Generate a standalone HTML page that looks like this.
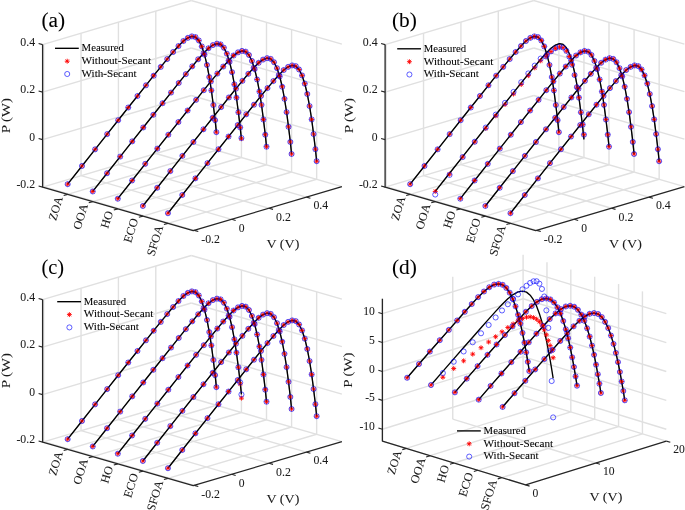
<!DOCTYPE html>
<html lang="en">
<head>
<meta charset="utf-8">
<title>P-V curves</title>
<style>
html,body{margin:0;padding:0;background:#fff;}
body{width:685px;height:510px;overflow:hidden;}
svg text{font-family:"Liberation Serif", "DejaVu Serif", serif;}
</style>
</head>
<body>
<svg width="685" height="510" viewBox="0 0 685 510" font-family='"Liberation Serif", "DejaVu Serif", serif' style="display:block">
<rect x="0" y="0" width="685" height="510" fill="#fff"/>
<line x1="42.6" y1="187.1" x2="191.3" y2="143" stroke="#e0e0e0" stroke-width="1.4"/>
<line x1="191.3" y1="143" x2="341.9" y2="186.6" stroke="#e0e0e0" stroke-width="1.4"/>
<line x1="42.6" y1="139.6" x2="191.3" y2="95.5" stroke="#e0e0e0" stroke-width="1.4"/>
<line x1="191.3" y1="95.5" x2="341.9" y2="139.1" stroke="#e0e0e0" stroke-width="1.4"/>
<line x1="42.6" y1="92.1" x2="191.3" y2="48" stroke="#e0e0e0" stroke-width="1.4"/>
<line x1="191.3" y1="48" x2="341.9" y2="91.6" stroke="#e0e0e0" stroke-width="1.4"/>
<line x1="42.6" y1="44.6" x2="191.3" y2="0.5" stroke="#e0e0e0" stroke-width="1.4"/>
<line x1="191.3" y1="0.5" x2="341.9" y2="44.1" stroke="#e0e0e0" stroke-width="1.4"/>
<line x1="43.67" y1="186.78" x2="43.67" y2="44.28" stroke="#e0e0e0" stroke-width="1.4"/>
<line x1="43.67" y1="186.78" x2="194.27" y2="230.38" stroke="#e0e0e0" stroke-width="1.4"/>
<line x1="81.04" y1="175.7" x2="81.04" y2="33.2" stroke="#e0e0e0" stroke-width="1.4"/>
<line x1="81.04" y1="175.7" x2="231.64" y2="219.3" stroke="#e0e0e0" stroke-width="1.4"/>
<line x1="118.42" y1="164.61" x2="118.42" y2="22.11" stroke="#e0e0e0" stroke-width="1.4"/>
<line x1="118.42" y1="164.61" x2="269.02" y2="208.21" stroke="#e0e0e0" stroke-width="1.4"/>
<line x1="155.79" y1="153.53" x2="155.79" y2="11.03" stroke="#e0e0e0" stroke-width="1.4"/>
<line x1="155.79" y1="153.53" x2="306.39" y2="197.13" stroke="#e0e0e0" stroke-width="1.4"/>
<line x1="216.37" y1="150.26" x2="216.37" y2="7.76" stroke="#e0e0e0" stroke-width="1.4"/>
<line x1="67.67" y1="194.36" x2="216.37" y2="150.26" stroke="#e0e0e0" stroke-width="1.4"/>
<line x1="241.44" y1="157.52" x2="241.44" y2="15.02" stroke="#e0e0e0" stroke-width="1.4"/>
<line x1="92.74" y1="201.62" x2="241.44" y2="157.52" stroke="#e0e0e0" stroke-width="1.4"/>
<line x1="266.51" y1="164.77" x2="266.51" y2="22.27" stroke="#e0e0e0" stroke-width="1.4"/>
<line x1="117.81" y1="208.87" x2="266.51" y2="164.77" stroke="#e0e0e0" stroke-width="1.4"/>
<line x1="291.58" y1="172.03" x2="291.58" y2="29.53" stroke="#e0e0e0" stroke-width="1.4"/>
<line x1="142.88" y1="216.13" x2="291.58" y2="172.03" stroke="#e0e0e0" stroke-width="1.4"/>
<line x1="316.65" y1="179.29" x2="316.65" y2="36.79" stroke="#e0e0e0" stroke-width="1.4"/>
<line x1="167.95" y1="223.39" x2="316.65" y2="179.29" stroke="#e0e0e0" stroke-width="1.4"/>
<polyline points="67.67,184.18 81.99,165.98 95.12,149.34 107.18,134.11 118.18,120.22 128.26,107.53 137.47,95.99 145.95,85.31 153.67,75.69 160.76,66.89 167.2,59.07 173.11,52.03 178.49,46.06 183.42,41 187.83,37.85 191.89,36.38 195.52,37.14 198.8,40.47 201.78,46.42 204.5,54.63 206.99,64.96 209.29,77.06 211.38,90.39 213.31,105.03 215.12,120.17 216.37,132.18" fill="none" stroke="#000" stroke-width="1.35" stroke-linejoin="round"/>
<polyline points="92.74,191.44 107.06,173.23 120.19,156.6 132.25,141.37 143.26,127.48 153.33,114.79 162.54,103.25 171.03,92.57 178.74,82.95 185.83,74.15 192.27,66.33 198.18,59.29 203.56,53.32 208.49,48.26 212.91,45.1 216.96,43.64 220.59,44.39 223.87,47.73 226.85,53.68 229.57,61.89 232.06,72.22 234.36,84.32 236.45,97.65 238.38,112.29 240.19,127.43 241.44,139.44" fill="none" stroke="#000" stroke-width="1.35" stroke-linejoin="round"/>
<polyline points="117.81,198.7 132.13,180.49 145.26,163.85 157.32,148.63 168.33,134.73 178.4,122.05 187.61,110.51 196.1,99.83 203.81,90.2 210.9,81.41 217.34,73.59 223.25,66.55 228.63,60.58 233.57,55.52 237.98,52.36 242.03,50.9 245.66,51.65 248.95,54.98 251.92,60.94 254.65,69.15 257.13,79.48 259.43,91.58 261.52,104.91 263.45,119.55 265.26,134.69 266.51,146.7" fill="none" stroke="#000" stroke-width="1.35" stroke-linejoin="round"/>
<polyline points="142.88,205.96 157.2,187.75 170.34,171.11 182.39,155.89 193.4,141.99 203.47,129.3 212.68,117.76 221.17,107.09 228.88,97.46 235.97,88.67 242.42,80.85 248.32,73.8 253.7,67.84 258.64,62.78 263.05,59.62 267.1,58.16 270.73,58.91 274.02,62.24 276.99,68.19 279.72,76.41 282.2,86.74 284.5,98.84 286.59,112.17 288.52,126.8 290.33,141.94 291.58,153.96" fill="none" stroke="#000" stroke-width="1.35" stroke-linejoin="round"/>
<polyline points="167.95,213.22 182.27,195.01 195.41,178.37 207.46,163.15 218.47,149.25 228.54,136.56 237.75,125.02 246.24,114.34 253.96,104.72 261.04,95.92 267.49,88.1 273.39,81.06 278.77,75.1 283.71,70.03 288.12,66.88 292.17,65.41 295.8,66.17 299.09,69.5 302.06,75.45 304.79,83.67 307.27,94 309.57,106.09 311.66,119.42 313.59,134.06 315.4,149.2 316.65,161.22" fill="none" stroke="#000" stroke-width="1.35" stroke-linejoin="round"/>
<path d="M65.22 184.18H70.12M67.67 181.73V186.63M65.94 182.45L69.4 185.91M65.94 185.91L69.4 182.45" stroke="#ff0000" stroke-width="0.9" fill="none"/>
<path d="M79.54 165.98H84.44M81.99 163.53V168.43M80.25 164.24L83.72 167.71M80.25 167.71L83.72 164.24" stroke="#ff0000" stroke-width="0.9" fill="none"/>
<path d="M92.67 149.34H97.57M95.12 146.89V151.79M93.39 147.6L96.86 151.07M93.39 151.07L96.86 147.6" stroke="#ff0000" stroke-width="0.9" fill="none"/>
<path d="M104.73 134.11H109.63M107.18 131.66V136.56M105.44 132.38L108.91 135.84M105.44 135.84L108.91 132.38" stroke="#ff0000" stroke-width="0.9" fill="none"/>
<path d="M115.73 120.22H120.63M118.18 117.77V122.67M116.45 118.48L119.92 121.95M116.45 121.95L119.92 118.48" stroke="#ff0000" stroke-width="0.9" fill="none"/>
<path d="M125.81 107.53H130.71M128.26 105.08V109.98M126.52 105.8L129.99 109.26M126.52 109.26L129.99 105.8" stroke="#ff0000" stroke-width="0.9" fill="none"/>
<path d="M135.02 95.99H139.92M137.47 93.54V98.44M135.74 94.26L139.2 97.72M135.74 97.72L139.2 94.26" stroke="#ff0000" stroke-width="0.9" fill="none"/>
<path d="M143.5 85.31H148.4M145.95 82.86V87.76M144.22 83.58L147.69 87.04M144.22 87.04L147.69 83.58" stroke="#ff0000" stroke-width="0.9" fill="none"/>
<path d="M151.22 75.69H156.12M153.67 73.24V78.14M151.94 73.95L155.41 77.42M151.94 77.42L155.41 73.95" stroke="#ff0000" stroke-width="0.9" fill="none"/>
<path d="M158.31 66.89H163.21M160.76 64.44V69.34M159.02 65.16L162.49 68.62M159.02 68.62L162.49 65.16" stroke="#ff0000" stroke-width="0.9" fill="none"/>
<path d="M164.75 59.07H169.65M167.2 56.62V61.52M165.47 57.34L168.94 60.8M165.47 60.8L168.94 57.34" stroke="#ff0000" stroke-width="0.9" fill="none"/>
<path d="M170.66 52.03H175.56M173.11 49.58V54.48M171.38 50.3L174.84 53.76M171.38 53.76L174.84 50.3" stroke="#ff0000" stroke-width="0.9" fill="none"/>
<path d="M176.04 46.06H180.94M178.49 43.61V48.51M176.76 44.33L180.22 47.79M176.76 47.79L180.22 44.33" stroke="#ff0000" stroke-width="0.9" fill="none"/>
<path d="M180.97 41H185.87M183.42 38.55V43.45M181.69 39.27L185.16 42.73M181.69 42.73L185.16 39.27" stroke="#ff0000" stroke-width="0.9" fill="none"/>
<path d="M185.38 37.85H190.28M187.83 35.4V40.3M186.1 36.11L189.57 39.58M186.1 39.58L189.57 36.11" stroke="#ff0000" stroke-width="0.9" fill="none"/>
<path d="M189.44 36.38H194.34M191.89 33.93V38.83M190.16 34.65L193.62 38.11M190.16 38.11L193.62 34.65" stroke="#ff0000" stroke-width="0.9" fill="none"/>
<path d="M193.07 37.14H197.97M195.52 34.69V39.59M193.78 35.4L197.25 38.87M193.78 38.87L197.25 35.4" stroke="#ff0000" stroke-width="0.9" fill="none"/>
<path d="M196.35 40.47H201.25M198.8 38.02V42.92M197.07 38.74L200.54 42.2M197.07 42.2L200.54 38.74" stroke="#ff0000" stroke-width="0.9" fill="none"/>
<path d="M199.33 46.42H204.23M201.78 43.97V48.87M200.04 44.69L203.51 48.15M200.04 48.15L203.51 44.69" stroke="#ff0000" stroke-width="0.9" fill="none"/>
<path d="M202.05 54.63H206.95M204.5 52.18V57.08M202.77 52.9L206.24 56.37M202.77 56.37L206.24 52.9" stroke="#ff0000" stroke-width="0.9" fill="none"/>
<path d="M204.54 64.96H209.44M206.99 62.51V67.41M205.26 63.23L208.72 66.7M205.26 66.7L208.72 63.23" stroke="#ff0000" stroke-width="0.9" fill="none"/>
<path d="M206.84 77.06H211.74M209.29 74.61V79.51M207.56 75.33L211.02 78.79M207.56 78.79L211.02 75.33" stroke="#ff0000" stroke-width="0.9" fill="none"/>
<path d="M208.93 90.39H213.83M211.38 87.94V92.84M209.65 88.66L213.11 92.12M209.65 92.12L213.11 88.66" stroke="#ff0000" stroke-width="0.9" fill="none"/>
<path d="M210.86 105.03H215.76M213.31 102.58V107.48M211.57 103.3L215.04 106.76M211.57 106.76L215.04 103.3" stroke="#ff0000" stroke-width="0.9" fill="none"/>
<path d="M212.67 120.17H217.57M215.12 117.72V122.62M213.39 118.44L216.85 121.9M213.39 121.9L216.85 118.44" stroke="#ff0000" stroke-width="0.9" fill="none"/>
<path d="M213.92 132.18H218.82M216.37 129.73V134.63M214.64 130.45L218.1 133.92M214.64 133.92L218.1 130.45" stroke="#ff0000" stroke-width="0.9" fill="none"/>
<path d="M90.29 191.44H95.19M92.74 188.99V193.89M91.01 189.71L94.47 193.17M91.01 193.17L94.47 189.71" stroke="#ff0000" stroke-width="0.9" fill="none"/>
<path d="M104.61 173.23H109.51M107.06 170.78V175.68M105.32 171.5L108.79 174.97M105.32 174.97L108.79 171.5" stroke="#ff0000" stroke-width="0.9" fill="none"/>
<path d="M117.74 156.6H122.64M120.19 154.15V159.05M118.46 154.86L121.93 158.33M118.46 158.33L121.93 154.86" stroke="#ff0000" stroke-width="0.9" fill="none"/>
<path d="M129.8 141.37H134.7M132.25 138.92V143.82M130.52 139.64L133.98 143.1M130.52 143.1L133.98 139.64" stroke="#ff0000" stroke-width="0.9" fill="none"/>
<path d="M140.81 127.48H145.71M143.26 125.03V129.93M141.52 125.74L144.99 129.21M141.52 129.21L144.99 125.74" stroke="#ff0000" stroke-width="0.9" fill="none"/>
<path d="M150.88 114.79H155.78M153.33 112.34V117.24M151.6 113.05L155.06 116.52M151.6 116.52L155.06 113.05" stroke="#ff0000" stroke-width="0.9" fill="none"/>
<path d="M160.09 103.25H164.99M162.54 100.8V105.7M160.81 101.52L164.27 104.98M160.81 104.98L164.27 101.52" stroke="#ff0000" stroke-width="0.9" fill="none"/>
<path d="M168.58 92.57H173.48M171.03 90.12V95.02M169.29 90.84L172.76 94.3M169.29 94.3L172.76 90.84" stroke="#ff0000" stroke-width="0.9" fill="none"/>
<path d="M176.29 82.95H181.19M178.74 80.5V85.4M177.01 81.21L180.48 84.68M177.01 84.68L180.48 81.21" stroke="#ff0000" stroke-width="0.9" fill="none"/>
<path d="M183.38 74.15H188.28M185.83 71.7V76.6M184.09 72.42L187.56 75.88M184.09 75.88L187.56 72.42" stroke="#ff0000" stroke-width="0.9" fill="none"/>
<path d="M189.82 66.33H194.72M192.27 63.88V68.78M190.54 64.6L194.01 68.06M190.54 68.06L194.01 64.6" stroke="#ff0000" stroke-width="0.9" fill="none"/>
<path d="M195.73 59.29H200.63M198.18 56.84V61.74M196.45 57.55L199.91 61.02M196.45 61.02L199.91 57.55" stroke="#ff0000" stroke-width="0.9" fill="none"/>
<path d="M201.11 53.32H206.01M203.56 50.87V55.77M201.83 51.59L205.29 55.05M201.83 55.05L205.29 51.59" stroke="#ff0000" stroke-width="0.9" fill="none"/>
<path d="M206.04 48.26H210.94M208.49 45.81V50.71M206.76 46.53L210.23 49.99M206.76 49.99L210.23 46.53" stroke="#ff0000" stroke-width="0.9" fill="none"/>
<path d="M210.46 45.1H215.36M212.91 42.65V47.55M211.17 43.37L214.64 46.84M211.17 46.84L214.64 43.37" stroke="#ff0000" stroke-width="0.9" fill="none"/>
<path d="M214.51 43.64H219.41M216.96 41.19V46.09M215.23 41.91L218.69 45.37M215.23 45.37L218.69 41.91" stroke="#ff0000" stroke-width="0.9" fill="none"/>
<path d="M218.14 44.39H223.04M220.59 41.94V46.84M218.85 42.66L222.32 46.13M218.85 46.13L222.32 42.66" stroke="#ff0000" stroke-width="0.9" fill="none"/>
<path d="M221.42 47.73H226.32M223.87 45.28V50.18M222.14 45.99L225.61 49.46M222.14 49.46L225.61 45.99" stroke="#ff0000" stroke-width="0.9" fill="none"/>
<path d="M224.4 53.68H229.3M226.85 51.23V56.13M225.11 51.95L228.58 55.41M225.11 55.41L228.58 51.95" stroke="#ff0000" stroke-width="0.9" fill="none"/>
<path d="M227.12 61.89H232.02M229.57 59.44V64.34M227.84 60.16L231.31 63.63M227.84 63.63L231.31 60.16" stroke="#ff0000" stroke-width="0.9" fill="none"/>
<path d="M229.61 72.22H234.51M232.06 69.77V74.67M230.33 70.49L233.79 73.95M230.33 73.95L233.79 70.49" stroke="#ff0000" stroke-width="0.9" fill="none"/>
<path d="M231.91 84.32H236.81M234.36 81.87V86.77M232.63 82.59L236.09 86.05M232.63 86.05L236.09 82.59" stroke="#ff0000" stroke-width="0.9" fill="none"/>
<path d="M234 97.65H238.9M236.45 95.2V100.1M234.72 95.92L238.18 99.38M234.72 99.38L238.18 95.92" stroke="#ff0000" stroke-width="0.9" fill="none"/>
<path d="M235.93 112.29H240.83M238.38 109.84V114.74M236.64 110.56L240.11 114.02M236.64 114.02L240.11 110.56" stroke="#ff0000" stroke-width="0.9" fill="none"/>
<path d="M237.74 127.43H242.64M240.19 124.98V129.88M238.46 125.69L241.92 129.16M238.46 129.16L241.92 125.69" stroke="#ff0000" stroke-width="0.9" fill="none"/>
<path d="M238.99 138.73H243.89M241.44 136.28V141.18M239.71 137L243.17 140.46M239.71 140.46L243.17 137" stroke="#ff0000" stroke-width="0.9" fill="none"/>
<path d="M115.36 198.7H120.26M117.81 196.25V201.15M116.08 196.97L119.54 200.43M116.08 200.43L119.54 196.97" stroke="#ff0000" stroke-width="0.9" fill="none"/>
<path d="M129.68 180.49H134.58M132.13 178.04V182.94M130.39 178.76L133.86 182.23M130.39 182.23L133.86 178.76" stroke="#ff0000" stroke-width="0.9" fill="none"/>
<path d="M142.81 163.85H147.71M145.26 161.4V166.3M143.53 162.12L147 165.59M143.53 165.59L147 162.12" stroke="#ff0000" stroke-width="0.9" fill="none"/>
<path d="M154.87 148.63H159.77M157.32 146.18V151.08M155.59 146.9L159.05 150.36M155.59 150.36L159.05 146.9" stroke="#ff0000" stroke-width="0.9" fill="none"/>
<path d="M165.88 134.73H170.78M168.33 132.28V137.18M166.59 133L170.06 136.47M166.59 136.47L170.06 133" stroke="#ff0000" stroke-width="0.9" fill="none"/>
<path d="M175.95 122.05H180.85M178.4 119.6V124.5M176.67 120.31L180.13 123.78M176.67 123.78L180.13 120.31" stroke="#ff0000" stroke-width="0.9" fill="none"/>
<path d="M185.16 110.51H190.06M187.61 108.06V112.96M185.88 108.77L189.34 112.24M185.88 112.24L189.34 108.77" stroke="#ff0000" stroke-width="0.9" fill="none"/>
<path d="M193.65 99.83H198.55M196.1 97.38V102.28M194.36 98.09L197.83 101.56M194.36 101.56L197.83 98.09" stroke="#ff0000" stroke-width="0.9" fill="none"/>
<path d="M201.36 90.2H206.26M203.81 87.75V92.65M202.08 88.47L205.55 91.94M202.08 91.94L205.55 88.47" stroke="#ff0000" stroke-width="0.9" fill="none"/>
<path d="M208.45 81.41H213.35M210.9 78.96V83.86M209.16 79.67L212.63 83.14M209.16 83.14L212.63 79.67" stroke="#ff0000" stroke-width="0.9" fill="none"/>
<path d="M214.89 73.59H219.79M217.34 71.14V76.04M215.61 71.86L219.08 75.32M215.61 75.32L219.08 71.86" stroke="#ff0000" stroke-width="0.9" fill="none"/>
<path d="M220.8 66.55H225.7M223.25 64.1V69M221.52 64.81L224.98 68.28M221.52 68.28L224.98 64.81" stroke="#ff0000" stroke-width="0.9" fill="none"/>
<path d="M226.18 60.58H231.08M228.63 58.13V63.03M226.9 58.85L230.36 62.31M226.9 62.31L230.36 58.85" stroke="#ff0000" stroke-width="0.9" fill="none"/>
<path d="M231.12 55.52H236.02M233.57 53.07V57.97M231.83 53.78L235.3 57.25M231.83 57.25L235.3 53.78" stroke="#ff0000" stroke-width="0.9" fill="none"/>
<path d="M235.53 52.36H240.43M237.98 49.91V54.81M236.24 50.63L239.71 54.09M236.24 54.09L239.71 50.63" stroke="#ff0000" stroke-width="0.9" fill="none"/>
<path d="M239.58 50.9H244.48M242.03 48.45V53.35M240.3 49.16L243.76 52.63M240.3 52.63L243.76 49.16" stroke="#ff0000" stroke-width="0.9" fill="none"/>
<path d="M243.21 51.65H248.11M245.66 49.2V54.1M243.92 49.92L247.39 53.38M243.92 53.38L247.39 49.92" stroke="#ff0000" stroke-width="0.9" fill="none"/>
<path d="M246.5 54.98H251.4M248.95 52.53V57.43M247.21 53.25L250.68 56.72M247.21 56.72L250.68 53.25" stroke="#ff0000" stroke-width="0.9" fill="none"/>
<path d="M249.47 60.94H254.37M251.92 58.49V63.39M250.18 59.2L253.65 62.67M250.18 62.67L253.65 59.2" stroke="#ff0000" stroke-width="0.9" fill="none"/>
<path d="M252.2 69.15H257.1M254.65 66.7V71.6M252.91 67.42L256.38 70.88M252.91 70.88L256.38 67.42" stroke="#ff0000" stroke-width="0.9" fill="none"/>
<path d="M254.68 79.48H259.58M257.13 77.03V81.93M255.4 77.75L258.86 81.21M255.4 81.21L258.86 77.75" stroke="#ff0000" stroke-width="0.9" fill="none"/>
<path d="M256.98 91.58H261.88M259.43 89.13V94.03M257.7 89.84L261.16 93.31M257.7 93.31L261.16 89.84" stroke="#ff0000" stroke-width="0.9" fill="none"/>
<path d="M259.07 104.91H263.97M261.52 102.46V107.36M259.79 103.18L263.25 106.64M259.79 106.64L263.25 103.18" stroke="#ff0000" stroke-width="0.9" fill="none"/>
<path d="M261 119.55H265.9M263.45 117.1V122M261.72 117.81L265.18 121.28M261.72 121.28L265.18 117.81" stroke="#ff0000" stroke-width="0.9" fill="none"/>
<path d="M262.81 134.69H267.71M265.26 132.24V137.14M263.53 132.95L266.99 136.42M263.53 136.42L266.99 132.95" stroke="#ff0000" stroke-width="0.9" fill="none"/>
<path d="M264.06 146.7H268.96M266.51 144.25V149.15M264.78 144.97L268.24 148.43M264.78 148.43L268.24 144.97" stroke="#ff0000" stroke-width="0.9" fill="none"/>
<path d="M140.43 205.96H145.33M142.88 203.51V208.41M141.15 204.22L144.62 207.69M141.15 207.69L144.62 204.22" stroke="#ff0000" stroke-width="0.9" fill="none"/>
<path d="M154.75 187.75H159.65M157.2 185.3V190.2M155.47 186.02L158.93 189.48M155.47 189.48L158.93 186.02" stroke="#ff0000" stroke-width="0.9" fill="none"/>
<path d="M167.89 171.11H172.79M170.34 168.66V173.56M168.6 169.38L172.07 172.84M168.6 172.84L172.07 169.38" stroke="#ff0000" stroke-width="0.9" fill="none"/>
<path d="M179.94 155.89H184.84M182.39 153.44V158.34M180.66 154.15L184.12 157.62M180.66 157.62L184.12 154.15" stroke="#ff0000" stroke-width="0.9" fill="none"/>
<path d="M190.95 141.99H195.85M193.4 139.54V144.44M191.66 140.26L195.13 143.72M191.66 143.72L195.13 140.26" stroke="#ff0000" stroke-width="0.9" fill="none"/>
<path d="M201.02 129.3H205.92M203.47 126.85V131.75M201.74 127.57L205.2 131.04M201.74 131.04L205.2 127.57" stroke="#ff0000" stroke-width="0.9" fill="none"/>
<path d="M210.23 117.76H215.13M212.68 115.31V120.21M210.95 116.03L214.41 119.5M210.95 119.5L214.41 116.03" stroke="#ff0000" stroke-width="0.9" fill="none"/>
<path d="M218.72 107.09H223.62M221.17 104.64V109.54M219.43 105.35L222.9 108.82M219.43 108.82L222.9 105.35" stroke="#ff0000" stroke-width="0.9" fill="none"/>
<path d="M226.43 97.46H231.33M228.88 95.01V99.91M227.15 95.73L230.62 99.19M227.15 99.19L230.62 95.73" stroke="#ff0000" stroke-width="0.9" fill="none"/>
<path d="M233.52 88.67H238.42M235.97 86.22V91.12M234.24 86.93L237.7 90.4M234.24 90.4L237.7 86.93" stroke="#ff0000" stroke-width="0.9" fill="none"/>
<path d="M239.97 80.85H244.87M242.42 78.4V83.3M240.68 79.11L244.15 82.58M240.68 82.58L244.15 79.11" stroke="#ff0000" stroke-width="0.9" fill="none"/>
<path d="M245.87 73.8H250.77M248.32 71.35V76.25M246.59 72.07L250.05 75.54M246.59 75.54L250.05 72.07" stroke="#ff0000" stroke-width="0.9" fill="none"/>
<path d="M251.25 67.84H256.15M253.7 65.39V70.29M251.97 66.1L255.43 69.57M251.97 69.57L255.43 66.1" stroke="#ff0000" stroke-width="0.9" fill="none"/>
<path d="M256.19 62.78H261.09M258.64 60.33V65.23M256.9 61.04L260.37 64.51M256.9 64.51L260.37 61.04" stroke="#ff0000" stroke-width="0.9" fill="none"/>
<path d="M260.6 59.62H265.5M263.05 57.17V62.07M261.31 57.89L264.78 61.35M261.31 61.35L264.78 57.89" stroke="#ff0000" stroke-width="0.9" fill="none"/>
<path d="M264.65 58.16H269.55M267.1 55.71V60.61M265.37 56.42L268.83 59.89M265.37 59.89L268.83 56.42" stroke="#ff0000" stroke-width="0.9" fill="none"/>
<path d="M268.28 58.91H273.18M270.73 56.46V61.36M268.99 57.18L272.46 60.64M268.99 60.64L272.46 57.18" stroke="#ff0000" stroke-width="0.9" fill="none"/>
<path d="M271.57 62.24H276.47M274.02 59.79V64.69M272.28 60.51L275.75 63.98M272.28 63.98L275.75 60.51" stroke="#ff0000" stroke-width="0.9" fill="none"/>
<path d="M274.54 68.19H279.44M276.99 65.74V70.64M275.26 66.46L278.72 69.93M275.26 69.93L278.72 66.46" stroke="#ff0000" stroke-width="0.9" fill="none"/>
<path d="M277.27 76.41H282.17M279.72 73.96V78.86M277.98 74.68L281.45 78.14M277.98 78.14L281.45 74.68" stroke="#ff0000" stroke-width="0.9" fill="none"/>
<path d="M279.75 86.74H284.65M282.2 84.29V89.19M280.47 85.01L283.93 88.47M280.47 88.47L283.93 85.01" stroke="#ff0000" stroke-width="0.9" fill="none"/>
<path d="M282.05 98.84H286.95M284.5 96.39V101.29M282.77 97.1L286.23 100.57M282.77 100.57L286.23 97.1" stroke="#ff0000" stroke-width="0.9" fill="none"/>
<path d="M284.14 112.17H289.04M286.59 109.72V114.62M284.86 110.43L288.33 113.9M284.86 113.9L288.33 110.43" stroke="#ff0000" stroke-width="0.9" fill="none"/>
<path d="M286.07 126.8H290.97M288.52 124.35V129.25M286.79 125.07L290.25 128.54M286.79 128.54L290.25 125.07" stroke="#ff0000" stroke-width="0.9" fill="none"/>
<path d="M287.88 141.94H292.78M290.33 139.49V144.39M288.6 140.21L292.06 143.68M288.6 143.68L292.06 140.21" stroke="#ff0000" stroke-width="0.9" fill="none"/>
<path d="M289.13 153.96H294.03M291.58 151.51V156.41M289.85 152.23L293.32 155.69M289.85 155.69L293.32 152.23" stroke="#ff0000" stroke-width="0.9" fill="none"/>
<path d="M165.5 213.22H170.4M167.95 210.77V215.67M166.22 211.48L169.69 214.95M166.22 214.95L169.69 211.48" stroke="#ff0000" stroke-width="0.9" fill="none"/>
<path d="M179.82 195.01H184.72M182.27 192.56V197.46M180.54 193.28L184 196.74M180.54 196.74L184 193.28" stroke="#ff0000" stroke-width="0.9" fill="none"/>
<path d="M192.96 178.37H197.86M195.41 175.92V180.82M193.67 176.64L197.14 180.1M193.67 180.1L197.14 176.64" stroke="#ff0000" stroke-width="0.9" fill="none"/>
<path d="M205.01 163.15H209.91M207.46 160.7V165.6M205.73 161.41L209.19 164.88M205.73 164.88L209.19 161.41" stroke="#ff0000" stroke-width="0.9" fill="none"/>
<path d="M216.02 149.25H220.92M218.47 146.8V151.7M216.73 147.52L220.2 150.98M216.73 150.98L220.2 147.52" stroke="#ff0000" stroke-width="0.9" fill="none"/>
<path d="M226.09 136.56H230.99M228.54 134.11V139.01M226.81 134.83L230.27 138.29M226.81 138.29L230.27 134.83" stroke="#ff0000" stroke-width="0.9" fill="none"/>
<path d="M235.3 125.02H240.2M237.75 122.57V127.47M236.02 123.29L239.49 126.75M236.02 126.75L239.49 123.29" stroke="#ff0000" stroke-width="0.9" fill="none"/>
<path d="M243.79 114.34H248.69M246.24 111.89V116.79M244.51 112.61L247.97 116.08M244.51 116.08L247.97 112.61" stroke="#ff0000" stroke-width="0.9" fill="none"/>
<path d="M251.51 104.72H256.41M253.96 102.27V107.17M252.22 102.99L255.69 106.45M252.22 106.45L255.69 102.99" stroke="#ff0000" stroke-width="0.9" fill="none"/>
<path d="M258.59 95.92H263.49M261.04 93.47V98.37M259.31 94.19L262.77 97.66M259.31 97.66L262.77 94.19" stroke="#ff0000" stroke-width="0.9" fill="none"/>
<path d="M265.04 88.1H269.94M267.49 85.65V90.55M265.75 86.37L269.22 89.84M265.75 89.84L269.22 86.37" stroke="#ff0000" stroke-width="0.9" fill="none"/>
<path d="M270.94 81.06H275.84M273.39 78.61V83.51M271.66 79.33L275.12 82.79M271.66 82.79L275.12 79.33" stroke="#ff0000" stroke-width="0.9" fill="none"/>
<path d="M276.32 75.1H281.22M278.77 72.65V77.55M277.04 73.36L280.51 76.83M277.04 76.83L280.51 73.36" stroke="#ff0000" stroke-width="0.9" fill="none"/>
<path d="M281.26 70.03H286.16M283.71 67.58V72.48M281.97 68.3L285.44 71.77M281.97 71.77L285.44 68.3" stroke="#ff0000" stroke-width="0.9" fill="none"/>
<path d="M285.67 66.88H290.57M288.12 64.43V69.33M286.38 65.15L289.85 68.61M286.38 68.61L289.85 65.15" stroke="#ff0000" stroke-width="0.9" fill="none"/>
<path d="M289.72 65.41H294.62M292.17 62.96V67.86M290.44 63.68L293.9 67.15M290.44 67.15L293.9 63.68" stroke="#ff0000" stroke-width="0.9" fill="none"/>
<path d="M293.35 66.17H298.25M295.8 63.72V68.62M294.07 64.44L297.53 67.9M294.07 67.9L297.53 64.44" stroke="#ff0000" stroke-width="0.9" fill="none"/>
<path d="M296.64 69.5H301.54M299.09 67.05V71.95M297.35 67.77L300.82 71.23M297.35 71.23L300.82 67.77" stroke="#ff0000" stroke-width="0.9" fill="none"/>
<path d="M299.61 75.45H304.51M302.06 73V77.9M300.33 73.72L303.79 77.19M300.33 77.19L303.79 73.72" stroke="#ff0000" stroke-width="0.9" fill="none"/>
<path d="M302.34 83.67H307.24M304.79 81.22V86.12M303.05 81.93L306.52 85.4M303.05 85.4L306.52 81.93" stroke="#ff0000" stroke-width="0.9" fill="none"/>
<path d="M304.82 94H309.72M307.27 91.55V96.45M305.54 92.26L309 95.73M305.54 95.73L309 92.26" stroke="#ff0000" stroke-width="0.9" fill="none"/>
<path d="M307.12 106.09H312.02M309.57 103.64V108.54M307.84 104.36L311.3 107.83M307.84 107.83L311.3 104.36" stroke="#ff0000" stroke-width="0.9" fill="none"/>
<path d="M309.21 119.42H314.11M311.66 116.97V121.87M309.93 117.69L313.4 121.16M309.93 121.16L313.4 117.69" stroke="#ff0000" stroke-width="0.9" fill="none"/>
<path d="M311.14 134.06H316.04M313.59 131.61V136.51M311.86 132.33L315.32 135.79M311.86 135.79L315.32 132.33" stroke="#ff0000" stroke-width="0.9" fill="none"/>
<path d="M312.95 149.2H317.85M315.4 146.75V151.65M313.67 147.47L317.13 150.93M313.67 150.93L317.13 147.47" stroke="#ff0000" stroke-width="0.9" fill="none"/>
<path d="M314.2 161.22H319.1M316.65 158.77V163.67M314.92 159.48L318.39 162.95M314.92 162.95L318.39 159.48" stroke="#ff0000" stroke-width="0.9" fill="none"/>
<circle cx="67.67" cy="184.18" r="2.55" stroke="#0a0aff" stroke-width="0.65" fill="none"/>
<circle cx="81.99" cy="165.98" r="2.55" stroke="#0a0aff" stroke-width="0.65" fill="none"/>
<circle cx="95.12" cy="149.34" r="2.55" stroke="#0a0aff" stroke-width="0.65" fill="none"/>
<circle cx="107.18" cy="134.11" r="2.55" stroke="#0a0aff" stroke-width="0.65" fill="none"/>
<circle cx="118.18" cy="120.22" r="2.55" stroke="#0a0aff" stroke-width="0.65" fill="none"/>
<circle cx="128.26" cy="107.53" r="2.55" stroke="#0a0aff" stroke-width="0.65" fill="none"/>
<circle cx="137.47" cy="95.99" r="2.55" stroke="#0a0aff" stroke-width="0.65" fill="none"/>
<circle cx="145.95" cy="85.31" r="2.55" stroke="#0a0aff" stroke-width="0.65" fill="none"/>
<circle cx="153.67" cy="75.69" r="2.55" stroke="#0a0aff" stroke-width="0.65" fill="none"/>
<circle cx="160.76" cy="66.89" r="2.55" stroke="#0a0aff" stroke-width="0.65" fill="none"/>
<circle cx="167.2" cy="59.07" r="2.55" stroke="#0a0aff" stroke-width="0.65" fill="none"/>
<circle cx="173.11" cy="52.03" r="2.55" stroke="#0a0aff" stroke-width="0.65" fill="none"/>
<circle cx="178.49" cy="46.06" r="2.55" stroke="#0a0aff" stroke-width="0.65" fill="none"/>
<circle cx="183.42" cy="41" r="2.55" stroke="#0a0aff" stroke-width="0.65" fill="none"/>
<circle cx="187.83" cy="37.85" r="2.55" stroke="#0a0aff" stroke-width="0.65" fill="none"/>
<circle cx="191.89" cy="36.38" r="2.55" stroke="#0a0aff" stroke-width="0.65" fill="none"/>
<circle cx="195.52" cy="37.14" r="2.55" stroke="#0a0aff" stroke-width="0.65" fill="none"/>
<circle cx="198.8" cy="40.47" r="2.55" stroke="#0a0aff" stroke-width="0.65" fill="none"/>
<circle cx="201.78" cy="46.42" r="2.55" stroke="#0a0aff" stroke-width="0.65" fill="none"/>
<circle cx="204.5" cy="54.63" r="2.55" stroke="#0a0aff" stroke-width="0.65" fill="none"/>
<circle cx="206.99" cy="64.96" r="2.55" stroke="#0a0aff" stroke-width="0.65" fill="none"/>
<circle cx="209.29" cy="77.06" r="2.55" stroke="#0a0aff" stroke-width="0.65" fill="none"/>
<circle cx="211.38" cy="90.39" r="2.55" stroke="#0a0aff" stroke-width="0.65" fill="none"/>
<circle cx="213.31" cy="105.03" r="2.55" stroke="#0a0aff" stroke-width="0.65" fill="none"/>
<circle cx="215.12" cy="120.17" r="2.55" stroke="#0a0aff" stroke-width="0.65" fill="none"/>
<circle cx="216.37" cy="132.18" r="2.55" stroke="#0a0aff" stroke-width="0.65" fill="none"/>
<circle cx="92.74" cy="191.44" r="2.55" stroke="#0a0aff" stroke-width="0.65" fill="none"/>
<circle cx="107.06" cy="173.23" r="2.55" stroke="#0a0aff" stroke-width="0.65" fill="none"/>
<circle cx="120.19" cy="156.6" r="2.55" stroke="#0a0aff" stroke-width="0.65" fill="none"/>
<circle cx="132.25" cy="141.37" r="2.55" stroke="#0a0aff" stroke-width="0.65" fill="none"/>
<circle cx="143.26" cy="127.48" r="2.55" stroke="#0a0aff" stroke-width="0.65" fill="none"/>
<circle cx="153.33" cy="114.79" r="2.55" stroke="#0a0aff" stroke-width="0.65" fill="none"/>
<circle cx="162.54" cy="103.25" r="2.55" stroke="#0a0aff" stroke-width="0.65" fill="none"/>
<circle cx="171.03" cy="92.57" r="2.55" stroke="#0a0aff" stroke-width="0.65" fill="none"/>
<circle cx="178.74" cy="82.95" r="2.55" stroke="#0a0aff" stroke-width="0.65" fill="none"/>
<circle cx="185.83" cy="74.15" r="2.55" stroke="#0a0aff" stroke-width="0.65" fill="none"/>
<circle cx="192.27" cy="66.33" r="2.55" stroke="#0a0aff" stroke-width="0.65" fill="none"/>
<circle cx="198.18" cy="59.29" r="2.55" stroke="#0a0aff" stroke-width="0.65" fill="none"/>
<circle cx="203.56" cy="53.32" r="2.55" stroke="#0a0aff" stroke-width="0.65" fill="none"/>
<circle cx="208.49" cy="48.26" r="2.55" stroke="#0a0aff" stroke-width="0.65" fill="none"/>
<circle cx="212.91" cy="45.1" r="2.55" stroke="#0a0aff" stroke-width="0.65" fill="none"/>
<circle cx="216.96" cy="43.64" r="2.55" stroke="#0a0aff" stroke-width="0.65" fill="none"/>
<circle cx="220.59" cy="44.39" r="2.55" stroke="#0a0aff" stroke-width="0.65" fill="none"/>
<circle cx="223.87" cy="47.73" r="2.55" stroke="#0a0aff" stroke-width="0.65" fill="none"/>
<circle cx="226.85" cy="53.68" r="2.55" stroke="#0a0aff" stroke-width="0.65" fill="none"/>
<circle cx="229.57" cy="61.89" r="2.55" stroke="#0a0aff" stroke-width="0.65" fill="none"/>
<circle cx="232.06" cy="72.22" r="2.55" stroke="#0a0aff" stroke-width="0.65" fill="none"/>
<circle cx="234.36" cy="84.32" r="2.55" stroke="#0a0aff" stroke-width="0.65" fill="none"/>
<circle cx="236.45" cy="97.65" r="2.55" stroke="#0a0aff" stroke-width="0.65" fill="none"/>
<circle cx="238.38" cy="112.29" r="2.55" stroke="#0a0aff" stroke-width="0.65" fill="none"/>
<circle cx="240.19" cy="127.43" r="2.55" stroke="#0a0aff" stroke-width="0.65" fill="none"/>
<circle cx="241.44" cy="138.02" r="2.55" stroke="#0a0aff" stroke-width="0.65" fill="none"/>
<circle cx="117.81" cy="198.7" r="2.55" stroke="#0a0aff" stroke-width="0.65" fill="none"/>
<circle cx="132.13" cy="180.49" r="2.55" stroke="#0a0aff" stroke-width="0.65" fill="none"/>
<circle cx="145.26" cy="163.85" r="2.55" stroke="#0a0aff" stroke-width="0.65" fill="none"/>
<circle cx="157.32" cy="148.63" r="2.55" stroke="#0a0aff" stroke-width="0.65" fill="none"/>
<circle cx="168.33" cy="134.73" r="2.55" stroke="#0a0aff" stroke-width="0.65" fill="none"/>
<circle cx="178.4" cy="122.05" r="2.55" stroke="#0a0aff" stroke-width="0.65" fill="none"/>
<circle cx="187.61" cy="110.51" r="2.55" stroke="#0a0aff" stroke-width="0.65" fill="none"/>
<circle cx="196.1" cy="99.83" r="2.55" stroke="#0a0aff" stroke-width="0.65" fill="none"/>
<circle cx="203.81" cy="90.2" r="2.55" stroke="#0a0aff" stroke-width="0.65" fill="none"/>
<circle cx="210.9" cy="81.41" r="2.55" stroke="#0a0aff" stroke-width="0.65" fill="none"/>
<circle cx="217.34" cy="73.59" r="2.55" stroke="#0a0aff" stroke-width="0.65" fill="none"/>
<circle cx="223.25" cy="66.55" r="2.55" stroke="#0a0aff" stroke-width="0.65" fill="none"/>
<circle cx="228.63" cy="60.58" r="2.55" stroke="#0a0aff" stroke-width="0.65" fill="none"/>
<circle cx="233.57" cy="55.52" r="2.55" stroke="#0a0aff" stroke-width="0.65" fill="none"/>
<circle cx="237.98" cy="52.36" r="2.55" stroke="#0a0aff" stroke-width="0.65" fill="none"/>
<circle cx="242.03" cy="50.9" r="2.55" stroke="#0a0aff" stroke-width="0.65" fill="none"/>
<circle cx="245.66" cy="51.65" r="2.55" stroke="#0a0aff" stroke-width="0.65" fill="none"/>
<circle cx="248.95" cy="54.98" r="2.55" stroke="#0a0aff" stroke-width="0.65" fill="none"/>
<circle cx="251.92" cy="60.94" r="2.55" stroke="#0a0aff" stroke-width="0.65" fill="none"/>
<circle cx="254.65" cy="69.15" r="2.55" stroke="#0a0aff" stroke-width="0.65" fill="none"/>
<circle cx="257.13" cy="79.48" r="2.55" stroke="#0a0aff" stroke-width="0.65" fill="none"/>
<circle cx="259.43" cy="91.58" r="2.55" stroke="#0a0aff" stroke-width="0.65" fill="none"/>
<circle cx="261.52" cy="104.91" r="2.55" stroke="#0a0aff" stroke-width="0.65" fill="none"/>
<circle cx="263.45" cy="119.55" r="2.55" stroke="#0a0aff" stroke-width="0.65" fill="none"/>
<circle cx="265.26" cy="134.69" r="2.55" stroke="#0a0aff" stroke-width="0.65" fill="none"/>
<circle cx="266.51" cy="146.7" r="2.55" stroke="#0a0aff" stroke-width="0.65" fill="none"/>
<circle cx="142.88" cy="205.96" r="2.55" stroke="#0a0aff" stroke-width="0.65" fill="none"/>
<circle cx="157.2" cy="187.75" r="2.55" stroke="#0a0aff" stroke-width="0.65" fill="none"/>
<circle cx="170.34" cy="171.11" r="2.55" stroke="#0a0aff" stroke-width="0.65" fill="none"/>
<circle cx="182.39" cy="155.89" r="2.55" stroke="#0a0aff" stroke-width="0.65" fill="none"/>
<circle cx="193.4" cy="141.99" r="2.55" stroke="#0a0aff" stroke-width="0.65" fill="none"/>
<circle cx="203.47" cy="129.3" r="2.55" stroke="#0a0aff" stroke-width="0.65" fill="none"/>
<circle cx="212.68" cy="117.76" r="2.55" stroke="#0a0aff" stroke-width="0.65" fill="none"/>
<circle cx="221.17" cy="107.09" r="2.55" stroke="#0a0aff" stroke-width="0.65" fill="none"/>
<circle cx="228.88" cy="97.46" r="2.55" stroke="#0a0aff" stroke-width="0.65" fill="none"/>
<circle cx="235.97" cy="88.67" r="2.55" stroke="#0a0aff" stroke-width="0.65" fill="none"/>
<circle cx="242.42" cy="80.85" r="2.55" stroke="#0a0aff" stroke-width="0.65" fill="none"/>
<circle cx="248.32" cy="73.8" r="2.55" stroke="#0a0aff" stroke-width="0.65" fill="none"/>
<circle cx="253.7" cy="67.84" r="2.55" stroke="#0a0aff" stroke-width="0.65" fill="none"/>
<circle cx="258.64" cy="62.78" r="2.55" stroke="#0a0aff" stroke-width="0.65" fill="none"/>
<circle cx="263.05" cy="59.62" r="2.55" stroke="#0a0aff" stroke-width="0.65" fill="none"/>
<circle cx="267.1" cy="58.16" r="2.55" stroke="#0a0aff" stroke-width="0.65" fill="none"/>
<circle cx="270.73" cy="58.91" r="2.55" stroke="#0a0aff" stroke-width="0.65" fill="none"/>
<circle cx="274.02" cy="62.24" r="2.55" stroke="#0a0aff" stroke-width="0.65" fill="none"/>
<circle cx="276.99" cy="68.19" r="2.55" stroke="#0a0aff" stroke-width="0.65" fill="none"/>
<circle cx="279.72" cy="76.41" r="2.55" stroke="#0a0aff" stroke-width="0.65" fill="none"/>
<circle cx="282.2" cy="86.74" r="2.55" stroke="#0a0aff" stroke-width="0.65" fill="none"/>
<circle cx="284.5" cy="98.84" r="2.55" stroke="#0a0aff" stroke-width="0.65" fill="none"/>
<circle cx="286.59" cy="112.17" r="2.55" stroke="#0a0aff" stroke-width="0.65" fill="none"/>
<circle cx="288.52" cy="126.8" r="2.55" stroke="#0a0aff" stroke-width="0.65" fill="none"/>
<circle cx="290.33" cy="141.94" r="2.55" stroke="#0a0aff" stroke-width="0.65" fill="none"/>
<circle cx="291.58" cy="153.96" r="2.55" stroke="#0a0aff" stroke-width="0.65" fill="none"/>
<circle cx="167.95" cy="213.22" r="2.55" stroke="#0a0aff" stroke-width="0.65" fill="none"/>
<circle cx="182.27" cy="195.01" r="2.55" stroke="#0a0aff" stroke-width="0.65" fill="none"/>
<circle cx="195.41" cy="178.37" r="2.55" stroke="#0a0aff" stroke-width="0.65" fill="none"/>
<circle cx="207.46" cy="163.15" r="2.55" stroke="#0a0aff" stroke-width="0.65" fill="none"/>
<circle cx="218.47" cy="149.25" r="2.55" stroke="#0a0aff" stroke-width="0.65" fill="none"/>
<circle cx="228.54" cy="136.56" r="2.55" stroke="#0a0aff" stroke-width="0.65" fill="none"/>
<circle cx="237.75" cy="125.02" r="2.55" stroke="#0a0aff" stroke-width="0.65" fill="none"/>
<circle cx="246.24" cy="114.34" r="2.55" stroke="#0a0aff" stroke-width="0.65" fill="none"/>
<circle cx="253.96" cy="104.72" r="2.55" stroke="#0a0aff" stroke-width="0.65" fill="none"/>
<circle cx="261.04" cy="95.92" r="2.55" stroke="#0a0aff" stroke-width="0.65" fill="none"/>
<circle cx="267.49" cy="88.1" r="2.55" stroke="#0a0aff" stroke-width="0.65" fill="none"/>
<circle cx="273.39" cy="81.06" r="2.55" stroke="#0a0aff" stroke-width="0.65" fill="none"/>
<circle cx="278.77" cy="75.1" r="2.55" stroke="#0a0aff" stroke-width="0.65" fill="none"/>
<circle cx="283.71" cy="70.03" r="2.55" stroke="#0a0aff" stroke-width="0.65" fill="none"/>
<circle cx="288.12" cy="66.88" r="2.55" stroke="#0a0aff" stroke-width="0.65" fill="none"/>
<circle cx="292.17" cy="65.41" r="2.55" stroke="#0a0aff" stroke-width="0.65" fill="none"/>
<circle cx="295.8" cy="66.17" r="2.55" stroke="#0a0aff" stroke-width="0.65" fill="none"/>
<circle cx="299.09" cy="69.5" r="2.55" stroke="#0a0aff" stroke-width="0.65" fill="none"/>
<circle cx="302.06" cy="75.45" r="2.55" stroke="#0a0aff" stroke-width="0.65" fill="none"/>
<circle cx="304.79" cy="83.67" r="2.55" stroke="#0a0aff" stroke-width="0.65" fill="none"/>
<circle cx="307.27" cy="94" r="2.55" stroke="#0a0aff" stroke-width="0.65" fill="none"/>
<circle cx="309.57" cy="106.09" r="2.55" stroke="#0a0aff" stroke-width="0.65" fill="none"/>
<circle cx="311.66" cy="119.42" r="2.55" stroke="#0a0aff" stroke-width="0.65" fill="none"/>
<circle cx="313.59" cy="134.06" r="2.55" stroke="#0a0aff" stroke-width="0.65" fill="none"/>
<circle cx="315.4" cy="149.2" r="2.55" stroke="#0a0aff" stroke-width="0.65" fill="none"/>
<circle cx="316.65" cy="161.22" r="2.55" stroke="#0a0aff" stroke-width="0.65" fill="none"/>
<polyline points="67.67,184.18 81.99,165.98 95.12,149.34 107.18,134.11 118.18,120.22 128.26,107.53 137.47,95.99 145.95,85.31 153.67,75.69 160.76,66.89 167.2,59.07 173.11,52.03 178.49,46.06 183.42,41 187.83,37.85 191.89,36.38 195.52,37.14 198.8,40.47 201.78,46.42 204.5,54.63 206.99,64.96 209.29,77.06 211.38,90.39 213.31,105.03 215.12,120.17 216.37,132.18" fill="none" stroke="#000" stroke-opacity="0.4" stroke-width="1.1" stroke-linejoin="round"/>
<polyline points="92.74,191.44 107.06,173.23 120.19,156.6 132.25,141.37 143.26,127.48 153.33,114.79 162.54,103.25 171.03,92.57 178.74,82.95 185.83,74.15 192.27,66.33 198.18,59.29 203.56,53.32 208.49,48.26 212.91,45.1 216.96,43.64 220.59,44.39 223.87,47.73 226.85,53.68 229.57,61.89 232.06,72.22 234.36,84.32 236.45,97.65 238.38,112.29 240.19,127.43 241.44,139.44" fill="none" stroke="#000" stroke-opacity="0.4" stroke-width="1.1" stroke-linejoin="round"/>
<polyline points="117.81,198.7 132.13,180.49 145.26,163.85 157.32,148.63 168.33,134.73 178.4,122.05 187.61,110.51 196.1,99.83 203.81,90.2 210.9,81.41 217.34,73.59 223.25,66.55 228.63,60.58 233.57,55.52 237.98,52.36 242.03,50.9 245.66,51.65 248.95,54.98 251.92,60.94 254.65,69.15 257.13,79.48 259.43,91.58 261.52,104.91 263.45,119.55 265.26,134.69 266.51,146.7" fill="none" stroke="#000" stroke-opacity="0.4" stroke-width="1.1" stroke-linejoin="round"/>
<polyline points="142.88,205.96 157.2,187.75 170.34,171.11 182.39,155.89 193.4,141.99 203.47,129.3 212.68,117.76 221.17,107.09 228.88,97.46 235.97,88.67 242.42,80.85 248.32,73.8 253.7,67.84 258.64,62.78 263.05,59.62 267.1,58.16 270.73,58.91 274.02,62.24 276.99,68.19 279.72,76.41 282.2,86.74 284.5,98.84 286.59,112.17 288.52,126.8 290.33,141.94 291.58,153.96" fill="none" stroke="#000" stroke-opacity="0.4" stroke-width="1.1" stroke-linejoin="round"/>
<polyline points="167.95,213.22 182.27,195.01 195.41,178.37 207.46,163.15 218.47,149.25 228.54,136.56 237.75,125.02 246.24,114.34 253.96,104.72 261.04,95.92 267.49,88.1 273.39,81.06 278.77,75.1 283.71,70.03 288.12,66.88 292.17,65.41 295.8,66.17 299.09,69.5 302.06,75.45 304.79,83.67 307.27,94 309.57,106.09 311.66,119.42 313.59,134.06 315.4,149.2 316.65,161.22" fill="none" stroke="#000" stroke-opacity="0.4" stroke-width="1.1" stroke-linejoin="round"/>
<polyline points="42.6,44.6 42.6,187.1 193.2,230.7 341.9,186.6" fill="none" stroke="#262626" stroke-width="1.3" stroke-linejoin="round"/>
<line x1="42.6" y1="187.1" x2="38.57" y2="185.93" stroke="#262626" stroke-width="1.1"/>
<text x="35.1" y="188.2" font-size="12.2" text-anchor="end" fill="#1a1a1a" stroke="#1a1a1a" stroke-width="0.06" textLength="18.69" lengthAdjust="spacingAndGlyphs">-0.2</text>
<line x1="42.6" y1="139.6" x2="38.57" y2="138.43" stroke="#262626" stroke-width="1.1"/>
<text x="35.1" y="140.7" font-size="12.2" text-anchor="end" fill="#1a1a1a" stroke="#1a1a1a" stroke-width="0.06" textLength="5.8" lengthAdjust="spacingAndGlyphs">0</text>
<line x1="42.6" y1="92.1" x2="38.57" y2="90.93" stroke="#262626" stroke-width="1.1"/>
<text x="35.1" y="93.2" font-size="12.2" text-anchor="end" fill="#1a1a1a" stroke="#1a1a1a" stroke-width="0.06" textLength="14.82" lengthAdjust="spacingAndGlyphs">0.2</text>
<line x1="42.6" y1="44.6" x2="38.57" y2="43.43" stroke="#262626" stroke-width="1.1"/>
<text x="35.1" y="45.7" font-size="12.2" text-anchor="end" fill="#1a1a1a" stroke="#1a1a1a" stroke-width="0.06" textLength="14.82" lengthAdjust="spacingAndGlyphs">0.4</text>
<line x1="67.67" y1="194.36" x2="63.64" y2="195.55" stroke="#262626" stroke-width="1.1"/>
<text x="63.07" y="197.86" font-size="12" text-anchor="end" fill="#1a1a1a" stroke="#1a1a1a" stroke-width="0.06" transform="rotate(-73 63.07 197.86)" textLength="24.38" lengthAdjust="spacingAndGlyphs">ZOA</text>
<line x1="92.74" y1="201.62" x2="88.71" y2="202.81" stroke="#262626" stroke-width="1.1"/>
<text x="88.14" y="205.12" font-size="12" text-anchor="end" fill="#1a1a1a" stroke="#1a1a1a" stroke-width="0.06" transform="rotate(-73 88.14 205.12)" textLength="26.29" lengthAdjust="spacingAndGlyphs">OOA</text>
<line x1="117.81" y1="208.87" x2="113.79" y2="210.07" stroke="#262626" stroke-width="1.1"/>
<text x="113.21" y="212.37" font-size="12" text-anchor="end" fill="#1a1a1a" stroke="#1a1a1a" stroke-width="0.06" transform="rotate(-73 113.21 212.37)" textLength="17.42" lengthAdjust="spacingAndGlyphs">HO</text>
<line x1="142.88" y1="216.13" x2="138.86" y2="217.33" stroke="#262626" stroke-width="1.1"/>
<text x="138.28" y="219.63" font-size="12" text-anchor="end" fill="#1a1a1a" stroke="#1a1a1a" stroke-width="0.06" transform="rotate(-73 138.28 219.63)" textLength="24.86" lengthAdjust="spacingAndGlyphs">ECO</text>
<line x1="167.95" y1="223.39" x2="163.93" y2="224.59" stroke="#262626" stroke-width="1.1"/>
<text x="163.35" y="226.89" font-size="12" text-anchor="end" fill="#1a1a1a" stroke="#1a1a1a" stroke-width="0.06" transform="rotate(-73 163.35 226.89)" textLength="31.2" lengthAdjust="spacingAndGlyphs">SFOA</text>
<line x1="194.27" y1="230.38" x2="198.3" y2="231.55" stroke="#262626" stroke-width="1.1"/>
<text x="201.27" y="242.68" font-size="12.2" text-anchor="start" fill="#1a1a1a" stroke="#1a1a1a" stroke-width="0.06" textLength="18.69" lengthAdjust="spacingAndGlyphs">-0.2</text>
<line x1="231.64" y1="219.3" x2="235.68" y2="220.47" stroke="#262626" stroke-width="1.1"/>
<text x="238.64" y="231.6" font-size="12.2" text-anchor="start" fill="#1a1a1a" stroke="#1a1a1a" stroke-width="0.06" textLength="5.8" lengthAdjust="spacingAndGlyphs">0</text>
<line x1="269.02" y1="208.21" x2="273.05" y2="209.38" stroke="#262626" stroke-width="1.1"/>
<text x="276.02" y="220.51" font-size="12.2" text-anchor="start" fill="#1a1a1a" stroke="#1a1a1a" stroke-width="0.06" textLength="14.82" lengthAdjust="spacingAndGlyphs">0.2</text>
<line x1="306.39" y1="197.13" x2="310.43" y2="198.3" stroke="#262626" stroke-width="1.1"/>
<text x="313.39" y="209.43" font-size="12.2" text-anchor="start" fill="#1a1a1a" stroke="#1a1a1a" stroke-width="0.06" textLength="14.82" lengthAdjust="spacingAndGlyphs">0.4</text>
<text x="10.3" y="115.7" font-size="12.6" text-anchor="middle" fill="#1a1a1a" stroke="#1a1a1a" stroke-width="0.06" transform="rotate(-90 10.3 115.7)" textLength="35.3" lengthAdjust="spacingAndGlyphs">P (W)</text>
<text x="282.9" y="247.7" font-size="12.6" text-anchor="middle" fill="#1a1a1a" stroke="#1a1a1a" stroke-width="0.06" textLength="32.8" lengthAdjust="spacingAndGlyphs">V (V)</text>
<text x="41.5" y="26.5" font-size="20.5" text-anchor="start" fill="#000" stroke="#000" stroke-width="0.06" textLength="23.7" lengthAdjust="spacingAndGlyphs">(a)</text>
<line x1="55" y1="48.3" x2="78.8" y2="48.3" stroke="#000" stroke-width="1.35"/>
<path d="M64.75 61.2H69.65M67.2 58.75V63.65M65.47 59.47L68.93 62.93M65.47 62.93L68.93 59.47" stroke="#ff0000" stroke-width="0.9" fill="none"/>
<circle cx="67.2" cy="74" r="2.55" stroke="#0a0aff" stroke-width="0.65" fill="none"/>
<text x="81.6" y="51.2" font-size="10.3" text-anchor="start" fill="#000" stroke="#000" stroke-width="0.06" textLength="42.3" lengthAdjust="spacingAndGlyphs">Measured</text>
<text x="81.6" y="64" font-size="10.3" text-anchor="start" fill="#000" stroke="#000" stroke-width="0.06" textLength="69.6" lengthAdjust="spacingAndGlyphs">Without-Secant</text>
<text x="81.6" y="76.8" font-size="10.3" text-anchor="start" fill="#000" stroke="#000" stroke-width="0.06" textLength="55" lengthAdjust="spacingAndGlyphs">With-Secant</text>
<line x1="385.1" y1="187.1" x2="533.8" y2="143" stroke="#e0e0e0" stroke-width="1.4"/>
<line x1="533.8" y1="143" x2="684.4" y2="186.6" stroke="#e0e0e0" stroke-width="1.4"/>
<line x1="385.1" y1="139.6" x2="533.8" y2="95.5" stroke="#e0e0e0" stroke-width="1.4"/>
<line x1="533.8" y1="95.5" x2="684.4" y2="139.1" stroke="#e0e0e0" stroke-width="1.4"/>
<line x1="385.1" y1="92.1" x2="533.8" y2="48" stroke="#e0e0e0" stroke-width="1.4"/>
<line x1="533.8" y1="48" x2="684.4" y2="91.6" stroke="#e0e0e0" stroke-width="1.4"/>
<line x1="385.1" y1="44.6" x2="533.8" y2="0.5" stroke="#e0e0e0" stroke-width="1.4"/>
<line x1="533.8" y1="0.5" x2="684.4" y2="44.1" stroke="#e0e0e0" stroke-width="1.4"/>
<line x1="386.17" y1="186.78" x2="386.17" y2="44.28" stroke="#e0e0e0" stroke-width="1.4"/>
<line x1="386.17" y1="186.78" x2="536.77" y2="230.38" stroke="#e0e0e0" stroke-width="1.4"/>
<line x1="423.54" y1="175.7" x2="423.54" y2="33.2" stroke="#e0e0e0" stroke-width="1.4"/>
<line x1="423.54" y1="175.7" x2="574.14" y2="219.3" stroke="#e0e0e0" stroke-width="1.4"/>
<line x1="460.92" y1="164.61" x2="460.92" y2="22.11" stroke="#e0e0e0" stroke-width="1.4"/>
<line x1="460.92" y1="164.61" x2="611.52" y2="208.21" stroke="#e0e0e0" stroke-width="1.4"/>
<line x1="498.29" y1="153.53" x2="498.29" y2="11.03" stroke="#e0e0e0" stroke-width="1.4"/>
<line x1="498.29" y1="153.53" x2="648.89" y2="197.13" stroke="#e0e0e0" stroke-width="1.4"/>
<line x1="558.87" y1="150.26" x2="558.87" y2="7.76" stroke="#e0e0e0" stroke-width="1.4"/>
<line x1="410.17" y1="194.36" x2="558.87" y2="150.26" stroke="#e0e0e0" stroke-width="1.4"/>
<line x1="583.94" y1="157.52" x2="583.94" y2="15.02" stroke="#e0e0e0" stroke-width="1.4"/>
<line x1="435.24" y1="201.62" x2="583.94" y2="157.52" stroke="#e0e0e0" stroke-width="1.4"/>
<line x1="609.01" y1="164.77" x2="609.01" y2="22.27" stroke="#e0e0e0" stroke-width="1.4"/>
<line x1="460.31" y1="208.87" x2="609.01" y2="164.77" stroke="#e0e0e0" stroke-width="1.4"/>
<line x1="634.08" y1="172.03" x2="634.08" y2="29.53" stroke="#e0e0e0" stroke-width="1.4"/>
<line x1="485.38" y1="216.13" x2="634.08" y2="172.03" stroke="#e0e0e0" stroke-width="1.4"/>
<line x1="659.15" y1="179.29" x2="659.15" y2="36.79" stroke="#e0e0e0" stroke-width="1.4"/>
<line x1="510.45" y1="223.39" x2="659.15" y2="179.29" stroke="#e0e0e0" stroke-width="1.4"/>
<polyline points="410.17,184.18 424.49,165.98 437.62,149.34 449.68,134.11 460.68,120.22 470.76,107.53 479.97,95.99 488.45,85.31 496.17,75.69 503.26,66.89 509.7,59.07 515.61,52.03 520.99,46.06 525.92,41 530.33,37.85 534.39,36.38 538.02,37.14 541.3,40.47 544.28,46.42 547,54.63 549.49,64.96 551.79,77.06 553.88,90.39 555.81,105.03 557.62,120.17 558.87,132.18" fill="none" stroke="#000" stroke-width="1.35" stroke-linejoin="round"/>
<polyline points="435.24,191.44 449.56,173.23 462.69,156.6 474.75,141.37 485.76,127.48 495.83,114.79 505.04,103.25 513.53,92.57 521.24,82.95 528.33,74.15 534.77,66.33 540.68,59.29 546.06,53.32 550.99,48.26 555.41,45.1 559.46,43.64 563.09,44.39 566.37,47.73 569.35,53.68 572.07,61.89 574.56,72.22 576.86,84.32 578.95,97.65 580.88,112.29 582.69,127.43 583.94,139.44" fill="none" stroke="#000" stroke-width="1.35" stroke-linejoin="round"/>
<polyline points="460.31,198.7 474.63,180.49 487.76,163.85 499.82,148.63 510.83,134.73 520.9,122.05 530.11,110.51 538.6,99.83 546.31,90.2 553.4,81.41 559.84,73.59 565.75,66.55 571.13,60.58 576.07,55.52 580.48,52.36 584.53,50.9 588.16,51.65 591.45,54.98 594.42,60.94 597.15,69.15 599.63,79.48 601.93,91.58 604.02,104.91 605.95,119.55 607.76,134.69 609.01,146.7" fill="none" stroke="#000" stroke-width="1.35" stroke-linejoin="round"/>
<polyline points="485.38,205.96 499.7,187.75 512.84,171.11 524.89,155.89 535.9,141.99 545.97,129.3 555.18,117.76 563.67,107.09 571.38,97.46 578.47,88.67 584.92,80.85 590.82,73.8 596.2,67.84 601.14,62.78 605.55,59.62 609.6,58.16 613.23,58.91 616.52,62.24 619.49,68.19 622.22,76.41 624.7,86.74 627,98.84 629.09,112.17 631.02,126.8 632.83,141.94 634.08,153.96" fill="none" stroke="#000" stroke-width="1.35" stroke-linejoin="round"/>
<polyline points="510.45,213.22 524.77,195.01 537.91,178.37 549.96,163.15 560.97,149.25 571.04,136.56 580.25,125.02 588.74,114.34 596.46,104.72 603.54,95.92 609.99,88.1 615.89,81.06 621.27,75.1 626.21,70.03 630.62,66.88 634.67,65.41 638.3,66.17 641.59,69.5 644.56,75.45 647.29,83.67 649.77,94 652.07,106.09 654.16,119.42 656.09,134.06 657.9,149.2 659.15,161.22" fill="none" stroke="#000" stroke-width="1.35" stroke-linejoin="round"/>
<path d="M407.72 184.18H412.62M410.17 181.73V186.63M408.44 182.45L411.9 185.91M408.44 185.91L411.9 182.45" stroke="#ff0000" stroke-width="0.9" fill="none"/>
<path d="M422.04 165.98H426.94M424.49 163.53V168.43M422.75 164.24L426.22 167.71M422.75 167.71L426.22 164.24" stroke="#ff0000" stroke-width="0.9" fill="none"/>
<path d="M435.17 149.34H440.07M437.62 146.89V151.79M435.89 147.6L439.36 151.07M435.89 151.07L439.36 147.6" stroke="#ff0000" stroke-width="0.9" fill="none"/>
<path d="M447.23 134.11H452.13M449.68 131.66V136.56M447.94 132.38L451.41 135.84M447.94 135.84L451.41 132.38" stroke="#ff0000" stroke-width="0.9" fill="none"/>
<path d="M458.23 120.22H463.13M460.68 117.77V122.67M458.95 118.48L462.42 121.95M458.95 121.95L462.42 118.48" stroke="#ff0000" stroke-width="0.9" fill="none"/>
<path d="M468.31 107.53H473.21M470.76 105.08V109.98M469.02 105.8L472.49 109.26M469.02 109.26L472.49 105.8" stroke="#ff0000" stroke-width="0.9" fill="none"/>
<path d="M477.52 95.99H482.42M479.97 93.54V98.44M478.24 94.26L481.7 97.72M478.24 97.72L481.7 94.26" stroke="#ff0000" stroke-width="0.9" fill="none"/>
<path d="M486 85.31H490.9M488.45 82.86V87.76M486.72 83.58L490.19 87.04M486.72 87.04L490.19 83.58" stroke="#ff0000" stroke-width="0.9" fill="none"/>
<path d="M493.72 75.69H498.62M496.17 73.24V78.14M494.44 73.95L497.91 77.42M494.44 77.42L497.91 73.95" stroke="#ff0000" stroke-width="0.9" fill="none"/>
<path d="M500.81 66.89H505.71M503.26 64.44V69.34M501.52 65.16L504.99 68.62M501.52 68.62L504.99 65.16" stroke="#ff0000" stroke-width="0.9" fill="none"/>
<path d="M507.25 59.07H512.15M509.7 56.62V61.52M507.97 57.34L511.44 60.8M507.97 60.8L511.44 57.34" stroke="#ff0000" stroke-width="0.9" fill="none"/>
<path d="M513.16 52.03H518.06M515.61 49.58V54.48M513.88 50.3L517.34 53.76M513.88 53.76L517.34 50.3" stroke="#ff0000" stroke-width="0.9" fill="none"/>
<path d="M518.54 46.06H523.44M520.99 43.61V48.51M519.26 44.33L522.72 47.79M519.26 47.79L522.72 44.33" stroke="#ff0000" stroke-width="0.9" fill="none"/>
<path d="M523.47 41H528.37M525.92 38.55V43.45M524.19 39.27L527.66 42.73M524.19 42.73L527.66 39.27" stroke="#ff0000" stroke-width="0.9" fill="none"/>
<path d="M527.88 37.85H532.78M530.33 35.4V40.3M528.6 36.11L532.07 39.58M528.6 39.58L532.07 36.11" stroke="#ff0000" stroke-width="0.9" fill="none"/>
<path d="M531.94 36.38H536.84M534.39 33.93V38.83M532.66 34.65L536.12 38.11M532.66 38.11L536.12 34.65" stroke="#ff0000" stroke-width="0.9" fill="none"/>
<path d="M535.57 37.14H540.47M538.02 34.69V39.59M536.28 35.4L539.75 38.87M536.28 38.87L539.75 35.4" stroke="#ff0000" stroke-width="0.9" fill="none"/>
<path d="M538.85 40.47H543.75M541.3 38.02V42.92M539.57 38.74L543.04 42.2M539.57 42.2L543.04 38.74" stroke="#ff0000" stroke-width="0.9" fill="none"/>
<path d="M541.83 46.42H546.73M544.28 43.97V48.87M542.54 44.69L546.01 48.15M542.54 48.15L546.01 44.69" stroke="#ff0000" stroke-width="0.9" fill="none"/>
<path d="M544.55 54.63H549.45M547 52.18V57.08M545.27 52.9L548.74 56.37M545.27 56.37L548.74 52.9" stroke="#ff0000" stroke-width="0.9" fill="none"/>
<path d="M547.04 64.96H551.94M549.49 62.51V67.41M547.76 63.23L551.22 66.7M547.76 66.7L551.22 63.23" stroke="#ff0000" stroke-width="0.9" fill="none"/>
<path d="M549.34 77.06H554.24M551.79 74.61V79.51M550.06 75.33L553.52 78.79M550.06 78.79L553.52 75.33" stroke="#ff0000" stroke-width="0.9" fill="none"/>
<path d="M551.43 90.39H556.33M553.88 87.94V92.84M552.15 88.66L555.61 92.12M552.15 92.12L555.61 88.66" stroke="#ff0000" stroke-width="0.9" fill="none"/>
<path d="M553.36 105.03H558.26M555.81 102.58V107.48M554.07 103.3L557.54 106.76M554.07 106.76L557.54 103.3" stroke="#ff0000" stroke-width="0.9" fill="none"/>
<path d="M555.17 120.17H560.07M557.62 117.72V122.62M555.89 118.44L559.35 121.9M555.89 121.9L559.35 118.44" stroke="#ff0000" stroke-width="0.9" fill="none"/>
<path d="M556.42 132.18H561.32M558.87 129.73V134.63M557.14 130.45L560.6 133.92M557.14 133.92L560.6 130.45" stroke="#ff0000" stroke-width="0.9" fill="none"/>
<path d="M432.79 191.44H437.69M435.24 188.99V193.89M433.51 189.71L436.97 193.17M433.51 193.17L436.97 189.71" stroke="#ff0000" stroke-width="0.9" fill="none"/>
<path d="M447.11 174.18H452.01M449.56 171.73V176.63M447.82 172.45L451.29 175.92M447.82 175.92L451.29 172.45" stroke="#ff0000" stroke-width="0.9" fill="none"/>
<path d="M460.24 157.07H465.14M462.69 154.62V159.52M460.96 155.34L464.43 158.8M460.96 158.8L464.43 155.34" stroke="#ff0000" stroke-width="0.9" fill="none"/>
<path d="M472.3 141.96H477.2M474.75 139.51V144.41M473.02 140.22L476.48 143.69M473.02 143.69L476.48 140.22" stroke="#ff0000" stroke-width="0.9" fill="none"/>
<path d="M483.31 128.31H488.21M485.76 125.86V130.76M484.02 126.58L487.49 130.04M484.02 130.04L487.49 126.58" stroke="#ff0000" stroke-width="0.9" fill="none"/>
<path d="M493.38 115.85H498.28M495.83 113.4V118.3M494.1 114.12L497.56 117.59M494.1 117.59L497.56 114.12" stroke="#ff0000" stroke-width="0.9" fill="none"/>
<path d="M502.59 104.53H507.49M505.04 102.08V106.98M503.31 102.79L506.77 106.26M503.31 106.26L506.77 102.79" stroke="#ff0000" stroke-width="0.9" fill="none"/>
<path d="M511.08 94.04H515.98M513.53 91.59V96.49M511.79 92.31L515.26 95.77M511.79 95.77L515.26 92.31" stroke="#ff0000" stroke-width="0.9" fill="none"/>
<path d="M518.79 84.49H523.69M521.24 82.04V86.94M519.51 82.76L522.98 86.22M519.51 86.22L522.98 82.76" stroke="#ff0000" stroke-width="0.9" fill="none"/>
<path d="M525.88 75.69H530.78M528.33 73.24V78.14M526.59 73.96L530.06 77.42M526.59 77.42L530.06 73.96" stroke="#ff0000" stroke-width="0.9" fill="none"/>
<path d="M532.32 67.87H537.22M534.77 65.42V70.32M533.04 66.14L536.51 69.61M533.04 69.61L536.51 66.14" stroke="#ff0000" stroke-width="0.9" fill="none"/>
<path d="M538.23 60.83H543.13M540.68 58.38V63.28M538.95 59.1L542.41 62.56M538.95 62.56L542.41 59.1" stroke="#ff0000" stroke-width="0.9" fill="none"/>
<path d="M543.61 56.65H548.51M546.06 54.2V59.1M544.33 54.91L547.79 58.38M544.33 58.38L547.79 54.91" stroke="#ff0000" stroke-width="0.9" fill="none"/>
<path d="M548.54 51.58H553.44M550.99 49.13V54.03M549.26 49.85L552.73 53.32M549.26 53.32L552.73 49.85" stroke="#ff0000" stroke-width="0.9" fill="none"/>
<path d="M552.96 48.43H557.86M555.41 45.98V50.88M553.67 46.7L557.14 50.16M553.67 50.16L557.14 46.7" stroke="#ff0000" stroke-width="0.9" fill="none"/>
<path d="M557.01 46.96H561.91M559.46 44.51V49.41M557.73 45.23L561.19 48.7M557.73 48.7L561.19 45.23" stroke="#ff0000" stroke-width="0.9" fill="none"/>
<path d="M560.64 47.72H565.54M563.09 45.27V50.17M561.35 45.99L564.82 49.45M561.35 49.45L564.82 45.99" stroke="#ff0000" stroke-width="0.9" fill="none"/>
<path d="M563.92 51.05H568.82M566.37 48.6V53.5M564.64 49.32L568.11 52.78M564.64 52.78L568.11 49.32" stroke="#ff0000" stroke-width="0.9" fill="none"/>
<path d="M566.9 56.53H571.8M569.35 54.08V58.98M567.61 54.8L571.08 58.26M567.61 58.26L571.08 54.8" stroke="#ff0000" stroke-width="0.9" fill="none"/>
<path d="M569.62 64.74H574.52M572.07 62.29V67.19M570.34 63.01L573.81 66.48M570.34 66.48L573.81 63.01" stroke="#ff0000" stroke-width="0.9" fill="none"/>
<path d="M572.11 75.07H577.01M574.56 72.62V77.52M572.83 73.34L576.29 76.8M572.83 76.8L576.29 73.34" stroke="#ff0000" stroke-width="0.9" fill="none"/>
<path d="M574.41 87.17H579.31M576.86 84.72V89.62M575.13 85.44L578.59 88.9M575.13 88.9L578.59 85.44" stroke="#ff0000" stroke-width="0.9" fill="none"/>
<path d="M576.5 97.65H581.4M578.95 95.2V100.1M577.22 95.92L580.68 99.38M577.22 99.38L580.68 95.92" stroke="#ff0000" stroke-width="0.9" fill="none"/>
<path d="M578.43 112.29H583.33M580.88 109.84V114.74M579.14 110.56L582.61 114.02M579.14 114.02L582.61 110.56" stroke="#ff0000" stroke-width="0.9" fill="none"/>
<path d="M580.24 124.58H585.14M582.69 122.13V127.03M580.96 122.84L584.42 126.31M580.96 126.31L584.42 122.84" stroke="#ff0000" stroke-width="0.9" fill="none"/>
<path d="M581.49 134.69H586.39M583.94 132.24V137.14M582.21 132.96L585.67 136.43M582.21 136.43L585.67 132.96" stroke="#ff0000" stroke-width="0.9" fill="none"/>
<path d="M457.86 198.7H462.76M460.31 196.25V201.15M458.58 196.97L462.04 200.43M458.58 200.43L462.04 196.97" stroke="#ff0000" stroke-width="0.9" fill="none"/>
<path d="M472.18 180.49H477.08M474.63 178.04V182.94M472.89 178.76L476.36 182.23M472.89 182.23L476.36 178.76" stroke="#ff0000" stroke-width="0.9" fill="none"/>
<path d="M485.31 163.85H490.21M487.76 161.4V166.3M486.03 162.12L489.5 165.59M486.03 165.59L489.5 162.12" stroke="#ff0000" stroke-width="0.9" fill="none"/>
<path d="M497.37 148.63H502.27M499.82 146.18V151.08M498.09 146.9L501.55 150.36M498.09 150.36L501.55 146.9" stroke="#ff0000" stroke-width="0.9" fill="none"/>
<path d="M508.38 134.73H513.28M510.83 132.28V137.18M509.09 133L512.56 136.47M509.09 136.47L512.56 133" stroke="#ff0000" stroke-width="0.9" fill="none"/>
<path d="M518.45 122.05H523.35M520.9 119.6V124.5M519.17 120.31L522.63 123.78M519.17 123.78L522.63 120.31" stroke="#ff0000" stroke-width="0.9" fill="none"/>
<path d="M527.66 110.51H532.56M530.11 108.06V112.96M528.38 108.77L531.84 112.24M528.38 112.24L531.84 108.77" stroke="#ff0000" stroke-width="0.9" fill="none"/>
<path d="M536.15 99.83H541.05M538.6 97.38V102.28M536.86 98.09L540.33 101.56M536.86 101.56L540.33 98.09" stroke="#ff0000" stroke-width="0.9" fill="none"/>
<path d="M543.86 90.2H548.76M546.31 87.75V92.65M544.58 88.47L548.05 91.94M544.58 91.94L548.05 88.47" stroke="#ff0000" stroke-width="0.9" fill="none"/>
<path d="M550.95 81.41H555.85M553.4 78.96V83.86M551.66 79.67L555.13 83.14M551.66 83.14L555.13 79.67" stroke="#ff0000" stroke-width="0.9" fill="none"/>
<path d="M557.39 73.59H562.29M559.84 71.14V76.04M558.11 71.86L561.58 75.32M558.11 75.32L561.58 71.86" stroke="#ff0000" stroke-width="0.9" fill="none"/>
<path d="M563.3 66.55H568.2M565.75 64.1V69M564.02 64.81L567.48 68.28M564.02 68.28L567.48 64.81" stroke="#ff0000" stroke-width="0.9" fill="none"/>
<path d="M568.68 60.58H573.58M571.13 58.13V63.03M569.4 58.85L572.86 62.31M569.4 62.31L572.86 58.85" stroke="#ff0000" stroke-width="0.9" fill="none"/>
<path d="M573.62 55.52H578.52M576.07 53.07V57.97M574.33 53.78L577.8 57.25M574.33 57.25L577.8 53.78" stroke="#ff0000" stroke-width="0.9" fill="none"/>
<path d="M578.03 52.36H582.93M580.48 49.91V54.81M578.74 50.63L582.21 54.09M578.74 54.09L582.21 50.63" stroke="#ff0000" stroke-width="0.9" fill="none"/>
<path d="M582.08 50.9H586.98M584.53 48.45V53.35M582.8 49.16L586.26 52.63M582.8 52.63L586.26 49.16" stroke="#ff0000" stroke-width="0.9" fill="none"/>
<path d="M585.71 51.65H590.61M588.16 49.2V54.1M586.42 49.92L589.89 53.38M586.42 53.38L589.89 49.92" stroke="#ff0000" stroke-width="0.9" fill="none"/>
<path d="M589 54.98H593.9M591.45 52.53V57.43M589.71 53.25L593.18 56.72M589.71 56.72L593.18 53.25" stroke="#ff0000" stroke-width="0.9" fill="none"/>
<path d="M591.97 60.94H596.87M594.42 58.49V63.39M592.68 59.2L596.15 62.67M592.68 62.67L596.15 59.2" stroke="#ff0000" stroke-width="0.9" fill="none"/>
<path d="M594.7 69.15H599.6M597.15 66.7V71.6M595.41 67.42L598.88 70.88M595.41 70.88L598.88 67.42" stroke="#ff0000" stroke-width="0.9" fill="none"/>
<path d="M597.18 79.48H602.08M599.63 77.03V81.93M597.9 77.75L601.36 81.21M597.9 81.21L601.36 77.75" stroke="#ff0000" stroke-width="0.9" fill="none"/>
<path d="M599.48 91.58H604.38M601.93 89.13V94.03M600.2 89.84L603.66 93.31M600.2 93.31L603.66 89.84" stroke="#ff0000" stroke-width="0.9" fill="none"/>
<path d="M601.57 104.91H606.47M604.02 102.46V107.36M602.29 103.18L605.75 106.64M602.29 106.64L605.75 103.18" stroke="#ff0000" stroke-width="0.9" fill="none"/>
<path d="M603.5 119.55H608.4M605.95 117.1V122M604.22 117.81L607.68 121.28M604.22 121.28L607.68 117.81" stroke="#ff0000" stroke-width="0.9" fill="none"/>
<path d="M605.31 134.69H610.21M607.76 132.24V137.14M606.03 132.95L609.49 136.42M606.03 136.42L609.49 132.95" stroke="#ff0000" stroke-width="0.9" fill="none"/>
<path d="M606.56 146.7H611.46M609.01 144.25V149.15M607.28 144.97L610.74 148.43M607.28 148.43L610.74 144.97" stroke="#ff0000" stroke-width="0.9" fill="none"/>
<path d="M482.93 205.96H487.83M485.38 203.51V208.41M483.65 204.22L487.12 207.69M483.65 207.69L487.12 204.22" stroke="#ff0000" stroke-width="0.9" fill="none"/>
<path d="M497.25 187.75H502.15M499.7 185.3V190.2M497.97 186.02L501.43 189.48M497.97 189.48L501.43 186.02" stroke="#ff0000" stroke-width="0.9" fill="none"/>
<path d="M510.39 171.11H515.29M512.84 168.66V173.56M511.1 169.38L514.57 172.84M511.1 172.84L514.57 169.38" stroke="#ff0000" stroke-width="0.9" fill="none"/>
<path d="M522.44 155.89H527.34M524.89 153.44V158.34M523.16 154.15L526.62 157.62M523.16 157.62L526.62 154.15" stroke="#ff0000" stroke-width="0.9" fill="none"/>
<path d="M533.45 141.99H538.35M535.9 139.54V144.44M534.16 140.26L537.63 143.72M534.16 143.72L537.63 140.26" stroke="#ff0000" stroke-width="0.9" fill="none"/>
<path d="M543.52 129.3H548.42M545.97 126.85V131.75M544.24 127.57L547.7 131.04M544.24 131.04L547.7 127.57" stroke="#ff0000" stroke-width="0.9" fill="none"/>
<path d="M552.73 117.76H557.63M555.18 115.31V120.21M553.45 116.03L556.91 119.5M553.45 119.5L556.91 116.03" stroke="#ff0000" stroke-width="0.9" fill="none"/>
<path d="M561.22 107.09H566.12M563.67 104.64V109.54M561.93 105.35L565.4 108.82M561.93 108.82L565.4 105.35" stroke="#ff0000" stroke-width="0.9" fill="none"/>
<path d="M568.93 97.46H573.83M571.38 95.01V99.91M569.65 95.73L573.12 99.19M569.65 99.19L573.12 95.73" stroke="#ff0000" stroke-width="0.9" fill="none"/>
<path d="M576.02 88.67H580.92M578.47 86.22V91.12M576.74 86.93L580.2 90.4M576.74 90.4L580.2 86.93" stroke="#ff0000" stroke-width="0.9" fill="none"/>
<path d="M582.47 80.85H587.37M584.92 78.4V83.3M583.18 79.11L586.65 82.58M583.18 82.58L586.65 79.11" stroke="#ff0000" stroke-width="0.9" fill="none"/>
<path d="M588.37 73.8H593.27M590.82 71.35V76.25M589.09 72.07L592.55 75.54M589.09 75.54L592.55 72.07" stroke="#ff0000" stroke-width="0.9" fill="none"/>
<path d="M593.75 67.84H598.65M596.2 65.39V70.29M594.47 66.1L597.93 69.57M594.47 69.57L597.93 66.1" stroke="#ff0000" stroke-width="0.9" fill="none"/>
<path d="M598.69 62.78H603.59M601.14 60.33V65.23M599.4 61.04L602.87 64.51M599.4 64.51L602.87 61.04" stroke="#ff0000" stroke-width="0.9" fill="none"/>
<path d="M603.1 59.62H608M605.55 57.17V62.07M603.81 57.89L607.28 61.35M603.81 61.35L607.28 57.89" stroke="#ff0000" stroke-width="0.9" fill="none"/>
<path d="M607.15 58.16H612.05M609.6 55.71V60.61M607.87 56.42L611.33 59.89M607.87 59.89L611.33 56.42" stroke="#ff0000" stroke-width="0.9" fill="none"/>
<path d="M610.78 58.91H615.68M613.23 56.46V61.36M611.49 57.18L614.96 60.64M611.49 60.64L614.96 57.18" stroke="#ff0000" stroke-width="0.9" fill="none"/>
<path d="M614.07 62.24H618.97M616.52 59.79V64.69M614.78 60.51L618.25 63.98M614.78 63.98L618.25 60.51" stroke="#ff0000" stroke-width="0.9" fill="none"/>
<path d="M617.04 68.19H621.94M619.49 65.74V70.64M617.76 66.46L621.22 69.93M617.76 69.93L621.22 66.46" stroke="#ff0000" stroke-width="0.9" fill="none"/>
<path d="M619.77 76.41H624.67M622.22 73.96V78.86M620.48 74.68L623.95 78.14M620.48 78.14L623.95 74.68" stroke="#ff0000" stroke-width="0.9" fill="none"/>
<path d="M622.25 86.74H627.15M624.7 84.29V89.19M622.97 85.01L626.43 88.47M622.97 88.47L626.43 85.01" stroke="#ff0000" stroke-width="0.9" fill="none"/>
<path d="M624.55 98.84H629.45M627 96.39V101.29M625.27 97.1L628.73 100.57M625.27 100.57L628.73 97.1" stroke="#ff0000" stroke-width="0.9" fill="none"/>
<path d="M626.64 112.17H631.54M629.09 109.72V114.62M627.36 110.43L630.83 113.9M627.36 113.9L630.83 110.43" stroke="#ff0000" stroke-width="0.9" fill="none"/>
<path d="M628.57 126.8H633.47M631.02 124.35V129.25M629.29 125.07L632.75 128.54M629.29 128.54L632.75 125.07" stroke="#ff0000" stroke-width="0.9" fill="none"/>
<path d="M630.38 141.94H635.28M632.83 139.49V144.39M631.1 140.21L634.56 143.68M631.1 143.68L634.56 140.21" stroke="#ff0000" stroke-width="0.9" fill="none"/>
<path d="M631.63 153.96H636.53M634.08 151.51V156.41M632.35 152.23L635.82 155.69M632.35 155.69L635.82 152.23" stroke="#ff0000" stroke-width="0.9" fill="none"/>
<path d="M508 213.22H512.9M510.45 210.77V215.67M508.72 211.48L512.19 214.95M508.72 214.95L512.19 211.48" stroke="#ff0000" stroke-width="0.9" fill="none"/>
<path d="M522.32 195.01H527.22M524.77 192.56V197.46M523.04 193.28L526.5 196.74M523.04 196.74L526.5 193.28" stroke="#ff0000" stroke-width="0.9" fill="none"/>
<path d="M535.46 178.37H540.36M537.91 175.92V180.82M536.17 176.64L539.64 180.1M536.17 180.1L539.64 176.64" stroke="#ff0000" stroke-width="0.9" fill="none"/>
<path d="M547.51 163.15H552.41M549.96 160.7V165.6M548.23 161.41L551.69 164.88M548.23 164.88L551.69 161.41" stroke="#ff0000" stroke-width="0.9" fill="none"/>
<path d="M558.52 149.25H563.42M560.97 146.8V151.7M559.23 147.52L562.7 150.98M559.23 150.98L562.7 147.52" stroke="#ff0000" stroke-width="0.9" fill="none"/>
<path d="M568.59 136.56H573.49M571.04 134.11V139.01M569.31 134.83L572.77 138.29M569.31 138.29L572.77 134.83" stroke="#ff0000" stroke-width="0.9" fill="none"/>
<path d="M577.8 125.02H582.7M580.25 122.57V127.47M578.52 123.29L581.99 126.75M578.52 126.75L581.99 123.29" stroke="#ff0000" stroke-width="0.9" fill="none"/>
<path d="M586.29 114.34H591.19M588.74 111.89V116.79M587.01 112.61L590.47 116.08M587.01 116.08L590.47 112.61" stroke="#ff0000" stroke-width="0.9" fill="none"/>
<path d="M594.01 104.72H598.91M596.46 102.27V107.17M594.72 102.99L598.19 106.45M594.72 106.45L598.19 102.99" stroke="#ff0000" stroke-width="0.9" fill="none"/>
<path d="M601.09 95.92H605.99M603.54 93.47V98.37M601.81 94.19L605.27 97.66M601.81 97.66L605.27 94.19" stroke="#ff0000" stroke-width="0.9" fill="none"/>
<path d="M607.54 88.1H612.44M609.99 85.65V90.55M608.25 86.37L611.72 89.84M608.25 89.84L611.72 86.37" stroke="#ff0000" stroke-width="0.9" fill="none"/>
<path d="M613.44 81.06H618.34M615.89 78.61V83.51M614.16 79.33L617.62 82.79M614.16 82.79L617.62 79.33" stroke="#ff0000" stroke-width="0.9" fill="none"/>
<path d="M618.82 75.1H623.72M621.27 72.65V77.55M619.54 73.36L623.01 76.83M619.54 76.83L623.01 73.36" stroke="#ff0000" stroke-width="0.9" fill="none"/>
<path d="M623.76 70.03H628.66M626.21 67.58V72.48M624.47 68.3L627.94 71.77M624.47 71.77L627.94 68.3" stroke="#ff0000" stroke-width="0.9" fill="none"/>
<path d="M628.17 66.88H633.07M630.62 64.43V69.33M628.88 65.15L632.35 68.61M628.88 68.61L632.35 65.15" stroke="#ff0000" stroke-width="0.9" fill="none"/>
<path d="M632.22 65.41H637.12M634.67 62.96V67.86M632.94 63.68L636.4 67.15M632.94 67.15L636.4 63.68" stroke="#ff0000" stroke-width="0.9" fill="none"/>
<path d="M635.85 66.17H640.75M638.3 63.72V68.62M636.57 64.44L640.03 67.9M636.57 67.9L640.03 64.44" stroke="#ff0000" stroke-width="0.9" fill="none"/>
<path d="M639.14 69.5H644.04M641.59 67.05V71.95M639.85 67.77L643.32 71.23M639.85 71.23L643.32 67.77" stroke="#ff0000" stroke-width="0.9" fill="none"/>
<path d="M642.11 75.45H647.01M644.56 73V77.9M642.83 73.72L646.29 77.19M642.83 77.19L646.29 73.72" stroke="#ff0000" stroke-width="0.9" fill="none"/>
<path d="M644.84 83.67H649.74M647.29 81.22V86.12M645.55 81.93L649.02 85.4M645.55 85.4L649.02 81.93" stroke="#ff0000" stroke-width="0.9" fill="none"/>
<path d="M647.32 94H652.22M649.77 91.55V96.45M648.04 92.26L651.5 95.73M648.04 95.73L651.5 92.26" stroke="#ff0000" stroke-width="0.9" fill="none"/>
<path d="M649.62 106.09H654.52M652.07 103.64V108.54M650.34 104.36L653.8 107.83M650.34 107.83L653.8 104.36" stroke="#ff0000" stroke-width="0.9" fill="none"/>
<path d="M651.71 119.42H656.61M654.16 116.97V121.87M652.43 117.69L655.9 121.16M652.43 121.16L655.9 117.69" stroke="#ff0000" stroke-width="0.9" fill="none"/>
<path d="M653.64 134.06H658.54M656.09 131.61V136.51M654.36 132.33L657.82 135.79M654.36 135.79L657.82 132.33" stroke="#ff0000" stroke-width="0.9" fill="none"/>
<path d="M655.45 149.2H660.35M657.9 146.75V151.65M656.17 147.47L659.63 150.93M656.17 150.93L659.63 147.47" stroke="#ff0000" stroke-width="0.9" fill="none"/>
<path d="M656.7 161.22H661.6M659.15 158.77V163.67M657.42 159.48L660.89 162.95M657.42 162.95L660.89 159.48" stroke="#ff0000" stroke-width="0.9" fill="none"/>
<circle cx="410.17" cy="184.18" r="2.55" stroke="#0a0aff" stroke-width="0.65" fill="none"/>
<circle cx="424.49" cy="165.98" r="2.55" stroke="#0a0aff" stroke-width="0.65" fill="none"/>
<circle cx="437.62" cy="149.34" r="2.55" stroke="#0a0aff" stroke-width="0.65" fill="none"/>
<circle cx="449.68" cy="134.11" r="2.55" stroke="#0a0aff" stroke-width="0.65" fill="none"/>
<circle cx="460.68" cy="120.22" r="2.55" stroke="#0a0aff" stroke-width="0.65" fill="none"/>
<circle cx="470.76" cy="107.53" r="2.55" stroke="#0a0aff" stroke-width="0.65" fill="none"/>
<circle cx="479.97" cy="95.99" r="2.55" stroke="#0a0aff" stroke-width="0.65" fill="none"/>
<circle cx="488.45" cy="85.31" r="2.55" stroke="#0a0aff" stroke-width="0.65" fill="none"/>
<circle cx="496.17" cy="75.69" r="2.55" stroke="#0a0aff" stroke-width="0.65" fill="none"/>
<circle cx="503.26" cy="66.89" r="2.55" stroke="#0a0aff" stroke-width="0.65" fill="none"/>
<circle cx="509.7" cy="59.07" r="2.55" stroke="#0a0aff" stroke-width="0.65" fill="none"/>
<circle cx="515.61" cy="52.03" r="2.55" stroke="#0a0aff" stroke-width="0.65" fill="none"/>
<circle cx="520.99" cy="46.06" r="2.55" stroke="#0a0aff" stroke-width="0.65" fill="none"/>
<circle cx="525.92" cy="41" r="2.55" stroke="#0a0aff" stroke-width="0.65" fill="none"/>
<circle cx="530.33" cy="37.85" r="2.55" stroke="#0a0aff" stroke-width="0.65" fill="none"/>
<circle cx="534.39" cy="36.38" r="2.55" stroke="#0a0aff" stroke-width="0.65" fill="none"/>
<circle cx="538.02" cy="37.14" r="2.55" stroke="#0a0aff" stroke-width="0.65" fill="none"/>
<circle cx="541.3" cy="40.47" r="2.55" stroke="#0a0aff" stroke-width="0.65" fill="none"/>
<circle cx="544.28" cy="46.42" r="2.55" stroke="#0a0aff" stroke-width="0.65" fill="none"/>
<circle cx="547" cy="54.63" r="2.55" stroke="#0a0aff" stroke-width="0.65" fill="none"/>
<circle cx="549.49" cy="64.96" r="2.55" stroke="#0a0aff" stroke-width="0.65" fill="none"/>
<circle cx="551.79" cy="77.06" r="2.55" stroke="#0a0aff" stroke-width="0.65" fill="none"/>
<circle cx="553.88" cy="90.39" r="2.55" stroke="#0a0aff" stroke-width="0.65" fill="none"/>
<circle cx="555.81" cy="105.03" r="2.55" stroke="#0a0aff" stroke-width="0.65" fill="none"/>
<circle cx="557.62" cy="120.17" r="2.55" stroke="#0a0aff" stroke-width="0.65" fill="none"/>
<circle cx="558.87" cy="132.18" r="2.55" stroke="#0a0aff" stroke-width="0.65" fill="none"/>
<circle cx="435.24" cy="194.53" r="2.55" stroke="#0a0aff" stroke-width="0.65" fill="none"/>
<circle cx="449.56" cy="174.9" r="2.55" stroke="#0a0aff" stroke-width="0.65" fill="none"/>
<circle cx="462.69" cy="157.07" r="2.55" stroke="#0a0aff" stroke-width="0.65" fill="none"/>
<circle cx="474.75" cy="141.72" r="2.55" stroke="#0a0aff" stroke-width="0.65" fill="none"/>
<circle cx="485.76" cy="127.55" r="2.55" stroke="#0a0aff" stroke-width="0.65" fill="none"/>
<circle cx="495.83" cy="114.6" r="2.55" stroke="#0a0aff" stroke-width="0.65" fill="none"/>
<circle cx="505.04" cy="102.83" r="2.55" stroke="#0a0aff" stroke-width="0.65" fill="none"/>
<circle cx="513.53" cy="91.94" r="2.55" stroke="#0a0aff" stroke-width="0.65" fill="none"/>
<circle cx="521.24" cy="82.23" r="2.55" stroke="#0a0aff" stroke-width="0.65" fill="none"/>
<circle cx="528.33" cy="73.44" r="2.55" stroke="#0a0aff" stroke-width="0.65" fill="none"/>
<circle cx="534.77" cy="65.62" r="2.55" stroke="#0a0aff" stroke-width="0.65" fill="none"/>
<circle cx="540.68" cy="58.57" r="2.55" stroke="#0a0aff" stroke-width="0.65" fill="none"/>
<circle cx="546.06" cy="56.41" r="2.55" stroke="#0a0aff" stroke-width="0.65" fill="none"/>
<circle cx="550.99" cy="51.35" r="2.55" stroke="#0a0aff" stroke-width="0.65" fill="none"/>
<circle cx="555.41" cy="48.19" r="2.55" stroke="#0a0aff" stroke-width="0.65" fill="none"/>
<circle cx="559.46" cy="46.73" r="2.55" stroke="#0a0aff" stroke-width="0.65" fill="none"/>
<circle cx="563.09" cy="47.48" r="2.55" stroke="#0a0aff" stroke-width="0.65" fill="none"/>
<circle cx="566.37" cy="50.81" r="2.55" stroke="#0a0aff" stroke-width="0.65" fill="none"/>
<circle cx="569.35" cy="56.53" r="2.55" stroke="#0a0aff" stroke-width="0.65" fill="none"/>
<circle cx="572.07" cy="64.74" r="2.55" stroke="#0a0aff" stroke-width="0.65" fill="none"/>
<circle cx="574.56" cy="75.07" r="2.55" stroke="#0a0aff" stroke-width="0.65" fill="none"/>
<circle cx="576.86" cy="87.17" r="2.55" stroke="#0a0aff" stroke-width="0.65" fill="none"/>
<circle cx="578.95" cy="97.65" r="2.55" stroke="#0a0aff" stroke-width="0.65" fill="none"/>
<circle cx="580.88" cy="112.29" r="2.55" stroke="#0a0aff" stroke-width="0.65" fill="none"/>
<circle cx="582.69" cy="124.58" r="2.55" stroke="#0a0aff" stroke-width="0.65" fill="none"/>
<circle cx="583.94" cy="134.69" r="2.55" stroke="#0a0aff" stroke-width="0.65" fill="none"/>
<circle cx="460.31" cy="198.7" r="2.55" stroke="#0a0aff" stroke-width="0.65" fill="none"/>
<circle cx="474.63" cy="180.49" r="2.55" stroke="#0a0aff" stroke-width="0.65" fill="none"/>
<circle cx="487.76" cy="163.85" r="2.55" stroke="#0a0aff" stroke-width="0.65" fill="none"/>
<circle cx="499.82" cy="148.63" r="2.55" stroke="#0a0aff" stroke-width="0.65" fill="none"/>
<circle cx="510.83" cy="134.73" r="2.55" stroke="#0a0aff" stroke-width="0.65" fill="none"/>
<circle cx="520.9" cy="122.05" r="2.55" stroke="#0a0aff" stroke-width="0.65" fill="none"/>
<circle cx="530.11" cy="110.51" r="2.55" stroke="#0a0aff" stroke-width="0.65" fill="none"/>
<circle cx="538.6" cy="99.83" r="2.55" stroke="#0a0aff" stroke-width="0.65" fill="none"/>
<circle cx="546.31" cy="90.2" r="2.55" stroke="#0a0aff" stroke-width="0.65" fill="none"/>
<circle cx="553.4" cy="81.41" r="2.55" stroke="#0a0aff" stroke-width="0.65" fill="none"/>
<circle cx="559.84" cy="73.59" r="2.55" stroke="#0a0aff" stroke-width="0.65" fill="none"/>
<circle cx="565.75" cy="66.55" r="2.55" stroke="#0a0aff" stroke-width="0.65" fill="none"/>
<circle cx="571.13" cy="60.58" r="2.55" stroke="#0a0aff" stroke-width="0.65" fill="none"/>
<circle cx="576.07" cy="55.52" r="2.55" stroke="#0a0aff" stroke-width="0.65" fill="none"/>
<circle cx="580.48" cy="52.36" r="2.55" stroke="#0a0aff" stroke-width="0.65" fill="none"/>
<circle cx="584.53" cy="50.9" r="2.55" stroke="#0a0aff" stroke-width="0.65" fill="none"/>
<circle cx="588.16" cy="51.65" r="2.55" stroke="#0a0aff" stroke-width="0.65" fill="none"/>
<circle cx="591.45" cy="54.98" r="2.55" stroke="#0a0aff" stroke-width="0.65" fill="none"/>
<circle cx="594.42" cy="60.94" r="2.55" stroke="#0a0aff" stroke-width="0.65" fill="none"/>
<circle cx="597.15" cy="69.15" r="2.55" stroke="#0a0aff" stroke-width="0.65" fill="none"/>
<circle cx="599.63" cy="79.48" r="2.55" stroke="#0a0aff" stroke-width="0.65" fill="none"/>
<circle cx="601.93" cy="91.58" r="2.55" stroke="#0a0aff" stroke-width="0.65" fill="none"/>
<circle cx="604.02" cy="104.91" r="2.55" stroke="#0a0aff" stroke-width="0.65" fill="none"/>
<circle cx="605.95" cy="119.55" r="2.55" stroke="#0a0aff" stroke-width="0.65" fill="none"/>
<circle cx="607.76" cy="134.69" r="2.55" stroke="#0a0aff" stroke-width="0.65" fill="none"/>
<circle cx="609.01" cy="146.7" r="2.55" stroke="#0a0aff" stroke-width="0.65" fill="none"/>
<circle cx="485.38" cy="205.96" r="2.55" stroke="#0a0aff" stroke-width="0.65" fill="none"/>
<circle cx="499.7" cy="187.75" r="2.55" stroke="#0a0aff" stroke-width="0.65" fill="none"/>
<circle cx="512.84" cy="171.11" r="2.55" stroke="#0a0aff" stroke-width="0.65" fill="none"/>
<circle cx="524.89" cy="155.89" r="2.55" stroke="#0a0aff" stroke-width="0.65" fill="none"/>
<circle cx="535.9" cy="141.99" r="2.55" stroke="#0a0aff" stroke-width="0.65" fill="none"/>
<circle cx="545.97" cy="129.3" r="2.55" stroke="#0a0aff" stroke-width="0.65" fill="none"/>
<circle cx="555.18" cy="117.76" r="2.55" stroke="#0a0aff" stroke-width="0.65" fill="none"/>
<circle cx="563.67" cy="107.09" r="2.55" stroke="#0a0aff" stroke-width="0.65" fill="none"/>
<circle cx="571.38" cy="97.46" r="2.55" stroke="#0a0aff" stroke-width="0.65" fill="none"/>
<circle cx="578.47" cy="88.67" r="2.55" stroke="#0a0aff" stroke-width="0.65" fill="none"/>
<circle cx="584.92" cy="80.85" r="2.55" stroke="#0a0aff" stroke-width="0.65" fill="none"/>
<circle cx="590.82" cy="73.8" r="2.55" stroke="#0a0aff" stroke-width="0.65" fill="none"/>
<circle cx="596.2" cy="67.84" r="2.55" stroke="#0a0aff" stroke-width="0.65" fill="none"/>
<circle cx="601.14" cy="62.78" r="2.55" stroke="#0a0aff" stroke-width="0.65" fill="none"/>
<circle cx="605.55" cy="59.62" r="2.55" stroke="#0a0aff" stroke-width="0.65" fill="none"/>
<circle cx="609.6" cy="58.16" r="2.55" stroke="#0a0aff" stroke-width="0.65" fill="none"/>
<circle cx="613.23" cy="58.91" r="2.55" stroke="#0a0aff" stroke-width="0.65" fill="none"/>
<circle cx="616.52" cy="62.24" r="2.55" stroke="#0a0aff" stroke-width="0.65" fill="none"/>
<circle cx="619.49" cy="68.19" r="2.55" stroke="#0a0aff" stroke-width="0.65" fill="none"/>
<circle cx="622.22" cy="76.41" r="2.55" stroke="#0a0aff" stroke-width="0.65" fill="none"/>
<circle cx="624.7" cy="86.74" r="2.55" stroke="#0a0aff" stroke-width="0.65" fill="none"/>
<circle cx="627" cy="98.84" r="2.55" stroke="#0a0aff" stroke-width="0.65" fill="none"/>
<circle cx="629.09" cy="112.17" r="2.55" stroke="#0a0aff" stroke-width="0.65" fill="none"/>
<circle cx="631.02" cy="126.8" r="2.55" stroke="#0a0aff" stroke-width="0.65" fill="none"/>
<circle cx="632.83" cy="141.94" r="2.55" stroke="#0a0aff" stroke-width="0.65" fill="none"/>
<circle cx="634.08" cy="153.96" r="2.55" stroke="#0a0aff" stroke-width="0.65" fill="none"/>
<circle cx="510.45" cy="213.22" r="2.55" stroke="#0a0aff" stroke-width="0.65" fill="none"/>
<circle cx="524.77" cy="195.01" r="2.55" stroke="#0a0aff" stroke-width="0.65" fill="none"/>
<circle cx="537.91" cy="178.37" r="2.55" stroke="#0a0aff" stroke-width="0.65" fill="none"/>
<circle cx="549.96" cy="163.15" r="2.55" stroke="#0a0aff" stroke-width="0.65" fill="none"/>
<circle cx="560.97" cy="149.25" r="2.55" stroke="#0a0aff" stroke-width="0.65" fill="none"/>
<circle cx="571.04" cy="136.56" r="2.55" stroke="#0a0aff" stroke-width="0.65" fill="none"/>
<circle cx="580.25" cy="125.02" r="2.55" stroke="#0a0aff" stroke-width="0.65" fill="none"/>
<circle cx="588.74" cy="114.34" r="2.55" stroke="#0a0aff" stroke-width="0.65" fill="none"/>
<circle cx="596.46" cy="104.72" r="2.55" stroke="#0a0aff" stroke-width="0.65" fill="none"/>
<circle cx="603.54" cy="95.92" r="2.55" stroke="#0a0aff" stroke-width="0.65" fill="none"/>
<circle cx="609.99" cy="88.1" r="2.55" stroke="#0a0aff" stroke-width="0.65" fill="none"/>
<circle cx="615.89" cy="81.06" r="2.55" stroke="#0a0aff" stroke-width="0.65" fill="none"/>
<circle cx="621.27" cy="75.1" r="2.55" stroke="#0a0aff" stroke-width="0.65" fill="none"/>
<circle cx="626.21" cy="70.03" r="2.55" stroke="#0a0aff" stroke-width="0.65" fill="none"/>
<circle cx="630.62" cy="66.88" r="2.55" stroke="#0a0aff" stroke-width="0.65" fill="none"/>
<circle cx="634.67" cy="65.41" r="2.55" stroke="#0a0aff" stroke-width="0.65" fill="none"/>
<circle cx="638.3" cy="66.17" r="2.55" stroke="#0a0aff" stroke-width="0.65" fill="none"/>
<circle cx="641.59" cy="69.5" r="2.55" stroke="#0a0aff" stroke-width="0.65" fill="none"/>
<circle cx="644.56" cy="75.45" r="2.55" stroke="#0a0aff" stroke-width="0.65" fill="none"/>
<circle cx="647.29" cy="83.67" r="2.55" stroke="#0a0aff" stroke-width="0.65" fill="none"/>
<circle cx="649.77" cy="94" r="2.55" stroke="#0a0aff" stroke-width="0.65" fill="none"/>
<circle cx="652.07" cy="106.09" r="2.55" stroke="#0a0aff" stroke-width="0.65" fill="none"/>
<circle cx="654.16" cy="119.42" r="2.55" stroke="#0a0aff" stroke-width="0.65" fill="none"/>
<circle cx="656.09" cy="134.06" r="2.55" stroke="#0a0aff" stroke-width="0.65" fill="none"/>
<circle cx="657.9" cy="149.2" r="2.55" stroke="#0a0aff" stroke-width="0.65" fill="none"/>
<circle cx="659.15" cy="161.22" r="2.55" stroke="#0a0aff" stroke-width="0.65" fill="none"/>
<polyline points="410.17,184.18 424.49,165.98 437.62,149.34 449.68,134.11 460.68,120.22 470.76,107.53 479.97,95.99 488.45,85.31 496.17,75.69 503.26,66.89 509.7,59.07 515.61,52.03 520.99,46.06 525.92,41 530.33,37.85 534.39,36.38 538.02,37.14 541.3,40.47 544.28,46.42 547,54.63 549.49,64.96 551.79,77.06 553.88,90.39 555.81,105.03 557.62,120.17 558.87,132.18" fill="none" stroke="#000" stroke-opacity="0.4" stroke-width="1.1" stroke-linejoin="round"/>
<polyline points="435.24,191.44 449.56,173.23 462.69,156.6 474.75,141.37 485.76,127.48 495.83,114.79 505.04,103.25 513.53,92.57 521.24,82.95 528.33,74.15 534.77,66.33 540.68,59.29 546.06,53.32 550.99,48.26 555.41,45.1 559.46,43.64 563.09,44.39 566.37,47.73 569.35,53.68 572.07,61.89 574.56,72.22 576.86,84.32 578.95,97.65 580.88,112.29 582.69,127.43 583.94,139.44" fill="none" stroke="#000" stroke-opacity="0.4" stroke-width="1.1" stroke-linejoin="round"/>
<polyline points="460.31,198.7 474.63,180.49 487.76,163.85 499.82,148.63 510.83,134.73 520.9,122.05 530.11,110.51 538.6,99.83 546.31,90.2 553.4,81.41 559.84,73.59 565.75,66.55 571.13,60.58 576.07,55.52 580.48,52.36 584.53,50.9 588.16,51.65 591.45,54.98 594.42,60.94 597.15,69.15 599.63,79.48 601.93,91.58 604.02,104.91 605.95,119.55 607.76,134.69 609.01,146.7" fill="none" stroke="#000" stroke-opacity="0.4" stroke-width="1.1" stroke-linejoin="round"/>
<polyline points="485.38,205.96 499.7,187.75 512.84,171.11 524.89,155.89 535.9,141.99 545.97,129.3 555.18,117.76 563.67,107.09 571.38,97.46 578.47,88.67 584.92,80.85 590.82,73.8 596.2,67.84 601.14,62.78 605.55,59.62 609.6,58.16 613.23,58.91 616.52,62.24 619.49,68.19 622.22,76.41 624.7,86.74 627,98.84 629.09,112.17 631.02,126.8 632.83,141.94 634.08,153.96" fill="none" stroke="#000" stroke-opacity="0.4" stroke-width="1.1" stroke-linejoin="round"/>
<polyline points="510.45,213.22 524.77,195.01 537.91,178.37 549.96,163.15 560.97,149.25 571.04,136.56 580.25,125.02 588.74,114.34 596.46,104.72 603.54,95.92 609.99,88.1 615.89,81.06 621.27,75.1 626.21,70.03 630.62,66.88 634.67,65.41 638.3,66.17 641.59,69.5 644.56,75.45 647.29,83.67 649.77,94 652.07,106.09 654.16,119.42 656.09,134.06 657.9,149.2 659.15,161.22" fill="none" stroke="#000" stroke-opacity="0.4" stroke-width="1.1" stroke-linejoin="round"/>
<polyline points="385.1,44.6 385.1,187.1 535.7,230.7 684.4,186.6" fill="none" stroke="#262626" stroke-width="1.3" stroke-linejoin="round"/>
<line x1="385.1" y1="187.1" x2="381.07" y2="185.93" stroke="#262626" stroke-width="1.1"/>
<text x="377.6" y="188.2" font-size="12.2" text-anchor="end" fill="#1a1a1a" stroke="#1a1a1a" stroke-width="0.06" textLength="18.69" lengthAdjust="spacingAndGlyphs">-0.2</text>
<line x1="385.1" y1="139.6" x2="381.07" y2="138.43" stroke="#262626" stroke-width="1.1"/>
<text x="377.6" y="140.7" font-size="12.2" text-anchor="end" fill="#1a1a1a" stroke="#1a1a1a" stroke-width="0.06" textLength="5.8" lengthAdjust="spacingAndGlyphs">0</text>
<line x1="385.1" y1="92.1" x2="381.07" y2="90.93" stroke="#262626" stroke-width="1.1"/>
<text x="377.6" y="93.2" font-size="12.2" text-anchor="end" fill="#1a1a1a" stroke="#1a1a1a" stroke-width="0.06" textLength="14.82" lengthAdjust="spacingAndGlyphs">0.2</text>
<line x1="385.1" y1="44.6" x2="381.07" y2="43.43" stroke="#262626" stroke-width="1.1"/>
<text x="377.6" y="45.7" font-size="12.2" text-anchor="end" fill="#1a1a1a" stroke="#1a1a1a" stroke-width="0.06" textLength="14.82" lengthAdjust="spacingAndGlyphs">0.4</text>
<line x1="410.17" y1="194.36" x2="406.14" y2="195.55" stroke="#262626" stroke-width="1.1"/>
<text x="405.57" y="197.86" font-size="12" text-anchor="end" fill="#1a1a1a" stroke="#1a1a1a" stroke-width="0.06" transform="rotate(-73 405.57 197.86)" textLength="24.38" lengthAdjust="spacingAndGlyphs">ZOA</text>
<line x1="435.24" y1="201.62" x2="431.21" y2="202.81" stroke="#262626" stroke-width="1.1"/>
<text x="430.64" y="205.12" font-size="12" text-anchor="end" fill="#1a1a1a" stroke="#1a1a1a" stroke-width="0.06" transform="rotate(-73 430.64 205.12)" textLength="26.29" lengthAdjust="spacingAndGlyphs">OOA</text>
<line x1="460.31" y1="208.87" x2="456.29" y2="210.07" stroke="#262626" stroke-width="1.1"/>
<text x="455.71" y="212.37" font-size="12" text-anchor="end" fill="#1a1a1a" stroke="#1a1a1a" stroke-width="0.06" transform="rotate(-73 455.71 212.37)" textLength="17.42" lengthAdjust="spacingAndGlyphs">HO</text>
<line x1="485.38" y1="216.13" x2="481.36" y2="217.33" stroke="#262626" stroke-width="1.1"/>
<text x="480.78" y="219.63" font-size="12" text-anchor="end" fill="#1a1a1a" stroke="#1a1a1a" stroke-width="0.06" transform="rotate(-73 480.78 219.63)" textLength="24.86" lengthAdjust="spacingAndGlyphs">ECO</text>
<line x1="510.45" y1="223.39" x2="506.43" y2="224.59" stroke="#262626" stroke-width="1.1"/>
<text x="505.85" y="226.89" font-size="12" text-anchor="end" fill="#1a1a1a" stroke="#1a1a1a" stroke-width="0.06" transform="rotate(-73 505.85 226.89)" textLength="31.2" lengthAdjust="spacingAndGlyphs">SFOA</text>
<line x1="536.77" y1="230.38" x2="540.8" y2="231.55" stroke="#262626" stroke-width="1.1"/>
<text x="543.77" y="242.68" font-size="12.2" text-anchor="start" fill="#1a1a1a" stroke="#1a1a1a" stroke-width="0.06" textLength="18.69" lengthAdjust="spacingAndGlyphs">-0.2</text>
<line x1="574.14" y1="219.3" x2="578.18" y2="220.47" stroke="#262626" stroke-width="1.1"/>
<text x="581.14" y="231.6" font-size="12.2" text-anchor="start" fill="#1a1a1a" stroke="#1a1a1a" stroke-width="0.06" textLength="5.8" lengthAdjust="spacingAndGlyphs">0</text>
<line x1="611.52" y1="208.21" x2="615.55" y2="209.38" stroke="#262626" stroke-width="1.1"/>
<text x="618.52" y="220.51" font-size="12.2" text-anchor="start" fill="#1a1a1a" stroke="#1a1a1a" stroke-width="0.06" textLength="14.82" lengthAdjust="spacingAndGlyphs">0.2</text>
<line x1="648.89" y1="197.13" x2="652.93" y2="198.3" stroke="#262626" stroke-width="1.1"/>
<text x="655.89" y="209.43" font-size="12.2" text-anchor="start" fill="#1a1a1a" stroke="#1a1a1a" stroke-width="0.06" textLength="14.82" lengthAdjust="spacingAndGlyphs">0.4</text>
<text x="352.8" y="115.7" font-size="12.6" text-anchor="middle" fill="#1a1a1a" stroke="#1a1a1a" stroke-width="0.06" transform="rotate(-90 352.8 115.7)" textLength="35.3" lengthAdjust="spacingAndGlyphs">P (W)</text>
<text x="625.4" y="247.7" font-size="12.6" text-anchor="middle" fill="#1a1a1a" stroke="#1a1a1a" stroke-width="0.06" textLength="32.8" lengthAdjust="spacingAndGlyphs">V (V)</text>
<text x="392" y="26.5" font-size="20.5" text-anchor="start" fill="#000" stroke="#000" stroke-width="0.06" textLength="24.9" lengthAdjust="spacingAndGlyphs">(b)</text>
<line x1="397.2" y1="48.8" x2="421" y2="48.8" stroke="#000" stroke-width="1.35"/>
<path d="M406.95 61.7H411.85M409.4 59.25V64.15M407.67 59.97L411.13 63.43M407.67 63.43L411.13 59.97" stroke="#ff0000" stroke-width="0.9" fill="none"/>
<circle cx="409.4" cy="74.5" r="2.55" stroke="#0a0aff" stroke-width="0.65" fill="none"/>
<text x="423.8" y="51.7" font-size="10.3" text-anchor="start" fill="#000" stroke="#000" stroke-width="0.06" textLength="42.3" lengthAdjust="spacingAndGlyphs">Measured</text>
<text x="423.8" y="64.5" font-size="10.3" text-anchor="start" fill="#000" stroke="#000" stroke-width="0.06" textLength="69.6" lengthAdjust="spacingAndGlyphs">Without-Secant</text>
<text x="423.8" y="77.3" font-size="10.3" text-anchor="start" fill="#000" stroke="#000" stroke-width="0.06" textLength="55" lengthAdjust="spacingAndGlyphs">With-Secant</text>
<line x1="42.6" y1="442.1" x2="191.3" y2="398" stroke="#e0e0e0" stroke-width="1.4"/>
<line x1="191.3" y1="398" x2="341.9" y2="441.6" stroke="#e0e0e0" stroke-width="1.4"/>
<line x1="42.6" y1="394.6" x2="191.3" y2="350.5" stroke="#e0e0e0" stroke-width="1.4"/>
<line x1="191.3" y1="350.5" x2="341.9" y2="394.1" stroke="#e0e0e0" stroke-width="1.4"/>
<line x1="42.6" y1="347.1" x2="191.3" y2="303" stroke="#e0e0e0" stroke-width="1.4"/>
<line x1="191.3" y1="303" x2="341.9" y2="346.6" stroke="#e0e0e0" stroke-width="1.4"/>
<line x1="42.6" y1="299.6" x2="191.3" y2="255.5" stroke="#e0e0e0" stroke-width="1.4"/>
<line x1="191.3" y1="255.5" x2="341.9" y2="299.1" stroke="#e0e0e0" stroke-width="1.4"/>
<line x1="43.67" y1="441.78" x2="43.67" y2="299.28" stroke="#e0e0e0" stroke-width="1.4"/>
<line x1="43.67" y1="441.78" x2="194.27" y2="485.38" stroke="#e0e0e0" stroke-width="1.4"/>
<line x1="81.04" y1="430.7" x2="81.04" y2="288.2" stroke="#e0e0e0" stroke-width="1.4"/>
<line x1="81.04" y1="430.7" x2="231.64" y2="474.3" stroke="#e0e0e0" stroke-width="1.4"/>
<line x1="118.42" y1="419.61" x2="118.42" y2="277.11" stroke="#e0e0e0" stroke-width="1.4"/>
<line x1="118.42" y1="419.61" x2="269.02" y2="463.21" stroke="#e0e0e0" stroke-width="1.4"/>
<line x1="155.79" y1="408.53" x2="155.79" y2="266.03" stroke="#e0e0e0" stroke-width="1.4"/>
<line x1="155.79" y1="408.53" x2="306.39" y2="452.13" stroke="#e0e0e0" stroke-width="1.4"/>
<line x1="216.37" y1="405.26" x2="216.37" y2="262.76" stroke="#e0e0e0" stroke-width="1.4"/>
<line x1="67.67" y1="449.36" x2="216.37" y2="405.26" stroke="#e0e0e0" stroke-width="1.4"/>
<line x1="241.44" y1="412.52" x2="241.44" y2="270.02" stroke="#e0e0e0" stroke-width="1.4"/>
<line x1="92.74" y1="456.62" x2="241.44" y2="412.52" stroke="#e0e0e0" stroke-width="1.4"/>
<line x1="266.51" y1="419.77" x2="266.51" y2="277.27" stroke="#e0e0e0" stroke-width="1.4"/>
<line x1="117.81" y1="463.87" x2="266.51" y2="419.77" stroke="#e0e0e0" stroke-width="1.4"/>
<line x1="291.58" y1="427.03" x2="291.58" y2="284.53" stroke="#e0e0e0" stroke-width="1.4"/>
<line x1="142.88" y1="471.13" x2="291.58" y2="427.03" stroke="#e0e0e0" stroke-width="1.4"/>
<line x1="316.65" y1="434.29" x2="316.65" y2="291.79" stroke="#e0e0e0" stroke-width="1.4"/>
<line x1="167.95" y1="478.39" x2="316.65" y2="434.29" stroke="#e0e0e0" stroke-width="1.4"/>
<polyline points="67.67,439.18 81.99,420.98 95.12,404.34 107.18,389.11 118.18,375.22 128.26,362.53 137.47,350.99 145.95,340.31 153.67,330.69 160.76,321.89 167.2,314.07 173.11,307.03 178.49,301.06 183.42,296 187.83,292.85 191.89,291.38 195.52,292.14 198.8,295.47 201.78,301.42 204.5,309.63 206.99,319.96 209.29,332.06 211.38,345.39 213.31,360.03 215.12,375.17 216.37,387.18" fill="none" stroke="#000" stroke-width="1.35" stroke-linejoin="round"/>
<polyline points="92.74,446.44 107.06,428.23 120.19,411.6 132.25,396.37 143.26,382.48 153.33,369.79 162.54,358.25 171.03,347.57 178.74,337.95 185.83,329.15 192.27,321.33 198.18,314.29 203.56,308.32 208.49,303.26 212.91,300.1 216.96,298.64 220.59,299.39 223.87,302.73 226.85,308.68 229.57,316.89 232.06,327.22 234.36,339.32 236.45,352.65 238.38,367.29 240.19,382.43 241.44,394.44" fill="none" stroke="#000" stroke-width="1.35" stroke-linejoin="round"/>
<polyline points="117.81,453.7 132.13,435.49 145.26,418.85 157.32,403.63 168.33,389.73 178.4,377.05 187.61,365.51 196.1,354.83 203.81,345.2 210.9,336.41 217.34,328.59 223.25,321.55 228.63,315.58 233.57,310.52 237.98,307.36 242.03,305.9 245.66,306.65 248.95,309.98 251.92,315.94 254.65,324.15 257.13,334.48 259.43,346.58 261.52,359.91 263.45,374.55 265.26,389.69 266.51,401.7" fill="none" stroke="#000" stroke-width="1.35" stroke-linejoin="round"/>
<polyline points="142.88,460.96 157.2,442.75 170.34,426.11 182.39,410.89 193.4,396.99 203.47,384.3 212.68,372.76 221.17,362.09 228.88,352.46 235.97,343.67 242.42,335.85 248.32,328.8 253.7,322.84 258.64,317.78 263.05,314.62 267.1,313.16 270.73,313.91 274.02,317.24 276.99,323.19 279.72,331.41 282.2,341.74 284.5,353.84 286.59,367.17 288.52,381.8 290.33,396.94 291.58,408.96" fill="none" stroke="#000" stroke-width="1.35" stroke-linejoin="round"/>
<polyline points="167.95,468.22 182.27,450.01 195.41,433.37 207.46,418.15 218.47,404.25 228.54,391.56 237.75,380.02 246.24,369.34 253.96,359.72 261.04,350.92 267.49,343.1 273.39,336.06 278.77,330.1 283.71,325.03 288.12,321.88 292.17,320.41 295.8,321.17 299.09,324.5 302.06,330.45 304.79,338.67 307.27,349 309.57,361.09 311.66,374.42 313.59,389.06 315.4,404.2 316.65,416.22" fill="none" stroke="#000" stroke-width="1.35" stroke-linejoin="round"/>
<path d="M65.22 439.18H70.12M67.67 436.73V441.63M65.94 437.45L69.4 440.91M65.94 440.91L69.4 437.45" stroke="#ff0000" stroke-width="0.9" fill="none"/>
<path d="M79.54 420.98H84.44M81.99 418.53V423.43M80.25 419.24L83.72 422.71M80.25 422.71L83.72 419.24" stroke="#ff0000" stroke-width="0.9" fill="none"/>
<path d="M92.67 404.34H97.57M95.12 401.89V406.79M93.39 402.6L96.86 406.07M93.39 406.07L96.86 402.6" stroke="#ff0000" stroke-width="0.9" fill="none"/>
<path d="M104.73 389.11H109.63M107.18 386.66V391.56M105.44 387.38L108.91 390.84M105.44 390.84L108.91 387.38" stroke="#ff0000" stroke-width="0.9" fill="none"/>
<path d="M115.73 375.22H120.63M118.18 372.77V377.67M116.45 373.48L119.92 376.95M116.45 376.95L119.92 373.48" stroke="#ff0000" stroke-width="0.9" fill="none"/>
<path d="M125.81 362.53H130.71M128.26 360.08V364.98M126.52 360.8L129.99 364.26M126.52 364.26L129.99 360.8" stroke="#ff0000" stroke-width="0.9" fill="none"/>
<path d="M135.02 350.99H139.92M137.47 348.54V353.44M135.74 349.26L139.2 352.72M135.74 352.72L139.2 349.26" stroke="#ff0000" stroke-width="0.9" fill="none"/>
<path d="M143.5 340.31H148.4M145.95 337.86V342.76M144.22 338.58L147.69 342.04M144.22 342.04L147.69 338.58" stroke="#ff0000" stroke-width="0.9" fill="none"/>
<path d="M151.22 330.69H156.12M153.67 328.24V333.14M151.94 328.95L155.41 332.42M151.94 332.42L155.41 328.95" stroke="#ff0000" stroke-width="0.9" fill="none"/>
<path d="M158.31 321.89H163.21M160.76 319.44V324.34M159.02 320.16L162.49 323.62M159.02 323.62L162.49 320.16" stroke="#ff0000" stroke-width="0.9" fill="none"/>
<path d="M164.75 314.07H169.65M167.2 311.62V316.52M165.47 312.34L168.94 315.8M165.47 315.8L168.94 312.34" stroke="#ff0000" stroke-width="0.9" fill="none"/>
<path d="M170.66 307.03H175.56M173.11 304.58V309.48M171.38 305.3L174.84 308.76M171.38 308.76L174.84 305.3" stroke="#ff0000" stroke-width="0.9" fill="none"/>
<path d="M176.04 301.06H180.94M178.49 298.61V303.51M176.76 299.33L180.22 302.79M176.76 302.79L180.22 299.33" stroke="#ff0000" stroke-width="0.9" fill="none"/>
<path d="M180.97 296H185.87M183.42 293.55V298.45M181.69 294.27L185.16 297.73M181.69 297.73L185.16 294.27" stroke="#ff0000" stroke-width="0.9" fill="none"/>
<path d="M185.38 292.85H190.28M187.83 290.4V295.3M186.1 291.11L189.57 294.58M186.1 294.58L189.57 291.11" stroke="#ff0000" stroke-width="0.9" fill="none"/>
<path d="M189.44 291.38H194.34M191.89 288.93V293.83M190.16 289.65L193.62 293.11M190.16 293.11L193.62 289.65" stroke="#ff0000" stroke-width="0.9" fill="none"/>
<path d="M193.07 292.14H197.97M195.52 289.69V294.59M193.78 290.4L197.25 293.87M193.78 293.87L197.25 290.4" stroke="#ff0000" stroke-width="0.9" fill="none"/>
<path d="M196.35 295.47H201.25M198.8 293.02V297.92M197.07 293.74L200.54 297.2M197.07 297.2L200.54 293.74" stroke="#ff0000" stroke-width="0.9" fill="none"/>
<path d="M199.33 301.42H204.23M201.78 298.97V303.87M200.04 299.69L203.51 303.15M200.04 303.15L203.51 299.69" stroke="#ff0000" stroke-width="0.9" fill="none"/>
<path d="M202.05 309.63H206.95M204.5 307.18V312.08M202.77 307.9L206.24 311.37M202.77 311.37L206.24 307.9" stroke="#ff0000" stroke-width="0.9" fill="none"/>
<path d="M204.54 319.96H209.44M206.99 317.51V322.41M205.26 318.23L208.72 321.7M205.26 321.7L208.72 318.23" stroke="#ff0000" stroke-width="0.9" fill="none"/>
<path d="M206.84 332.06H211.74M209.29 329.61V334.51M207.56 330.33L211.02 333.79M207.56 333.79L211.02 330.33" stroke="#ff0000" stroke-width="0.9" fill="none"/>
<path d="M208.93 345.39H213.83M211.38 342.94V347.84M209.65 343.66L213.11 347.12M209.65 347.12L213.11 343.66" stroke="#ff0000" stroke-width="0.9" fill="none"/>
<path d="M210.86 360.03H215.76M213.31 357.58V362.48M211.57 358.3L215.04 361.76M211.57 361.76L215.04 358.3" stroke="#ff0000" stroke-width="0.9" fill="none"/>
<path d="M212.67 375.17H217.57M215.12 372.72V377.62M213.39 373.44L216.85 376.9M213.39 376.9L216.85 373.44" stroke="#ff0000" stroke-width="0.9" fill="none"/>
<path d="M213.92 387.18H218.82M216.37 384.73V389.63M214.64 385.45L218.1 388.92M214.64 388.92L218.1 385.45" stroke="#ff0000" stroke-width="0.9" fill="none"/>
<path d="M90.29 446.44H95.19M92.74 443.99V448.89M91.01 444.71L94.47 448.17M91.01 448.17L94.47 444.71" stroke="#ff0000" stroke-width="0.9" fill="none"/>
<path d="M104.61 428.23H109.51M107.06 425.78V430.68M105.32 426.5L108.79 429.97M105.32 429.97L108.79 426.5" stroke="#ff0000" stroke-width="0.9" fill="none"/>
<path d="M117.74 411.6H122.64M120.19 409.15V414.05M118.46 409.86L121.93 413.33M118.46 413.33L121.93 409.86" stroke="#ff0000" stroke-width="0.9" fill="none"/>
<path d="M129.8 396.37H134.7M132.25 393.92V398.82M130.52 394.64L133.98 398.1M130.52 398.1L133.98 394.64" stroke="#ff0000" stroke-width="0.9" fill="none"/>
<path d="M140.81 382.48H145.71M143.26 380.03V384.93M141.52 380.74L144.99 384.21M141.52 384.21L144.99 380.74" stroke="#ff0000" stroke-width="0.9" fill="none"/>
<path d="M150.88 369.79H155.78M153.33 367.34V372.24M151.6 368.05L155.06 371.52M151.6 371.52L155.06 368.05" stroke="#ff0000" stroke-width="0.9" fill="none"/>
<path d="M160.09 358.25H164.99M162.54 355.8V360.7M160.81 356.52L164.27 359.98M160.81 359.98L164.27 356.52" stroke="#ff0000" stroke-width="0.9" fill="none"/>
<path d="M168.58 347.57H173.48M171.03 345.12V350.02M169.29 345.84L172.76 349.3M169.29 349.3L172.76 345.84" stroke="#ff0000" stroke-width="0.9" fill="none"/>
<path d="M176.29 337.95H181.19M178.74 335.5V340.4M177.01 336.21L180.48 339.68M177.01 339.68L180.48 336.21" stroke="#ff0000" stroke-width="0.9" fill="none"/>
<path d="M183.38 329.15H188.28M185.83 326.7V331.6M184.09 327.42L187.56 330.88M184.09 330.88L187.56 327.42" stroke="#ff0000" stroke-width="0.9" fill="none"/>
<path d="M189.82 321.33H194.72M192.27 318.88V323.78M190.54 319.6L194.01 323.06M190.54 323.06L194.01 319.6" stroke="#ff0000" stroke-width="0.9" fill="none"/>
<path d="M195.73 314.29H200.63M198.18 311.84V316.74M196.45 312.55L199.91 316.02M196.45 316.02L199.91 312.55" stroke="#ff0000" stroke-width="0.9" fill="none"/>
<path d="M201.11 308.32H206.01M203.56 305.87V310.77M201.83 306.59L205.29 310.05M201.83 310.05L205.29 306.59" stroke="#ff0000" stroke-width="0.9" fill="none"/>
<path d="M206.04 303.26H210.94M208.49 300.81V305.71M206.76 301.53L210.23 304.99M206.76 304.99L210.23 301.53" stroke="#ff0000" stroke-width="0.9" fill="none"/>
<path d="M210.46 300.1H215.36M212.91 297.65V302.55M211.17 298.37L214.64 301.84M211.17 301.84L214.64 298.37" stroke="#ff0000" stroke-width="0.9" fill="none"/>
<path d="M214.51 298.64H219.41M216.96 296.19V301.09M215.23 296.91L218.69 300.37M215.23 300.37L218.69 296.91" stroke="#ff0000" stroke-width="0.9" fill="none"/>
<path d="M218.14 299.39H223.04M220.59 296.94V301.84M218.85 297.66L222.32 301.13M218.85 301.13L222.32 297.66" stroke="#ff0000" stroke-width="0.9" fill="none"/>
<path d="M221.42 302.73H226.32M223.87 300.28V305.18M222.14 300.99L225.61 304.46M222.14 304.46L225.61 300.99" stroke="#ff0000" stroke-width="0.9" fill="none"/>
<path d="M224.4 308.68H229.3M226.85 306.23V311.13M225.11 306.95L228.58 310.41M225.11 310.41L228.58 306.95" stroke="#ff0000" stroke-width="0.9" fill="none"/>
<path d="M227.12 316.89H232.02M229.57 314.44V319.34M227.84 315.16L231.31 318.63M227.84 318.63L231.31 315.16" stroke="#ff0000" stroke-width="0.9" fill="none"/>
<path d="M229.61 327.22H234.51M232.06 324.77V329.67M230.33 325.49L233.79 328.95M230.33 328.95L233.79 325.49" stroke="#ff0000" stroke-width="0.9" fill="none"/>
<path d="M231.91 339.32H236.81M234.36 336.87V341.77M232.63 337.59L236.09 341.05M232.63 341.05L236.09 337.59" stroke="#ff0000" stroke-width="0.9" fill="none"/>
<path d="M234 352.65H238.9M236.45 350.2V355.1M234.72 350.92L238.18 354.38M234.72 354.38L238.18 350.92" stroke="#ff0000" stroke-width="0.9" fill="none"/>
<path d="M235.93 367.29H240.83M238.38 364.84V369.74M236.64 365.56L240.11 369.02M236.64 369.02L240.11 365.56" stroke="#ff0000" stroke-width="0.9" fill="none"/>
<path d="M237.74 383.85H242.64M240.19 381.4V386.3M238.46 382.12L241.92 385.58M238.46 385.58L241.92 382.12" stroke="#ff0000" stroke-width="0.9" fill="none"/>
<path d="M238.99 398.12H243.89M241.44 395.67V400.57M239.71 396.39L243.17 399.86M239.71 399.86L243.17 396.39" stroke="#ff0000" stroke-width="0.9" fill="none"/>
<path d="M115.36 453.7H120.26M117.81 451.25V456.15M116.08 451.97L119.54 455.43M116.08 455.43L119.54 451.97" stroke="#ff0000" stroke-width="0.9" fill="none"/>
<path d="M129.68 435.49H134.58M132.13 433.04V437.94M130.39 433.76L133.86 437.23M130.39 437.23L133.86 433.76" stroke="#ff0000" stroke-width="0.9" fill="none"/>
<path d="M142.81 418.85H147.71M145.26 416.4V421.3M143.53 417.12L147 420.59M143.53 420.59L147 417.12" stroke="#ff0000" stroke-width="0.9" fill="none"/>
<path d="M154.87 403.63H159.77M157.32 401.18V406.08M155.59 401.9L159.05 405.36M155.59 405.36L159.05 401.9" stroke="#ff0000" stroke-width="0.9" fill="none"/>
<path d="M165.88 389.73H170.78M168.33 387.28V392.18M166.59 388L170.06 391.47M166.59 391.47L170.06 388" stroke="#ff0000" stroke-width="0.9" fill="none"/>
<path d="M175.95 377.05H180.85M178.4 374.6V379.5M176.67 375.31L180.13 378.78M176.67 378.78L180.13 375.31" stroke="#ff0000" stroke-width="0.9" fill="none"/>
<path d="M185.16 365.51H190.06M187.61 363.06V367.96M185.88 363.77L189.34 367.24M185.88 367.24L189.34 363.77" stroke="#ff0000" stroke-width="0.9" fill="none"/>
<path d="M193.65 354.83H198.55M196.1 352.38V357.28M194.36 353.09L197.83 356.56M194.36 356.56L197.83 353.09" stroke="#ff0000" stroke-width="0.9" fill="none"/>
<path d="M201.36 345.2H206.26M203.81 342.75V347.65M202.08 343.47L205.55 346.94M202.08 346.94L205.55 343.47" stroke="#ff0000" stroke-width="0.9" fill="none"/>
<path d="M208.45 336.41H213.35M210.9 333.96V338.86M209.16 334.67L212.63 338.14M209.16 338.14L212.63 334.67" stroke="#ff0000" stroke-width="0.9" fill="none"/>
<path d="M214.89 328.59H219.79M217.34 326.14V331.04M215.61 326.86L219.08 330.32M215.61 330.32L219.08 326.86" stroke="#ff0000" stroke-width="0.9" fill="none"/>
<path d="M220.8 321.55H225.7M223.25 319.1V324M221.52 319.81L224.98 323.28M221.52 323.28L224.98 319.81" stroke="#ff0000" stroke-width="0.9" fill="none"/>
<path d="M226.18 315.58H231.08M228.63 313.13V318.03M226.9 313.85L230.36 317.31M226.9 317.31L230.36 313.85" stroke="#ff0000" stroke-width="0.9" fill="none"/>
<path d="M231.12 310.52H236.02M233.57 308.07V312.97M231.83 308.78L235.3 312.25M231.83 312.25L235.3 308.78" stroke="#ff0000" stroke-width="0.9" fill="none"/>
<path d="M235.53 307.36H240.43M237.98 304.91V309.81M236.24 305.63L239.71 309.09M236.24 309.09L239.71 305.63" stroke="#ff0000" stroke-width="0.9" fill="none"/>
<path d="M239.58 305.9H244.48M242.03 303.45V308.35M240.3 304.16L243.76 307.63M240.3 307.63L243.76 304.16" stroke="#ff0000" stroke-width="0.9" fill="none"/>
<path d="M243.21 306.65H248.11M245.66 304.2V309.1M243.92 304.92L247.39 308.38M243.92 308.38L247.39 304.92" stroke="#ff0000" stroke-width="0.9" fill="none"/>
<path d="M246.5 309.98H251.4M248.95 307.53V312.43M247.21 308.25L250.68 311.72M247.21 311.72L250.68 308.25" stroke="#ff0000" stroke-width="0.9" fill="none"/>
<path d="M249.47 315.94H254.37M251.92 313.49V318.39M250.18 314.2L253.65 317.67M250.18 317.67L253.65 314.2" stroke="#ff0000" stroke-width="0.9" fill="none"/>
<path d="M252.2 324.15H257.1M254.65 321.7V326.6M252.91 322.42L256.38 325.88M252.91 325.88L256.38 322.42" stroke="#ff0000" stroke-width="0.9" fill="none"/>
<path d="M254.68 334.48H259.58M257.13 332.03V336.93M255.4 332.75L258.86 336.21M255.4 336.21L258.86 332.75" stroke="#ff0000" stroke-width="0.9" fill="none"/>
<path d="M256.98 346.58H261.88M259.43 344.13V349.03M257.7 344.84L261.16 348.31M257.7 348.31L261.16 344.84" stroke="#ff0000" stroke-width="0.9" fill="none"/>
<path d="M259.07 359.91H263.97M261.52 357.46V362.36M259.79 358.18L263.25 361.64M259.79 361.64L263.25 358.18" stroke="#ff0000" stroke-width="0.9" fill="none"/>
<path d="M261 374.55H265.9M263.45 372.1V377M261.72 372.81L265.18 376.28M261.72 376.28L265.18 372.81" stroke="#ff0000" stroke-width="0.9" fill="none"/>
<path d="M262.81 389.69H267.71M265.26 387.24V392.14M263.53 387.95L266.99 391.42M263.53 391.42L266.99 387.95" stroke="#ff0000" stroke-width="0.9" fill="none"/>
<path d="M264.06 401.7H268.96M266.51 399.25V404.15M264.78 399.97L268.24 403.43M264.78 403.43L268.24 399.97" stroke="#ff0000" stroke-width="0.9" fill="none"/>
<path d="M140.43 460.96H145.33M142.88 458.51V463.41M141.15 459.22L144.62 462.69M141.15 462.69L144.62 459.22" stroke="#ff0000" stroke-width="0.9" fill="none"/>
<path d="M154.75 442.75H159.65M157.2 440.3V445.2M155.47 441.02L158.93 444.48M155.47 444.48L158.93 441.02" stroke="#ff0000" stroke-width="0.9" fill="none"/>
<path d="M167.89 426.11H172.79M170.34 423.66V428.56M168.6 424.38L172.07 427.84M168.6 427.84L172.07 424.38" stroke="#ff0000" stroke-width="0.9" fill="none"/>
<path d="M179.94 410.89H184.84M182.39 408.44V413.34M180.66 409.15L184.12 412.62M180.66 412.62L184.12 409.15" stroke="#ff0000" stroke-width="0.9" fill="none"/>
<path d="M190.95 396.99H195.85M193.4 394.54V399.44M191.66 395.26L195.13 398.72M191.66 398.72L195.13 395.26" stroke="#ff0000" stroke-width="0.9" fill="none"/>
<path d="M201.02 384.3H205.92M203.47 381.85V386.75M201.74 382.57L205.2 386.04M201.74 386.04L205.2 382.57" stroke="#ff0000" stroke-width="0.9" fill="none"/>
<path d="M210.23 372.76H215.13M212.68 370.31V375.21M210.95 371.03L214.41 374.5M210.95 374.5L214.41 371.03" stroke="#ff0000" stroke-width="0.9" fill="none"/>
<path d="M218.72 362.09H223.62M221.17 359.64V364.54M219.43 360.35L222.9 363.82M219.43 363.82L222.9 360.35" stroke="#ff0000" stroke-width="0.9" fill="none"/>
<path d="M226.43 352.46H231.33M228.88 350.01V354.91M227.15 350.73L230.62 354.19M227.15 354.19L230.62 350.73" stroke="#ff0000" stroke-width="0.9" fill="none"/>
<path d="M233.52 343.67H238.42M235.97 341.22V346.12M234.24 341.93L237.7 345.4M234.24 345.4L237.7 341.93" stroke="#ff0000" stroke-width="0.9" fill="none"/>
<path d="M239.97 335.85H244.87M242.42 333.4V338.3M240.68 334.11L244.15 337.58M240.68 337.58L244.15 334.11" stroke="#ff0000" stroke-width="0.9" fill="none"/>
<path d="M245.87 328.8H250.77M248.32 326.35V331.25M246.59 327.07L250.05 330.54M246.59 330.54L250.05 327.07" stroke="#ff0000" stroke-width="0.9" fill="none"/>
<path d="M251.25 322.84H256.15M253.7 320.39V325.29M251.97 321.1L255.43 324.57M251.97 324.57L255.43 321.1" stroke="#ff0000" stroke-width="0.9" fill="none"/>
<path d="M256.19 317.78H261.09M258.64 315.33V320.23M256.9 316.04L260.37 319.51M256.9 319.51L260.37 316.04" stroke="#ff0000" stroke-width="0.9" fill="none"/>
<path d="M260.6 314.62H265.5M263.05 312.17V317.07M261.31 312.89L264.78 316.35M261.31 316.35L264.78 312.89" stroke="#ff0000" stroke-width="0.9" fill="none"/>
<path d="M264.65 313.16H269.55M267.1 310.71V315.61M265.37 311.42L268.83 314.89M265.37 314.89L268.83 311.42" stroke="#ff0000" stroke-width="0.9" fill="none"/>
<path d="M268.28 313.91H273.18M270.73 311.46V316.36M268.99 312.18L272.46 315.64M268.99 315.64L272.46 312.18" stroke="#ff0000" stroke-width="0.9" fill="none"/>
<path d="M271.57 317.24H276.47M274.02 314.79V319.69M272.28 315.51L275.75 318.98M272.28 318.98L275.75 315.51" stroke="#ff0000" stroke-width="0.9" fill="none"/>
<path d="M274.54 323.19H279.44M276.99 320.74V325.64M275.26 321.46L278.72 324.93M275.26 324.93L278.72 321.46" stroke="#ff0000" stroke-width="0.9" fill="none"/>
<path d="M277.27 331.41H282.17M279.72 328.96V333.86M277.98 329.68L281.45 333.14M277.98 333.14L281.45 329.68" stroke="#ff0000" stroke-width="0.9" fill="none"/>
<path d="M279.75 341.74H284.65M282.2 339.29V344.19M280.47 340.01L283.93 343.47M280.47 343.47L283.93 340.01" stroke="#ff0000" stroke-width="0.9" fill="none"/>
<path d="M282.05 353.84H286.95M284.5 351.39V356.29M282.77 352.1L286.23 355.57M282.77 355.57L286.23 352.1" stroke="#ff0000" stroke-width="0.9" fill="none"/>
<path d="M284.14 367.17H289.04M286.59 364.72V369.62M284.86 365.43L288.33 368.9M284.86 368.9L288.33 365.43" stroke="#ff0000" stroke-width="0.9" fill="none"/>
<path d="M286.07 381.8H290.97M288.52 379.35V384.25M286.79 380.07L290.25 383.54M286.79 383.54L290.25 380.07" stroke="#ff0000" stroke-width="0.9" fill="none"/>
<path d="M287.88 396.94H292.78M290.33 394.49V399.39M288.6 395.21L292.06 398.68M288.6 398.68L292.06 395.21" stroke="#ff0000" stroke-width="0.9" fill="none"/>
<path d="M289.13 408.96H294.03M291.58 406.51V411.41M289.85 407.23L293.32 410.69M289.85 410.69L293.32 407.23" stroke="#ff0000" stroke-width="0.9" fill="none"/>
<path d="M165.5 468.22H170.4M167.95 465.77V470.67M166.22 466.48L169.69 469.95M166.22 469.95L169.69 466.48" stroke="#ff0000" stroke-width="0.9" fill="none"/>
<path d="M179.82 450.01H184.72M182.27 447.56V452.46M180.54 448.28L184 451.74M180.54 451.74L184 448.28" stroke="#ff0000" stroke-width="0.9" fill="none"/>
<path d="M192.96 433.37H197.86M195.41 430.92V435.82M193.67 431.64L197.14 435.1M193.67 435.1L197.14 431.64" stroke="#ff0000" stroke-width="0.9" fill="none"/>
<path d="M205.01 418.15H209.91M207.46 415.7V420.6M205.73 416.41L209.19 419.88M205.73 419.88L209.19 416.41" stroke="#ff0000" stroke-width="0.9" fill="none"/>
<path d="M216.02 404.25H220.92M218.47 401.8V406.7M216.73 402.52L220.2 405.98M216.73 405.98L220.2 402.52" stroke="#ff0000" stroke-width="0.9" fill="none"/>
<path d="M226.09 391.56H230.99M228.54 389.11V394.01M226.81 389.83L230.27 393.29M226.81 393.29L230.27 389.83" stroke="#ff0000" stroke-width="0.9" fill="none"/>
<path d="M235.3 380.02H240.2M237.75 377.57V382.47M236.02 378.29L239.49 381.75M236.02 381.75L239.49 378.29" stroke="#ff0000" stroke-width="0.9" fill="none"/>
<path d="M243.79 369.34H248.69M246.24 366.89V371.79M244.51 367.61L247.97 371.08M244.51 371.08L247.97 367.61" stroke="#ff0000" stroke-width="0.9" fill="none"/>
<path d="M251.51 359.72H256.41M253.96 357.27V362.17M252.22 357.99L255.69 361.45M252.22 361.45L255.69 357.99" stroke="#ff0000" stroke-width="0.9" fill="none"/>
<path d="M258.59 350.92H263.49M261.04 348.47V353.37M259.31 349.19L262.77 352.66M259.31 352.66L262.77 349.19" stroke="#ff0000" stroke-width="0.9" fill="none"/>
<path d="M265.04 343.1H269.94M267.49 340.65V345.55M265.75 341.37L269.22 344.84M265.75 344.84L269.22 341.37" stroke="#ff0000" stroke-width="0.9" fill="none"/>
<path d="M270.94 336.06H275.84M273.39 333.61V338.51M271.66 334.33L275.12 337.79M271.66 337.79L275.12 334.33" stroke="#ff0000" stroke-width="0.9" fill="none"/>
<path d="M276.32 330.1H281.22M278.77 327.65V332.55M277.04 328.36L280.51 331.83M277.04 331.83L280.51 328.36" stroke="#ff0000" stroke-width="0.9" fill="none"/>
<path d="M281.26 325.03H286.16M283.71 322.58V327.48M281.97 323.3L285.44 326.77M281.97 326.77L285.44 323.3" stroke="#ff0000" stroke-width="0.9" fill="none"/>
<path d="M285.67 321.88H290.57M288.12 319.43V324.33M286.38 320.15L289.85 323.61M286.38 323.61L289.85 320.15" stroke="#ff0000" stroke-width="0.9" fill="none"/>
<path d="M289.72 320.41H294.62M292.17 317.96V322.86M290.44 318.68L293.9 322.15M290.44 322.15L293.9 318.68" stroke="#ff0000" stroke-width="0.9" fill="none"/>
<path d="M293.35 321.17H298.25M295.8 318.72V323.62M294.07 319.44L297.53 322.9M294.07 322.9L297.53 319.44" stroke="#ff0000" stroke-width="0.9" fill="none"/>
<path d="M296.64 324.5H301.54M299.09 322.05V326.95M297.35 322.77L300.82 326.23M297.35 326.23L300.82 322.77" stroke="#ff0000" stroke-width="0.9" fill="none"/>
<path d="M299.61 330.45H304.51M302.06 328V332.9M300.33 328.72L303.79 332.19M300.33 332.19L303.79 328.72" stroke="#ff0000" stroke-width="0.9" fill="none"/>
<path d="M302.34 338.67H307.24M304.79 336.22V341.12M303.05 336.93L306.52 340.4M303.05 340.4L306.52 336.93" stroke="#ff0000" stroke-width="0.9" fill="none"/>
<path d="M304.82 349H309.72M307.27 346.55V351.45M305.54 347.26L309 350.73M305.54 350.73L309 347.26" stroke="#ff0000" stroke-width="0.9" fill="none"/>
<path d="M307.12 361.09H312.02M309.57 358.64V363.54M307.84 359.36L311.3 362.83M307.84 362.83L311.3 359.36" stroke="#ff0000" stroke-width="0.9" fill="none"/>
<path d="M309.21 374.42H314.11M311.66 371.97V376.87M309.93 372.69L313.4 376.16M309.93 376.16L313.4 372.69" stroke="#ff0000" stroke-width="0.9" fill="none"/>
<path d="M311.14 389.06H316.04M313.59 386.61V391.51M311.86 387.33L315.32 390.79M311.86 390.79L315.32 387.33" stroke="#ff0000" stroke-width="0.9" fill="none"/>
<path d="M312.95 404.2H317.85M315.4 401.75V406.65M313.67 402.47L317.13 405.93M313.67 405.93L317.13 402.47" stroke="#ff0000" stroke-width="0.9" fill="none"/>
<path d="M314.2 416.22H319.1M316.65 413.77V418.67M314.92 414.48L318.39 417.95M314.92 417.95L318.39 414.48" stroke="#ff0000" stroke-width="0.9" fill="none"/>
<circle cx="67.67" cy="439.18" r="2.55" stroke="#0a0aff" stroke-width="0.65" fill="none"/>
<circle cx="81.99" cy="420.98" r="2.55" stroke="#0a0aff" stroke-width="0.65" fill="none"/>
<circle cx="95.12" cy="404.34" r="2.55" stroke="#0a0aff" stroke-width="0.65" fill="none"/>
<circle cx="107.18" cy="389.11" r="2.55" stroke="#0a0aff" stroke-width="0.65" fill="none"/>
<circle cx="118.18" cy="375.22" r="2.55" stroke="#0a0aff" stroke-width="0.65" fill="none"/>
<circle cx="128.26" cy="362.53" r="2.55" stroke="#0a0aff" stroke-width="0.65" fill="none"/>
<circle cx="137.47" cy="350.99" r="2.55" stroke="#0a0aff" stroke-width="0.65" fill="none"/>
<circle cx="145.95" cy="340.31" r="2.55" stroke="#0a0aff" stroke-width="0.65" fill="none"/>
<circle cx="153.67" cy="330.69" r="2.55" stroke="#0a0aff" stroke-width="0.65" fill="none"/>
<circle cx="160.76" cy="321.89" r="2.55" stroke="#0a0aff" stroke-width="0.65" fill="none"/>
<circle cx="167.2" cy="314.07" r="2.55" stroke="#0a0aff" stroke-width="0.65" fill="none"/>
<circle cx="173.11" cy="307.03" r="2.55" stroke="#0a0aff" stroke-width="0.65" fill="none"/>
<circle cx="178.49" cy="301.06" r="2.55" stroke="#0a0aff" stroke-width="0.65" fill="none"/>
<circle cx="183.42" cy="296" r="2.55" stroke="#0a0aff" stroke-width="0.65" fill="none"/>
<circle cx="187.83" cy="292.85" r="2.55" stroke="#0a0aff" stroke-width="0.65" fill="none"/>
<circle cx="191.89" cy="291.38" r="2.55" stroke="#0a0aff" stroke-width="0.65" fill="none"/>
<circle cx="195.52" cy="292.14" r="2.55" stroke="#0a0aff" stroke-width="0.65" fill="none"/>
<circle cx="198.8" cy="295.47" r="2.55" stroke="#0a0aff" stroke-width="0.65" fill="none"/>
<circle cx="201.78" cy="301.42" r="2.55" stroke="#0a0aff" stroke-width="0.65" fill="none"/>
<circle cx="204.5" cy="309.63" r="2.55" stroke="#0a0aff" stroke-width="0.65" fill="none"/>
<circle cx="206.99" cy="319.96" r="2.55" stroke="#0a0aff" stroke-width="0.65" fill="none"/>
<circle cx="209.29" cy="332.06" r="2.55" stroke="#0a0aff" stroke-width="0.65" fill="none"/>
<circle cx="211.38" cy="345.39" r="2.55" stroke="#0a0aff" stroke-width="0.65" fill="none"/>
<circle cx="213.31" cy="360.03" r="2.55" stroke="#0a0aff" stroke-width="0.65" fill="none"/>
<circle cx="215.12" cy="375.17" r="2.55" stroke="#0a0aff" stroke-width="0.65" fill="none"/>
<circle cx="216.37" cy="387.18" r="2.55" stroke="#0a0aff" stroke-width="0.65" fill="none"/>
<circle cx="92.74" cy="446.44" r="2.55" stroke="#0a0aff" stroke-width="0.65" fill="none"/>
<circle cx="107.06" cy="428.23" r="2.55" stroke="#0a0aff" stroke-width="0.65" fill="none"/>
<circle cx="120.19" cy="411.6" r="2.55" stroke="#0a0aff" stroke-width="0.65" fill="none"/>
<circle cx="132.25" cy="396.37" r="2.55" stroke="#0a0aff" stroke-width="0.65" fill="none"/>
<circle cx="143.26" cy="382.48" r="2.55" stroke="#0a0aff" stroke-width="0.65" fill="none"/>
<circle cx="153.33" cy="369.79" r="2.55" stroke="#0a0aff" stroke-width="0.65" fill="none"/>
<circle cx="162.54" cy="358.25" r="2.55" stroke="#0a0aff" stroke-width="0.65" fill="none"/>
<circle cx="171.03" cy="347.57" r="2.55" stroke="#0a0aff" stroke-width="0.65" fill="none"/>
<circle cx="178.74" cy="337.95" r="2.55" stroke="#0a0aff" stroke-width="0.65" fill="none"/>
<circle cx="185.83" cy="329.15" r="2.55" stroke="#0a0aff" stroke-width="0.65" fill="none"/>
<circle cx="192.27" cy="321.33" r="2.55" stroke="#0a0aff" stroke-width="0.65" fill="none"/>
<circle cx="198.18" cy="314.29" r="2.55" stroke="#0a0aff" stroke-width="0.65" fill="none"/>
<circle cx="203.56" cy="308.32" r="2.55" stroke="#0a0aff" stroke-width="0.65" fill="none"/>
<circle cx="208.49" cy="303.26" r="2.55" stroke="#0a0aff" stroke-width="0.65" fill="none"/>
<circle cx="212.91" cy="300.1" r="2.55" stroke="#0a0aff" stroke-width="0.65" fill="none"/>
<circle cx="216.96" cy="298.64" r="2.55" stroke="#0a0aff" stroke-width="0.65" fill="none"/>
<circle cx="220.59" cy="299.39" r="2.55" stroke="#0a0aff" stroke-width="0.65" fill="none"/>
<circle cx="223.87" cy="302.73" r="2.55" stroke="#0a0aff" stroke-width="0.65" fill="none"/>
<circle cx="226.85" cy="308.68" r="2.55" stroke="#0a0aff" stroke-width="0.65" fill="none"/>
<circle cx="229.57" cy="316.89" r="2.55" stroke="#0a0aff" stroke-width="0.65" fill="none"/>
<circle cx="232.06" cy="327.22" r="2.55" stroke="#0a0aff" stroke-width="0.65" fill="none"/>
<circle cx="234.36" cy="339.32" r="2.55" stroke="#0a0aff" stroke-width="0.65" fill="none"/>
<circle cx="236.45" cy="352.65" r="2.55" stroke="#0a0aff" stroke-width="0.65" fill="none"/>
<circle cx="238.38" cy="367.29" r="2.55" stroke="#0a0aff" stroke-width="0.65" fill="none"/>
<circle cx="240.19" cy="382.43" r="2.55" stroke="#0a0aff" stroke-width="0.65" fill="none"/>
<circle cx="241.44" cy="394.44" r="2.55" stroke="#0a0aff" stroke-width="0.65" fill="none"/>
<circle cx="117.81" cy="453.7" r="2.55" stroke="#0a0aff" stroke-width="0.65" fill="none"/>
<circle cx="132.13" cy="435.49" r="2.55" stroke="#0a0aff" stroke-width="0.65" fill="none"/>
<circle cx="145.26" cy="418.85" r="2.55" stroke="#0a0aff" stroke-width="0.65" fill="none"/>
<circle cx="157.32" cy="403.63" r="2.55" stroke="#0a0aff" stroke-width="0.65" fill="none"/>
<circle cx="168.33" cy="389.73" r="2.55" stroke="#0a0aff" stroke-width="0.65" fill="none"/>
<circle cx="178.4" cy="377.05" r="2.55" stroke="#0a0aff" stroke-width="0.65" fill="none"/>
<circle cx="187.61" cy="365.51" r="2.55" stroke="#0a0aff" stroke-width="0.65" fill="none"/>
<circle cx="196.1" cy="354.83" r="2.55" stroke="#0a0aff" stroke-width="0.65" fill="none"/>
<circle cx="203.81" cy="345.2" r="2.55" stroke="#0a0aff" stroke-width="0.65" fill="none"/>
<circle cx="210.9" cy="336.41" r="2.55" stroke="#0a0aff" stroke-width="0.65" fill="none"/>
<circle cx="217.34" cy="328.59" r="2.55" stroke="#0a0aff" stroke-width="0.65" fill="none"/>
<circle cx="223.25" cy="321.55" r="2.55" stroke="#0a0aff" stroke-width="0.65" fill="none"/>
<circle cx="228.63" cy="315.58" r="2.55" stroke="#0a0aff" stroke-width="0.65" fill="none"/>
<circle cx="233.57" cy="310.52" r="2.55" stroke="#0a0aff" stroke-width="0.65" fill="none"/>
<circle cx="237.98" cy="307.36" r="2.55" stroke="#0a0aff" stroke-width="0.65" fill="none"/>
<circle cx="242.03" cy="305.9" r="2.55" stroke="#0a0aff" stroke-width="0.65" fill="none"/>
<circle cx="245.66" cy="306.65" r="2.55" stroke="#0a0aff" stroke-width="0.65" fill="none"/>
<circle cx="248.95" cy="309.98" r="2.55" stroke="#0a0aff" stroke-width="0.65" fill="none"/>
<circle cx="251.92" cy="315.94" r="2.55" stroke="#0a0aff" stroke-width="0.65" fill="none"/>
<circle cx="254.65" cy="324.15" r="2.55" stroke="#0a0aff" stroke-width="0.65" fill="none"/>
<circle cx="257.13" cy="334.48" r="2.55" stroke="#0a0aff" stroke-width="0.65" fill="none"/>
<circle cx="259.43" cy="346.58" r="2.55" stroke="#0a0aff" stroke-width="0.65" fill="none"/>
<circle cx="261.52" cy="359.91" r="2.55" stroke="#0a0aff" stroke-width="0.65" fill="none"/>
<circle cx="263.45" cy="374.55" r="2.55" stroke="#0a0aff" stroke-width="0.65" fill="none"/>
<circle cx="265.26" cy="389.69" r="2.55" stroke="#0a0aff" stroke-width="0.65" fill="none"/>
<circle cx="266.51" cy="401.7" r="2.55" stroke="#0a0aff" stroke-width="0.65" fill="none"/>
<circle cx="142.88" cy="460.96" r="2.55" stroke="#0a0aff" stroke-width="0.65" fill="none"/>
<circle cx="157.2" cy="442.75" r="2.55" stroke="#0a0aff" stroke-width="0.65" fill="none"/>
<circle cx="170.34" cy="426.11" r="2.55" stroke="#0a0aff" stroke-width="0.65" fill="none"/>
<circle cx="182.39" cy="410.89" r="2.55" stroke="#0a0aff" stroke-width="0.65" fill="none"/>
<circle cx="193.4" cy="396.99" r="2.55" stroke="#0a0aff" stroke-width="0.65" fill="none"/>
<circle cx="203.47" cy="384.3" r="2.55" stroke="#0a0aff" stroke-width="0.65" fill="none"/>
<circle cx="212.68" cy="372.76" r="2.55" stroke="#0a0aff" stroke-width="0.65" fill="none"/>
<circle cx="221.17" cy="362.09" r="2.55" stroke="#0a0aff" stroke-width="0.65" fill="none"/>
<circle cx="228.88" cy="352.46" r="2.55" stroke="#0a0aff" stroke-width="0.65" fill="none"/>
<circle cx="235.97" cy="343.67" r="2.55" stroke="#0a0aff" stroke-width="0.65" fill="none"/>
<circle cx="242.42" cy="335.85" r="2.55" stroke="#0a0aff" stroke-width="0.65" fill="none"/>
<circle cx="248.32" cy="328.8" r="2.55" stroke="#0a0aff" stroke-width="0.65" fill="none"/>
<circle cx="253.7" cy="322.84" r="2.55" stroke="#0a0aff" stroke-width="0.65" fill="none"/>
<circle cx="258.64" cy="317.78" r="2.55" stroke="#0a0aff" stroke-width="0.65" fill="none"/>
<circle cx="263.05" cy="314.62" r="2.55" stroke="#0a0aff" stroke-width="0.65" fill="none"/>
<circle cx="267.1" cy="313.16" r="2.55" stroke="#0a0aff" stroke-width="0.65" fill="none"/>
<circle cx="270.73" cy="313.91" r="2.55" stroke="#0a0aff" stroke-width="0.65" fill="none"/>
<circle cx="274.02" cy="317.24" r="2.55" stroke="#0a0aff" stroke-width="0.65" fill="none"/>
<circle cx="276.99" cy="323.19" r="2.55" stroke="#0a0aff" stroke-width="0.65" fill="none"/>
<circle cx="279.72" cy="331.41" r="2.55" stroke="#0a0aff" stroke-width="0.65" fill="none"/>
<circle cx="282.2" cy="341.74" r="2.55" stroke="#0a0aff" stroke-width="0.65" fill="none"/>
<circle cx="284.5" cy="353.84" r="2.55" stroke="#0a0aff" stroke-width="0.65" fill="none"/>
<circle cx="286.59" cy="367.17" r="2.55" stroke="#0a0aff" stroke-width="0.65" fill="none"/>
<circle cx="288.52" cy="381.8" r="2.55" stroke="#0a0aff" stroke-width="0.65" fill="none"/>
<circle cx="290.33" cy="396.94" r="2.55" stroke="#0a0aff" stroke-width="0.65" fill="none"/>
<circle cx="291.58" cy="408.96" r="2.55" stroke="#0a0aff" stroke-width="0.65" fill="none"/>
<circle cx="167.95" cy="468.22" r="2.55" stroke="#0a0aff" stroke-width="0.65" fill="none"/>
<circle cx="182.27" cy="450.01" r="2.55" stroke="#0a0aff" stroke-width="0.65" fill="none"/>
<circle cx="195.41" cy="433.37" r="2.55" stroke="#0a0aff" stroke-width="0.65" fill="none"/>
<circle cx="207.46" cy="418.15" r="2.55" stroke="#0a0aff" stroke-width="0.65" fill="none"/>
<circle cx="218.47" cy="404.25" r="2.55" stroke="#0a0aff" stroke-width="0.65" fill="none"/>
<circle cx="228.54" cy="391.56" r="2.55" stroke="#0a0aff" stroke-width="0.65" fill="none"/>
<circle cx="237.75" cy="380.02" r="2.55" stroke="#0a0aff" stroke-width="0.65" fill="none"/>
<circle cx="246.24" cy="369.34" r="2.55" stroke="#0a0aff" stroke-width="0.65" fill="none"/>
<circle cx="253.96" cy="359.72" r="2.55" stroke="#0a0aff" stroke-width="0.65" fill="none"/>
<circle cx="261.04" cy="350.92" r="2.55" stroke="#0a0aff" stroke-width="0.65" fill="none"/>
<circle cx="267.49" cy="343.1" r="2.55" stroke="#0a0aff" stroke-width="0.65" fill="none"/>
<circle cx="273.39" cy="336.06" r="2.55" stroke="#0a0aff" stroke-width="0.65" fill="none"/>
<circle cx="278.77" cy="330.1" r="2.55" stroke="#0a0aff" stroke-width="0.65" fill="none"/>
<circle cx="283.71" cy="325.03" r="2.55" stroke="#0a0aff" stroke-width="0.65" fill="none"/>
<circle cx="288.12" cy="321.88" r="2.55" stroke="#0a0aff" stroke-width="0.65" fill="none"/>
<circle cx="292.17" cy="320.41" r="2.55" stroke="#0a0aff" stroke-width="0.65" fill="none"/>
<circle cx="295.8" cy="321.17" r="2.55" stroke="#0a0aff" stroke-width="0.65" fill="none"/>
<circle cx="299.09" cy="324.5" r="2.55" stroke="#0a0aff" stroke-width="0.65" fill="none"/>
<circle cx="302.06" cy="330.45" r="2.55" stroke="#0a0aff" stroke-width="0.65" fill="none"/>
<circle cx="304.79" cy="338.67" r="2.55" stroke="#0a0aff" stroke-width="0.65" fill="none"/>
<circle cx="307.27" cy="349" r="2.55" stroke="#0a0aff" stroke-width="0.65" fill="none"/>
<circle cx="309.57" cy="361.09" r="2.55" stroke="#0a0aff" stroke-width="0.65" fill="none"/>
<circle cx="311.66" cy="374.42" r="2.55" stroke="#0a0aff" stroke-width="0.65" fill="none"/>
<circle cx="313.59" cy="389.06" r="2.55" stroke="#0a0aff" stroke-width="0.65" fill="none"/>
<circle cx="315.4" cy="404.2" r="2.55" stroke="#0a0aff" stroke-width="0.65" fill="none"/>
<circle cx="316.65" cy="416.22" r="2.55" stroke="#0a0aff" stroke-width="0.65" fill="none"/>
<polyline points="67.67,439.18 81.99,420.98 95.12,404.34 107.18,389.11 118.18,375.22 128.26,362.53 137.47,350.99 145.95,340.31 153.67,330.69 160.76,321.89 167.2,314.07 173.11,307.03 178.49,301.06 183.42,296 187.83,292.85 191.89,291.38 195.52,292.14 198.8,295.47 201.78,301.42 204.5,309.63 206.99,319.96 209.29,332.06 211.38,345.39 213.31,360.03 215.12,375.17 216.37,387.18" fill="none" stroke="#000" stroke-opacity="0.4" stroke-width="1.1" stroke-linejoin="round"/>
<polyline points="92.74,446.44 107.06,428.23 120.19,411.6 132.25,396.37 143.26,382.48 153.33,369.79 162.54,358.25 171.03,347.57 178.74,337.95 185.83,329.15 192.27,321.33 198.18,314.29 203.56,308.32 208.49,303.26 212.91,300.1 216.96,298.64 220.59,299.39 223.87,302.73 226.85,308.68 229.57,316.89 232.06,327.22 234.36,339.32 236.45,352.65 238.38,367.29 240.19,382.43 241.44,394.44" fill="none" stroke="#000" stroke-opacity="0.4" stroke-width="1.1" stroke-linejoin="round"/>
<polyline points="117.81,453.7 132.13,435.49 145.26,418.85 157.32,403.63 168.33,389.73 178.4,377.05 187.61,365.51 196.1,354.83 203.81,345.2 210.9,336.41 217.34,328.59 223.25,321.55 228.63,315.58 233.57,310.52 237.98,307.36 242.03,305.9 245.66,306.65 248.95,309.98 251.92,315.94 254.65,324.15 257.13,334.48 259.43,346.58 261.52,359.91 263.45,374.55 265.26,389.69 266.51,401.7" fill="none" stroke="#000" stroke-opacity="0.4" stroke-width="1.1" stroke-linejoin="round"/>
<polyline points="142.88,460.96 157.2,442.75 170.34,426.11 182.39,410.89 193.4,396.99 203.47,384.3 212.68,372.76 221.17,362.09 228.88,352.46 235.97,343.67 242.42,335.85 248.32,328.8 253.7,322.84 258.64,317.78 263.05,314.62 267.1,313.16 270.73,313.91 274.02,317.24 276.99,323.19 279.72,331.41 282.2,341.74 284.5,353.84 286.59,367.17 288.52,381.8 290.33,396.94 291.58,408.96" fill="none" stroke="#000" stroke-opacity="0.4" stroke-width="1.1" stroke-linejoin="round"/>
<polyline points="167.95,468.22 182.27,450.01 195.41,433.37 207.46,418.15 218.47,404.25 228.54,391.56 237.75,380.02 246.24,369.34 253.96,359.72 261.04,350.92 267.49,343.1 273.39,336.06 278.77,330.1 283.71,325.03 288.12,321.88 292.17,320.41 295.8,321.17 299.09,324.5 302.06,330.45 304.79,338.67 307.27,349 309.57,361.09 311.66,374.42 313.59,389.06 315.4,404.2 316.65,416.22" fill="none" stroke="#000" stroke-opacity="0.4" stroke-width="1.1" stroke-linejoin="round"/>
<polyline points="42.6,299.6 42.6,442.1 193.2,485.7 341.9,441.6" fill="none" stroke="#262626" stroke-width="1.3" stroke-linejoin="round"/>
<line x1="42.6" y1="442.1" x2="38.57" y2="440.93" stroke="#262626" stroke-width="1.1"/>
<text x="35.1" y="443.2" font-size="12.2" text-anchor="end" fill="#1a1a1a" stroke="#1a1a1a" stroke-width="0.06" textLength="18.69" lengthAdjust="spacingAndGlyphs">-0.2</text>
<line x1="42.6" y1="394.6" x2="38.57" y2="393.43" stroke="#262626" stroke-width="1.1"/>
<text x="35.1" y="395.7" font-size="12.2" text-anchor="end" fill="#1a1a1a" stroke="#1a1a1a" stroke-width="0.06" textLength="5.8" lengthAdjust="spacingAndGlyphs">0</text>
<line x1="42.6" y1="347.1" x2="38.57" y2="345.93" stroke="#262626" stroke-width="1.1"/>
<text x="35.1" y="348.2" font-size="12.2" text-anchor="end" fill="#1a1a1a" stroke="#1a1a1a" stroke-width="0.06" textLength="14.82" lengthAdjust="spacingAndGlyphs">0.2</text>
<line x1="42.6" y1="299.6" x2="38.57" y2="298.43" stroke="#262626" stroke-width="1.1"/>
<text x="35.1" y="300.7" font-size="12.2" text-anchor="end" fill="#1a1a1a" stroke="#1a1a1a" stroke-width="0.06" textLength="14.82" lengthAdjust="spacingAndGlyphs">0.4</text>
<line x1="67.67" y1="449.36" x2="63.64" y2="450.55" stroke="#262626" stroke-width="1.1"/>
<text x="63.07" y="452.86" font-size="12" text-anchor="end" fill="#1a1a1a" stroke="#1a1a1a" stroke-width="0.06" transform="rotate(-73 63.07 452.86)" textLength="24.38" lengthAdjust="spacingAndGlyphs">ZOA</text>
<line x1="92.74" y1="456.62" x2="88.71" y2="457.81" stroke="#262626" stroke-width="1.1"/>
<text x="88.14" y="460.12" font-size="12" text-anchor="end" fill="#1a1a1a" stroke="#1a1a1a" stroke-width="0.06" transform="rotate(-73 88.14 460.12)" textLength="26.29" lengthAdjust="spacingAndGlyphs">OOA</text>
<line x1="117.81" y1="463.87" x2="113.79" y2="465.07" stroke="#262626" stroke-width="1.1"/>
<text x="113.21" y="467.37" font-size="12" text-anchor="end" fill="#1a1a1a" stroke="#1a1a1a" stroke-width="0.06" transform="rotate(-73 113.21 467.37)" textLength="17.42" lengthAdjust="spacingAndGlyphs">HO</text>
<line x1="142.88" y1="471.13" x2="138.86" y2="472.33" stroke="#262626" stroke-width="1.1"/>
<text x="138.28" y="474.63" font-size="12" text-anchor="end" fill="#1a1a1a" stroke="#1a1a1a" stroke-width="0.06" transform="rotate(-73 138.28 474.63)" textLength="24.86" lengthAdjust="spacingAndGlyphs">ECO</text>
<line x1="167.95" y1="478.39" x2="163.93" y2="479.59" stroke="#262626" stroke-width="1.1"/>
<text x="163.35" y="481.89" font-size="12" text-anchor="end" fill="#1a1a1a" stroke="#1a1a1a" stroke-width="0.06" transform="rotate(-73 163.35 481.89)" textLength="31.2" lengthAdjust="spacingAndGlyphs">SFOA</text>
<line x1="194.27" y1="485.38" x2="198.3" y2="486.55" stroke="#262626" stroke-width="1.1"/>
<text x="201.27" y="497.68" font-size="12.2" text-anchor="start" fill="#1a1a1a" stroke="#1a1a1a" stroke-width="0.06" textLength="18.69" lengthAdjust="spacingAndGlyphs">-0.2</text>
<line x1="231.64" y1="474.3" x2="235.68" y2="475.47" stroke="#262626" stroke-width="1.1"/>
<text x="238.64" y="486.6" font-size="12.2" text-anchor="start" fill="#1a1a1a" stroke="#1a1a1a" stroke-width="0.06" textLength="5.8" lengthAdjust="spacingAndGlyphs">0</text>
<line x1="269.02" y1="463.21" x2="273.05" y2="464.38" stroke="#262626" stroke-width="1.1"/>
<text x="276.02" y="475.51" font-size="12.2" text-anchor="start" fill="#1a1a1a" stroke="#1a1a1a" stroke-width="0.06" textLength="14.82" lengthAdjust="spacingAndGlyphs">0.2</text>
<line x1="306.39" y1="452.13" x2="310.43" y2="453.3" stroke="#262626" stroke-width="1.1"/>
<text x="313.39" y="464.43" font-size="12.2" text-anchor="start" fill="#1a1a1a" stroke="#1a1a1a" stroke-width="0.06" textLength="14.82" lengthAdjust="spacingAndGlyphs">0.4</text>
<text x="10.3" y="370.7" font-size="12.6" text-anchor="middle" fill="#1a1a1a" stroke="#1a1a1a" stroke-width="0.06" transform="rotate(-90 10.3 370.7)" textLength="35.3" lengthAdjust="spacingAndGlyphs">P (W)</text>
<text x="282.9" y="502.7" font-size="12.6" text-anchor="middle" fill="#1a1a1a" stroke="#1a1a1a" stroke-width="0.06" textLength="32.8" lengthAdjust="spacingAndGlyphs">V (V)</text>
<text x="41.5" y="274" font-size="20.5" text-anchor="start" fill="#000" stroke="#000" stroke-width="0.06" textLength="22.6" lengthAdjust="spacingAndGlyphs">(c)</text>
<line x1="57.2" y1="301.7" x2="81" y2="301.7" stroke="#000" stroke-width="1.35"/>
<path d="M66.95 314.6H71.85M69.4 312.15V317.05M67.67 312.87L71.13 316.33M67.67 316.33L71.13 312.87" stroke="#ff0000" stroke-width="0.9" fill="none"/>
<circle cx="69.4" cy="327.4" r="2.55" stroke="#0a0aff" stroke-width="0.65" fill="none"/>
<text x="83.8" y="304.6" font-size="10.3" text-anchor="start" fill="#000" stroke="#000" stroke-width="0.06" textLength="42.3" lengthAdjust="spacingAndGlyphs">Measured</text>
<text x="83.8" y="317.4" font-size="10.3" text-anchor="start" fill="#000" stroke="#000" stroke-width="0.06" textLength="69.6" lengthAdjust="spacingAndGlyphs">Without-Secant</text>
<text x="83.8" y="330.2" font-size="10.3" text-anchor="start" fill="#000" stroke="#000" stroke-width="0.06" textLength="55" lengthAdjust="spacingAndGlyphs">With-Secant</text>
<line x1="382.4" y1="429.25" x2="523.1" y2="385.45" stroke="#e0e0e0" stroke-width="1.4"/>
<line x1="523.1" y1="385.45" x2="666.3" y2="429.25" stroke="#e0e0e0" stroke-width="1.4"/>
<line x1="382.4" y1="400.36" x2="523.1" y2="356.56" stroke="#e0e0e0" stroke-width="1.4"/>
<line x1="523.1" y1="356.56" x2="666.3" y2="400.36" stroke="#e0e0e0" stroke-width="1.4"/>
<line x1="382.4" y1="371.46" x2="523.1" y2="327.66" stroke="#e0e0e0" stroke-width="1.4"/>
<line x1="523.1" y1="327.66" x2="666.3" y2="371.46" stroke="#e0e0e0" stroke-width="1.4"/>
<line x1="382.4" y1="342.57" x2="523.1" y2="298.77" stroke="#e0e0e0" stroke-width="1.4"/>
<line x1="523.1" y1="298.77" x2="666.3" y2="342.57" stroke="#e0e0e0" stroke-width="1.4"/>
<line x1="382.4" y1="313.68" x2="523.1" y2="269.88" stroke="#e0e0e0" stroke-width="1.4"/>
<line x1="523.1" y1="269.88" x2="666.3" y2="313.68" stroke="#e0e0e0" stroke-width="1.4"/>
<line x1="382.4" y1="441.1" x2="382.4" y2="298.65" stroke="#e0e0e0" stroke-width="1.4"/>
<line x1="382.4" y1="441.1" x2="525.6" y2="484.9" stroke="#e0e0e0" stroke-width="1.4"/>
<line x1="452.75" y1="419.2" x2="452.75" y2="276.75" stroke="#e0e0e0" stroke-width="1.4"/>
<line x1="452.75" y1="419.2" x2="595.95" y2="463" stroke="#e0e0e0" stroke-width="1.4"/>
<line x1="523.1" y1="397.3" x2="523.1" y2="254.85" stroke="#e0e0e0" stroke-width="1.4"/>
<line x1="523.1" y1="397.3" x2="666.3" y2="441.1" stroke="#e0e0e0" stroke-width="1.4"/>
<line x1="546.97" y1="404.6" x2="546.97" y2="262.15" stroke="#e0e0e0" stroke-width="1.4"/>
<line x1="406.27" y1="448.4" x2="546.97" y2="404.6" stroke="#e0e0e0" stroke-width="1.4"/>
<line x1="570.83" y1="411.9" x2="570.83" y2="269.45" stroke="#e0e0e0" stroke-width="1.4"/>
<line x1="430.13" y1="455.7" x2="570.83" y2="411.9" stroke="#e0e0e0" stroke-width="1.4"/>
<line x1="594.7" y1="419.2" x2="594.7" y2="276.75" stroke="#e0e0e0" stroke-width="1.4"/>
<line x1="454" y1="463" x2="594.7" y2="419.2" stroke="#e0e0e0" stroke-width="1.4"/>
<line x1="618.57" y1="426.5" x2="618.57" y2="284.05" stroke="#e0e0e0" stroke-width="1.4"/>
<line x1="477.87" y1="470.3" x2="618.57" y2="426.5" stroke="#e0e0e0" stroke-width="1.4"/>
<line x1="642.43" y1="433.8" x2="642.43" y2="291.35" stroke="#e0e0e0" stroke-width="1.4"/>
<line x1="501.73" y1="477.6" x2="642.43" y2="433.8" stroke="#e0e0e0" stroke-width="1.4"/>
<polyline points="407.14,377.75 419,364.03 429.84,351.56 439.77,340.21 448.86,329.89 457.17,320.45 464.79,311.8 471.76,304.04 478.14,297.14 483.97,291.51 489.29,287.24 494.15,284.59 498.59,283.86 502.63,284.84 506.32,287.91 509.68,292.67 512.74,298.87 515.53,306.38 518.07,314.71 520.39,323.69 522.51,332.93 524.45,342.75 526.21,352.36 527.83,361.79 529.3,371.09" fill="none" stroke="#000" stroke-width="1.35" stroke-linejoin="round"/>
<polyline points="431.01,385.05 442.86,371.33 453.71,358.86 463.64,347.51 472.72,337.19 481.04,327.75 488.66,319.1 495.63,311.34 502.01,304.44 507.83,298.81 513.16,294.54 518.02,291.89 522.45,291.16 526.5,292.14 530.19,295.21 533.54,299.97 536.61,306.17 539.39,313.68 541.94,322.01 544.26,330.99 546.38,340.23 548.31,350.05 550.08,359.66 551.69,369.09 553.16,378.39" fill="none" stroke="#000" stroke-width="1.35" stroke-linejoin="round"/>
<polyline points="454.88,392.35 466.73,378.63 477.57,366.16 487.5,354.81 496.59,344.49 504.91,335.05 512.52,326.4 519.49,318.64 525.87,311.74 531.7,306.11 537.03,301.84 541.89,299.19 546.32,298.46 550.37,299.44 554.05,302.51 557.41,307.27 560.47,313.47 563.26,320.98 565.81,329.31 568.13,338.29 570.25,347.53 572.18,357.35 573.95,366.96 575.56,376.39 577.03,385.69" fill="none" stroke="#000" stroke-width="1.35" stroke-linejoin="round"/>
<polyline points="478.74,399.65 490.6,385.93 501.44,373.46 511.37,362.11 520.46,351.79 528.77,342.35 536.39,333.7 543.36,325.94 549.74,319.04 555.57,313.41 560.89,309.14 565.75,306.49 570.19,305.76 574.23,306.74 577.92,309.81 581.28,314.57 584.34,320.77 587.13,328.28 589.67,336.61 591.99,345.59 594.11,354.83 596.05,364.65 597.81,374.26 599.43,383.69 600.9,392.99" fill="none" stroke="#000" stroke-width="1.35" stroke-linejoin="round"/>
<polyline points="502.61,406.95 514.46,393.23 525.31,380.76 535.24,369.41 544.32,359.09 552.64,349.65 560.26,341 567.23,333.24 573.61,326.34 579.43,320.71 584.76,316.44 589.62,313.79 594.05,313.06 598.1,314.04 601.79,317.11 605.14,321.87 608.21,328.07 610.99,335.58 613.54,343.91 615.86,352.89 617.98,362.13 619.91,371.95 621.68,381.56 623.29,390.99 624.76,400.29" fill="none" stroke="#000" stroke-width="1.35" stroke-linejoin="round"/>
<path d="M404.69 377.75H409.59M407.14 375.3V380.2M405.41 376.01L408.88 379.48M405.41 379.48L408.88 376.01" stroke="#ff0000" stroke-width="0.9" fill="none"/>
<path d="M416.55 364.03H421.45M419 361.58V366.48M417.26 362.3L420.73 365.76M417.26 365.76L420.73 362.3" stroke="#ff0000" stroke-width="0.9" fill="none"/>
<path d="M427.39 351.56H432.29M429.84 349.11V354.01M428.11 349.82L431.57 353.29M428.11 353.29L431.57 349.82" stroke="#ff0000" stroke-width="0.9" fill="none"/>
<path d="M437.32 340.21H442.22M439.77 337.76V342.66M438.04 338.48L441.5 341.94M438.04 341.94L441.5 338.48" stroke="#ff0000" stroke-width="0.9" fill="none"/>
<path d="M446.41 329.89H451.31M448.86 327.44V332.34M447.12 328.16L450.59 331.62M447.12 331.62L450.59 328.16" stroke="#ff0000" stroke-width="0.9" fill="none"/>
<path d="M454.72 320.45H459.62M457.17 318V322.9M455.44 318.72L458.91 322.18M455.44 322.18L458.91 318.72" stroke="#ff0000" stroke-width="0.9" fill="none"/>
<path d="M462.34 311.8H467.24M464.79 309.35V314.25M463.06 310.07L466.52 313.53M463.06 313.53L466.52 310.07" stroke="#ff0000" stroke-width="0.9" fill="none"/>
<path d="M469.31 304.04H474.21M471.76 301.59V306.49M470.03 302.31L473.49 305.77M470.03 305.77L473.49 302.31" stroke="#ff0000" stroke-width="0.9" fill="none"/>
<path d="M475.69 297.14H480.59M478.14 294.69V299.59M476.41 295.41L479.87 298.88M476.41 298.88L479.87 295.41" stroke="#ff0000" stroke-width="0.9" fill="none"/>
<path d="M481.52 291.51H486.42M483.97 289.06V293.96M482.24 289.78L485.7 293.25M482.24 293.25L485.7 289.78" stroke="#ff0000" stroke-width="0.9" fill="none"/>
<path d="M486.84 287.24H491.74M489.29 284.79V289.69M487.56 285.51L491.02 288.97M487.56 288.97L491.02 285.51" stroke="#ff0000" stroke-width="0.9" fill="none"/>
<path d="M491.7 284.59H496.6M494.15 282.14V287.04M492.42 282.86L495.89 286.32M492.42 286.32L495.89 282.86" stroke="#ff0000" stroke-width="0.9" fill="none"/>
<path d="M496.14 283.86H501.04M498.59 281.41V286.31M496.86 282.12L500.32 285.59M496.86 285.59L500.32 282.12" stroke="#ff0000" stroke-width="0.9" fill="none"/>
<path d="M500.18 284.84H505.08M502.63 282.39V287.29M500.9 283.11L504.37 286.57M500.9 286.57L504.37 283.11" stroke="#ff0000" stroke-width="0.9" fill="none"/>
<path d="M503.87 287.91H508.77M506.32 285.46V290.36M504.59 286.18L508.05 289.64M504.59 289.64L508.05 286.18" stroke="#ff0000" stroke-width="0.9" fill="none"/>
<path d="M507.23 292.67H512.13M509.68 290.22V295.12M507.95 290.94L511.41 294.41M507.95 294.41L511.41 290.94" stroke="#ff0000" stroke-width="0.9" fill="none"/>
<path d="M510.29 298.87H515.19M512.74 296.42V301.32M511.01 297.14L514.47 300.6M511.01 300.6L514.47 297.14" stroke="#ff0000" stroke-width="0.9" fill="none"/>
<path d="M513.08 306.38H517.98M515.53 303.93V308.83M513.8 304.65L517.26 308.11M513.8 308.11L517.26 304.65" stroke="#ff0000" stroke-width="0.9" fill="none"/>
<path d="M515.62 314.71H520.52M518.07 312.26V317.16M516.34 312.97L519.81 316.44M516.34 316.44L519.81 312.97" stroke="#ff0000" stroke-width="0.9" fill="none"/>
<path d="M517.94 323.69H522.84M520.39 321.24V326.14M518.66 321.96L522.13 325.42M518.66 325.42L522.13 321.96" stroke="#ff0000" stroke-width="0.9" fill="none"/>
<path d="M520.06 332.93H524.96M522.51 330.48V335.38M520.78 331.2L524.25 334.66M520.78 334.66L524.25 331.2" stroke="#ff0000" stroke-width="0.9" fill="none"/>
<path d="M522 342.75H526.9M524.45 340.3V345.2M522.71 341.02L526.18 344.48M522.71 344.48L526.18 341.02" stroke="#ff0000" stroke-width="0.9" fill="none"/>
<path d="M523.76 352.36H528.66M526.21 349.91V354.81M524.48 350.63L527.95 354.09M524.48 354.09L527.95 350.63" stroke="#ff0000" stroke-width="0.9" fill="none"/>
<path d="M525.38 361.79H530.28M527.83 359.34V364.24M526.09 360.06L529.56 363.52M526.09 363.52L529.56 360.06" stroke="#ff0000" stroke-width="0.9" fill="none"/>
<path d="M526.85 371.09H531.75M529.3 368.64V373.54M527.57 369.35L531.03 372.82M527.57 372.82L531.03 369.35" stroke="#ff0000" stroke-width="0.9" fill="none"/>
<path d="M428.56 385.04H433.46M431.01 382.59V387.49M429.28 383.31L432.74 386.77M429.28 386.77L432.74 383.31" stroke="#ff0000" stroke-width="0.9" fill="none"/>
<path d="M440.41 377.25H445.31M442.86 374.8V379.7M441.13 375.52L444.59 378.98M441.13 378.98L444.59 375.52" stroke="#ff0000" stroke-width="0.9" fill="none"/>
<path d="M451.26 368.55H456.16M453.71 366.1V371M451.98 366.82L455.44 370.29M451.98 370.29L455.44 366.82" stroke="#ff0000" stroke-width="0.9" fill="none"/>
<path d="M461.19 360.84H466.09M463.64 358.39V363.29M461.9 359.11L465.37 362.57M461.9 362.57L465.37 359.11" stroke="#ff0000" stroke-width="0.9" fill="none"/>
<path d="M470.27 354.14H475.17M472.72 351.69V356.59M470.99 352.41L474.45 355.87M470.99 355.87L474.45 352.41" stroke="#ff0000" stroke-width="0.9" fill="none"/>
<path d="M478.59 347.74H483.49M481.04 345.29V350.19M479.31 346L482.77 349.47M479.31 349.47L482.77 346" stroke="#ff0000" stroke-width="0.9" fill="none"/>
<path d="M486.21 342.01H491.11M488.66 339.56V344.46M486.92 340.28L490.39 343.75M486.92 343.75L490.39 340.28" stroke="#ff0000" stroke-width="0.9" fill="none"/>
<path d="M493.18 336.72H498.08M495.63 334.27V339.17M493.89 334.99L497.36 338.46M493.89 338.46L497.36 334.99" stroke="#ff0000" stroke-width="0.9" fill="none"/>
<path d="M499.56 331.79H504.46M502.01 329.34V334.24M500.27 330.06L503.74 333.52M500.27 333.52L503.74 330.06" stroke="#ff0000" stroke-width="0.9" fill="none"/>
<path d="M505.38 327.49H510.28M507.83 325.04V329.94M506.1 325.76L509.57 329.22M506.1 329.22L509.57 325.76" stroke="#ff0000" stroke-width="0.9" fill="none"/>
<path d="M510.71 323.93H515.61M513.16 321.48V326.38M511.43 322.19L514.89 325.66M511.43 325.66L514.89 322.19" stroke="#ff0000" stroke-width="0.9" fill="none"/>
<path d="M515.57 320.85H520.47M518.02 318.4V323.3M516.29 319.12L519.75 322.59M516.29 322.59L519.75 319.12" stroke="#ff0000" stroke-width="0.9" fill="none"/>
<path d="M520 318.55H524.9M522.45 316.1V321M520.72 316.82L524.19 320.28M520.72 320.28L524.19 316.82" stroke="#ff0000" stroke-width="0.9" fill="none"/>
<path d="M524.05 317.17H528.95M526.5 314.72V319.62M524.77 315.44L528.23 318.91M524.77 318.91L528.23 315.44" stroke="#ff0000" stroke-width="0.9" fill="none"/>
<path d="M527.74 316.89H532.64M530.19 314.44V319.34M528.45 315.16L531.92 318.63M528.45 318.63L531.92 315.16" stroke="#ff0000" stroke-width="0.9" fill="none"/>
<path d="M531.09 317.64H535.99M533.54 315.19V320.09M531.81 315.91L535.28 319.37M531.81 319.37L535.28 315.91" stroke="#ff0000" stroke-width="0.9" fill="none"/>
<path d="M534.16 319.17H539.06M536.61 316.72V321.62M534.87 317.44L538.34 320.9M534.87 320.9L538.34 317.44" stroke="#ff0000" stroke-width="0.9" fill="none"/>
<path d="M536.94 321.71H541.84M539.39 319.26V324.16M537.66 319.98L541.13 323.44M537.66 323.44L541.13 319.98" stroke="#ff0000" stroke-width="0.9" fill="none"/>
<path d="M539.49 324.96H544.39M541.94 322.51V327.41M540.21 323.23L543.67 326.7M540.21 326.7L543.67 323.23" stroke="#ff0000" stroke-width="0.9" fill="none"/>
<path d="M541.81 329.73H546.71M544.26 327.28V332.18M542.53 328L545.99 331.46M542.53 331.46L545.99 328" stroke="#ff0000" stroke-width="0.9" fill="none"/>
<path d="M543.93 334.85H548.83M546.38 332.4V337.3M544.65 333.12L548.11 336.58M544.65 336.58L548.11 333.12" stroke="#ff0000" stroke-width="0.9" fill="none"/>
<path d="M545.86 340.61H550.76M548.31 338.16V343.06M546.58 338.87L550.04 342.34M546.58 342.34L550.04 338.87" stroke="#ff0000" stroke-width="0.9" fill="none"/>
<path d="M547.63 345.55H552.53M550.08 343.1V348M548.35 343.81L551.81 347.28M548.35 347.28L551.81 343.81" stroke="#ff0000" stroke-width="0.9" fill="none"/>
<path d="M549.24 350.82H554.14M551.69 348.37V353.27M549.96 349.09L553.43 352.56M549.96 352.56L553.43 349.09" stroke="#ff0000" stroke-width="0.9" fill="none"/>
<path d="M550.71 357.76H555.61M553.16 355.31V360.21M551.43 356.03L554.9 359.49M551.43 359.49L554.9 356.03" stroke="#ff0000" stroke-width="0.9" fill="none"/>
<path d="M452.43 392.35H457.33M454.88 389.9V394.8M453.15 390.61L456.61 394.08M453.15 394.08L456.61 390.61" stroke="#ff0000" stroke-width="0.9" fill="none"/>
<path d="M464.28 378.63H469.18M466.73 376.18V381.08M465 376.9L468.46 380.36M465 380.36L468.46 376.9" stroke="#ff0000" stroke-width="0.9" fill="none"/>
<path d="M475.12 366.16H480.02M477.57 363.71V368.61M475.84 364.42L479.31 367.89M475.84 367.89L479.31 364.42" stroke="#ff0000" stroke-width="0.9" fill="none"/>
<path d="M485.05 354.81H489.95M487.5 352.36V357.26M485.77 353.08L489.23 356.54M485.77 356.54L489.23 353.08" stroke="#ff0000" stroke-width="0.9" fill="none"/>
<path d="M494.14 344.49H499.04M496.59 342.04V346.94M494.86 342.76L498.32 346.22M494.86 346.22L498.32 342.76" stroke="#ff0000" stroke-width="0.9" fill="none"/>
<path d="M502.46 335.05H507.36M504.91 332.6V337.5M503.18 333.32L506.64 336.78M503.18 336.78L506.64 333.32" stroke="#ff0000" stroke-width="0.9" fill="none"/>
<path d="M510.07 326.4H514.97M512.52 323.95V328.85M510.79 324.67L514.26 328.13M510.79 328.13L514.26 324.67" stroke="#ff0000" stroke-width="0.9" fill="none"/>
<path d="M517.04 318.64H521.94M519.49 316.19V321.09M517.76 316.91L521.23 320.37M517.76 320.37L521.23 316.91" stroke="#ff0000" stroke-width="0.9" fill="none"/>
<path d="M523.42 311.74H528.32M525.87 309.29V314.19M524.14 310.01L527.6 313.48M524.14 313.48L527.6 310.01" stroke="#ff0000" stroke-width="0.9" fill="none"/>
<path d="M529.25 306.11H534.15M531.7 303.66V308.56M529.97 304.38L533.43 307.85M529.97 307.85L533.43 304.38" stroke="#ff0000" stroke-width="0.9" fill="none"/>
<path d="M534.58 301.84H539.48M537.03 299.39V304.29M535.29 300.11L538.76 303.57M535.29 303.57L538.76 300.11" stroke="#ff0000" stroke-width="0.9" fill="none"/>
<path d="M539.44 299.19H544.34M541.89 296.74V301.64M540.16 297.46L543.62 300.92M540.16 300.92L543.62 297.46" stroke="#ff0000" stroke-width="0.9" fill="none"/>
<path d="M543.87 298.46H548.77M546.32 296.01V300.91M544.59 296.72L548.05 300.19M544.59 300.19L548.05 296.72" stroke="#ff0000" stroke-width="0.9" fill="none"/>
<path d="M547.92 299.44H552.82M550.37 296.99V301.89M548.64 297.71L552.1 301.17M548.64 301.17L552.1 297.71" stroke="#ff0000" stroke-width="0.9" fill="none"/>
<path d="M551.6 302.51H556.5M554.05 300.06V304.96M552.32 300.78L555.78 304.24M552.32 304.24L555.78 300.78" stroke="#ff0000" stroke-width="0.9" fill="none"/>
<path d="M554.96 307.27H559.86M557.41 304.82V309.72M555.68 305.54L559.14 309.01M555.68 309.01L559.14 305.54" stroke="#ff0000" stroke-width="0.9" fill="none"/>
<path d="M558.02 313.47H562.92M560.47 311.02V315.92M558.74 311.74L562.2 315.2M558.74 315.2L562.2 311.74" stroke="#ff0000" stroke-width="0.9" fill="none"/>
<path d="M560.81 320.98H565.71M563.26 318.53V323.43M561.53 319.25L564.99 322.71M561.53 322.71L564.99 319.25" stroke="#ff0000" stroke-width="0.9" fill="none"/>
<path d="M563.36 329.31H568.26M565.81 326.86V331.76M564.07 327.57L567.54 331.04M564.07 331.04L567.54 327.57" stroke="#ff0000" stroke-width="0.9" fill="none"/>
<path d="M565.68 338.29H570.58M568.13 335.84V340.74M566.4 336.56L569.86 340.02M566.4 340.02L569.86 336.56" stroke="#ff0000" stroke-width="0.9" fill="none"/>
<path d="M567.8 347.53H572.7M570.25 345.08V349.98M568.51 345.8L571.98 349.26M568.51 349.26L571.98 345.8" stroke="#ff0000" stroke-width="0.9" fill="none"/>
<path d="M569.73 357.35H574.63M572.18 354.9V359.8M570.45 355.62L573.91 359.08M570.45 359.08L573.91 355.62" stroke="#ff0000" stroke-width="0.9" fill="none"/>
<path d="M571.5 366.96H576.4M573.95 364.51V369.41M572.21 365.23L575.68 368.69M572.21 368.69L575.68 365.23" stroke="#ff0000" stroke-width="0.9" fill="none"/>
<path d="M573.11 376.39H578.01M575.56 373.94V378.84M573.83 374.66L577.29 378.12M573.83 378.12L577.29 374.66" stroke="#ff0000" stroke-width="0.9" fill="none"/>
<path d="M574.58 385.69H579.48M577.03 383.24V388.14M575.3 383.95L578.76 387.42M575.3 387.42L578.76 383.95" stroke="#ff0000" stroke-width="0.9" fill="none"/>
<path d="M476.29 399.65H481.19M478.74 397.2V402.1M477.01 397.91L480.48 401.38M477.01 401.38L480.48 397.91" stroke="#ff0000" stroke-width="0.9" fill="none"/>
<path d="M488.15 385.93H493.05M490.6 383.48V388.38M488.86 384.2L492.33 387.66M488.86 387.66L492.33 384.2" stroke="#ff0000" stroke-width="0.9" fill="none"/>
<path d="M498.99 373.46H503.89M501.44 371.01V375.91M499.71 371.72L503.17 375.19M499.71 375.19L503.17 371.72" stroke="#ff0000" stroke-width="0.9" fill="none"/>
<path d="M508.92 362.11H513.82M511.37 359.66V364.56M509.64 360.38L513.1 363.84M509.64 363.84L513.1 360.38" stroke="#ff0000" stroke-width="0.9" fill="none"/>
<path d="M518.01 351.79H522.91M520.46 349.34V354.24M518.72 350.06L522.19 353.52M518.72 353.52L522.19 350.06" stroke="#ff0000" stroke-width="0.9" fill="none"/>
<path d="M526.32 342.35H531.22M528.77 339.9V344.8M527.04 340.62L530.51 344.08M527.04 344.08L530.51 340.62" stroke="#ff0000" stroke-width="0.9" fill="none"/>
<path d="M533.94 333.7H538.84M536.39 331.25V336.15M534.66 331.97L538.12 335.43M534.66 335.43L538.12 331.97" stroke="#ff0000" stroke-width="0.9" fill="none"/>
<path d="M540.91 325.94H545.81M543.36 323.49V328.39M541.63 324.21L545.09 327.67M541.63 327.67L545.09 324.21" stroke="#ff0000" stroke-width="0.9" fill="none"/>
<path d="M547.29 319.04H552.19M549.74 316.59V321.49M548.01 317.31L551.47 320.78M548.01 320.78L551.47 317.31" stroke="#ff0000" stroke-width="0.9" fill="none"/>
<path d="M553.12 313.41H558.02M555.57 310.96V315.86M553.84 311.68L557.3 315.15M553.84 315.15L557.3 311.68" stroke="#ff0000" stroke-width="0.9" fill="none"/>
<path d="M558.44 309.14H563.34M560.89 306.69V311.59M559.16 307.41L562.62 310.87M559.16 310.87L562.62 307.41" stroke="#ff0000" stroke-width="0.9" fill="none"/>
<path d="M563.3 306.49H568.2M565.75 304.04V308.94M564.02 304.76L567.49 308.22M564.02 308.22L567.49 304.76" stroke="#ff0000" stroke-width="0.9" fill="none"/>
<path d="M567.74 305.76H572.64M570.19 303.31V308.21M568.46 304.02L571.92 307.49M568.46 307.49L571.92 304.02" stroke="#ff0000" stroke-width="0.9" fill="none"/>
<path d="M571.78 306.74H576.68M574.23 304.29V309.19M572.5 305.01L575.97 308.47M572.5 308.47L575.97 305.01" stroke="#ff0000" stroke-width="0.9" fill="none"/>
<path d="M575.47 309.81H580.37M577.92 307.36V312.26M576.19 308.08L579.65 311.54M576.19 311.54L579.65 308.08" stroke="#ff0000" stroke-width="0.9" fill="none"/>
<path d="M578.83 314.57H583.73M581.28 312.12V317.02M579.55 312.84L583.01 316.31M579.55 316.31L583.01 312.84" stroke="#ff0000" stroke-width="0.9" fill="none"/>
<path d="M581.89 320.77H586.79M584.34 318.32V323.22M582.61 319.04L586.07 322.5M582.61 322.5L586.07 319.04" stroke="#ff0000" stroke-width="0.9" fill="none"/>
<path d="M584.68 328.28H589.58M587.13 325.83V330.73M585.4 326.55L588.86 330.01M585.4 330.01L588.86 326.55" stroke="#ff0000" stroke-width="0.9" fill="none"/>
<path d="M587.22 336.61H592.12M589.67 334.16V339.06M587.94 334.87L591.41 338.34M587.94 338.34L591.41 334.87" stroke="#ff0000" stroke-width="0.9" fill="none"/>
<path d="M589.54 345.59H594.44M591.99 343.14V348.04M590.26 343.86L593.73 347.32M590.26 347.32L593.73 343.86" stroke="#ff0000" stroke-width="0.9" fill="none"/>
<path d="M591.66 354.83H596.56M594.11 352.38V357.28M592.38 353.1L595.85 356.56M592.38 356.56L595.85 353.1" stroke="#ff0000" stroke-width="0.9" fill="none"/>
<path d="M593.6 364.65H598.5M596.05 362.2V367.1M594.31 362.92L597.78 366.38M594.31 366.38L597.78 362.92" stroke="#ff0000" stroke-width="0.9" fill="none"/>
<path d="M595.36 374.26H600.26M597.81 371.81V376.71M596.08 372.53L599.55 375.99M596.08 375.99L599.55 372.53" stroke="#ff0000" stroke-width="0.9" fill="none"/>
<path d="M596.98 383.69H601.88M599.43 381.24V386.14M597.69 381.96L601.16 385.42M597.69 385.42L601.16 381.96" stroke="#ff0000" stroke-width="0.9" fill="none"/>
<path d="M598.45 392.99H603.35M600.9 390.54V395.44M599.17 391.25L602.63 394.72M599.17 394.72L602.63 391.25" stroke="#ff0000" stroke-width="0.9" fill="none"/>
<path d="M500.16 406.95H505.06M502.61 404.5V409.4M500.88 405.21L504.34 408.68M500.88 408.68L504.34 405.21" stroke="#ff0000" stroke-width="0.9" fill="none"/>
<path d="M512.01 393.23H516.91M514.46 390.78V395.68M512.73 391.5L516.19 394.96M512.73 394.96L516.19 391.5" stroke="#ff0000" stroke-width="0.9" fill="none"/>
<path d="M522.86 380.76H527.76M525.31 378.31V383.21M523.58 379.02L527.04 382.49M523.58 382.49L527.04 379.02" stroke="#ff0000" stroke-width="0.9" fill="none"/>
<path d="M532.79 369.41H537.69M535.24 366.96V371.86M533.5 367.68L536.97 371.14M533.5 371.14L536.97 367.68" stroke="#ff0000" stroke-width="0.9" fill="none"/>
<path d="M541.87 359.09H546.77M544.32 356.64V361.54M542.59 357.36L546.05 360.82M542.59 360.82L546.05 357.36" stroke="#ff0000" stroke-width="0.9" fill="none"/>
<path d="M550.19 349.65H555.09M552.64 347.2V352.1M550.91 347.92L554.37 351.38M550.91 351.38L554.37 347.92" stroke="#ff0000" stroke-width="0.9" fill="none"/>
<path d="M557.81 341H562.71M560.26 338.55V343.45M558.52 339.27L561.99 342.73M558.52 342.73L561.99 339.27" stroke="#ff0000" stroke-width="0.9" fill="none"/>
<path d="M564.78 333.24H569.68M567.23 330.79V335.69M565.49 331.51L568.96 334.97M565.49 334.97L568.96 331.51" stroke="#ff0000" stroke-width="0.9" fill="none"/>
<path d="M571.16 326.34H576.06M573.61 323.89V328.79M571.87 324.61L575.34 328.08M571.87 328.08L575.34 324.61" stroke="#ff0000" stroke-width="0.9" fill="none"/>
<path d="M576.98 320.71H581.88M579.43 318.26V323.16M577.7 318.98L581.17 322.45M577.7 322.45L581.17 318.98" stroke="#ff0000" stroke-width="0.9" fill="none"/>
<path d="M582.31 316.44H587.21M584.76 313.99V318.89M583.03 314.71L586.49 318.17M583.03 318.17L586.49 314.71" stroke="#ff0000" stroke-width="0.9" fill="none"/>
<path d="M587.17 313.79H592.07M589.62 311.34V316.24M587.89 312.06L591.35 315.52M587.89 315.52L591.35 312.06" stroke="#ff0000" stroke-width="0.9" fill="none"/>
<path d="M591.6 313.06H596.5M594.05 310.61V315.51M592.32 311.32L595.79 314.79M592.32 314.79L595.79 311.32" stroke="#ff0000" stroke-width="0.9" fill="none"/>
<path d="M595.65 314.04H600.55M598.1 311.59V316.49M596.37 312.31L599.83 315.77M596.37 315.77L599.83 312.31" stroke="#ff0000" stroke-width="0.9" fill="none"/>
<path d="M599.34 317.11H604.24M601.79 314.66V319.56M600.05 315.38L603.52 318.84M600.05 318.84L603.52 315.38" stroke="#ff0000" stroke-width="0.9" fill="none"/>
<path d="M602.69 321.87H607.59M605.14 319.42V324.32M603.41 320.14L606.88 323.61M603.41 323.61L606.88 320.14" stroke="#ff0000" stroke-width="0.9" fill="none"/>
<path d="M605.76 328.07H610.66M608.21 325.62V330.52M606.47 326.34L609.94 329.8M606.47 329.8L609.94 326.34" stroke="#ff0000" stroke-width="0.9" fill="none"/>
<path d="M608.54 335.58H613.44M610.99 333.13V338.03M609.26 333.85L612.73 337.31M609.26 337.31L612.73 333.85" stroke="#ff0000" stroke-width="0.9" fill="none"/>
<path d="M611.09 343.91H615.99M613.54 341.46V346.36M611.81 342.17L615.27 345.64M611.81 345.64L615.27 342.17" stroke="#ff0000" stroke-width="0.9" fill="none"/>
<path d="M613.41 352.89H618.31M615.86 350.44V355.34M614.13 351.16L617.59 354.62M614.13 354.62L617.59 351.16" stroke="#ff0000" stroke-width="0.9" fill="none"/>
<path d="M615.53 362.13H620.43M617.98 359.68V364.58M616.25 360.4L619.71 363.86M616.25 363.86L619.71 360.4" stroke="#ff0000" stroke-width="0.9" fill="none"/>
<path d="M617.46 371.95H622.36M619.91 369.5V374.4M618.18 370.22L621.64 373.68M618.18 373.68L621.64 370.22" stroke="#ff0000" stroke-width="0.9" fill="none"/>
<path d="M619.23 381.56H624.13M621.68 379.11V384.01M619.95 379.83L623.41 383.29M619.95 383.29L623.41 379.83" stroke="#ff0000" stroke-width="0.9" fill="none"/>
<path d="M620.84 390.99H625.74M623.29 388.54V393.44M621.56 389.26L625.03 392.72M621.56 392.72L625.03 389.26" stroke="#ff0000" stroke-width="0.9" fill="none"/>
<path d="M622.31 400.29H627.21M624.76 397.84V402.74M623.03 398.55L626.5 402.02M623.03 402.02L626.5 398.55" stroke="#ff0000" stroke-width="0.9" fill="none"/>
<circle cx="407.14" cy="377.75" r="2.55" stroke="#0a0aff" stroke-width="0.65" fill="none"/>
<circle cx="419" cy="364.03" r="2.55" stroke="#0a0aff" stroke-width="0.65" fill="none"/>
<circle cx="429.84" cy="351.56" r="2.55" stroke="#0a0aff" stroke-width="0.65" fill="none"/>
<circle cx="439.77" cy="340.21" r="2.55" stroke="#0a0aff" stroke-width="0.65" fill="none"/>
<circle cx="448.86" cy="329.89" r="2.55" stroke="#0a0aff" stroke-width="0.65" fill="none"/>
<circle cx="457.17" cy="320.45" r="2.55" stroke="#0a0aff" stroke-width="0.65" fill="none"/>
<circle cx="464.79" cy="311.8" r="2.55" stroke="#0a0aff" stroke-width="0.65" fill="none"/>
<circle cx="471.76" cy="304.04" r="2.55" stroke="#0a0aff" stroke-width="0.65" fill="none"/>
<circle cx="478.14" cy="297.14" r="2.55" stroke="#0a0aff" stroke-width="0.65" fill="none"/>
<circle cx="483.97" cy="291.51" r="2.55" stroke="#0a0aff" stroke-width="0.65" fill="none"/>
<circle cx="489.29" cy="287.24" r="2.55" stroke="#0a0aff" stroke-width="0.65" fill="none"/>
<circle cx="494.15" cy="284.59" r="2.55" stroke="#0a0aff" stroke-width="0.65" fill="none"/>
<circle cx="498.59" cy="283.86" r="2.55" stroke="#0a0aff" stroke-width="0.65" fill="none"/>
<circle cx="502.63" cy="284.84" r="2.55" stroke="#0a0aff" stroke-width="0.65" fill="none"/>
<circle cx="506.32" cy="287.91" r="2.55" stroke="#0a0aff" stroke-width="0.65" fill="none"/>
<circle cx="509.68" cy="292.67" r="2.55" stroke="#0a0aff" stroke-width="0.65" fill="none"/>
<circle cx="512.74" cy="298.87" r="2.55" stroke="#0a0aff" stroke-width="0.65" fill="none"/>
<circle cx="515.53" cy="306.38" r="2.55" stroke="#0a0aff" stroke-width="0.65" fill="none"/>
<circle cx="518.07" cy="314.71" r="2.55" stroke="#0a0aff" stroke-width="0.65" fill="none"/>
<circle cx="520.39" cy="323.69" r="2.55" stroke="#0a0aff" stroke-width="0.65" fill="none"/>
<circle cx="522.51" cy="332.93" r="2.55" stroke="#0a0aff" stroke-width="0.65" fill="none"/>
<circle cx="524.45" cy="342.75" r="2.55" stroke="#0a0aff" stroke-width="0.65" fill="none"/>
<circle cx="526.21" cy="352.36" r="2.55" stroke="#0a0aff" stroke-width="0.65" fill="none"/>
<circle cx="527.83" cy="361.79" r="2.55" stroke="#0a0aff" stroke-width="0.65" fill="none"/>
<circle cx="529.3" cy="371.09" r="2.55" stroke="#0a0aff" stroke-width="0.65" fill="none"/>
<circle cx="431.01" cy="385.04" r="2.55" stroke="#0a0aff" stroke-width="0.65" fill="none"/>
<circle cx="442.86" cy="373.03" r="2.55" stroke="#0a0aff" stroke-width="0.65" fill="none"/>
<circle cx="453.71" cy="361.74" r="2.55" stroke="#0a0aff" stroke-width="0.65" fill="none"/>
<circle cx="463.64" cy="351.48" r="2.55" stroke="#0a0aff" stroke-width="0.65" fill="none"/>
<circle cx="472.72" cy="342.29" r="2.55" stroke="#0a0aff" stroke-width="0.65" fill="none"/>
<circle cx="481.04" cy="333.29" r="2.55" stroke="#0a0aff" stroke-width="0.65" fill="none"/>
<circle cx="488.66" cy="324.97" r="2.55" stroke="#0a0aff" stroke-width="0.65" fill="none"/>
<circle cx="495.63" cy="317.48" r="2.55" stroke="#0a0aff" stroke-width="0.65" fill="none"/>
<circle cx="502.01" cy="310.47" r="2.55" stroke="#0a0aff" stroke-width="0.65" fill="none"/>
<circle cx="507.83" cy="304.26" r="2.55" stroke="#0a0aff" stroke-width="0.65" fill="none"/>
<circle cx="513.16" cy="299.08" r="2.55" stroke="#0a0aff" stroke-width="0.65" fill="none"/>
<circle cx="518.02" cy="294.39" r="2.55" stroke="#0a0aff" stroke-width="0.65" fill="none"/>
<circle cx="522.45" cy="289.31" r="2.55" stroke="#0a0aff" stroke-width="0.65" fill="none"/>
<circle cx="526.5" cy="285.79" r="2.55" stroke="#0a0aff" stroke-width="0.65" fill="none"/>
<circle cx="530.19" cy="282.91" r="2.55" stroke="#0a0aff" stroke-width="0.65" fill="none"/>
<circle cx="533.54" cy="281.29" r="2.55" stroke="#0a0aff" stroke-width="0.65" fill="none"/>
<circle cx="536.61" cy="281.26" r="2.55" stroke="#0a0aff" stroke-width="0.65" fill="none"/>
<circle cx="539.39" cy="283.69" r="2.55" stroke="#0a0aff" stroke-width="0.65" fill="none"/>
<circle cx="541.94" cy="288.96" r="2.55" stroke="#0a0aff" stroke-width="0.65" fill="none"/>
<circle cx="544.26" cy="296.5" r="2.55" stroke="#0a0aff" stroke-width="0.65" fill="none"/>
<circle cx="546.38" cy="310.35" r="2.55" stroke="#0a0aff" stroke-width="0.65" fill="none"/>
<circle cx="548.31" cy="327.89" r="2.55" stroke="#0a0aff" stroke-width="0.65" fill="none"/>
<circle cx="550.08" cy="351.04" r="2.55" stroke="#0a0aff" stroke-width="0.65" fill="none"/>
<circle cx="551.69" cy="381.05" r="2.55" stroke="#0a0aff" stroke-width="0.65" fill="none"/>
<circle cx="553.16" cy="417.4" r="2.55" stroke="#0a0aff" stroke-width="0.65" fill="none"/>
<circle cx="454.88" cy="392.35" r="2.55" stroke="#0a0aff" stroke-width="0.65" fill="none"/>
<circle cx="466.73" cy="378.63" r="2.55" stroke="#0a0aff" stroke-width="0.65" fill="none"/>
<circle cx="477.57" cy="366.16" r="2.55" stroke="#0a0aff" stroke-width="0.65" fill="none"/>
<circle cx="487.5" cy="354.81" r="2.55" stroke="#0a0aff" stroke-width="0.65" fill="none"/>
<circle cx="496.59" cy="344.49" r="2.55" stroke="#0a0aff" stroke-width="0.65" fill="none"/>
<circle cx="504.91" cy="335.05" r="2.55" stroke="#0a0aff" stroke-width="0.65" fill="none"/>
<circle cx="512.52" cy="326.4" r="2.55" stroke="#0a0aff" stroke-width="0.65" fill="none"/>
<circle cx="519.49" cy="318.64" r="2.55" stroke="#0a0aff" stroke-width="0.65" fill="none"/>
<circle cx="525.87" cy="311.74" r="2.55" stroke="#0a0aff" stroke-width="0.65" fill="none"/>
<circle cx="531.7" cy="306.11" r="2.55" stroke="#0a0aff" stroke-width="0.65" fill="none"/>
<circle cx="537.03" cy="301.84" r="2.55" stroke="#0a0aff" stroke-width="0.65" fill="none"/>
<circle cx="541.89" cy="299.19" r="2.55" stroke="#0a0aff" stroke-width="0.65" fill="none"/>
<circle cx="546.32" cy="298.46" r="2.55" stroke="#0a0aff" stroke-width="0.65" fill="none"/>
<circle cx="550.37" cy="299.44" r="2.55" stroke="#0a0aff" stroke-width="0.65" fill="none"/>
<circle cx="554.05" cy="302.51" r="2.55" stroke="#0a0aff" stroke-width="0.65" fill="none"/>
<circle cx="557.41" cy="307.27" r="2.55" stroke="#0a0aff" stroke-width="0.65" fill="none"/>
<circle cx="560.47" cy="313.47" r="2.55" stroke="#0a0aff" stroke-width="0.65" fill="none"/>
<circle cx="563.26" cy="320.98" r="2.55" stroke="#0a0aff" stroke-width="0.65" fill="none"/>
<circle cx="565.81" cy="329.31" r="2.55" stroke="#0a0aff" stroke-width="0.65" fill="none"/>
<circle cx="568.13" cy="338.29" r="2.55" stroke="#0a0aff" stroke-width="0.65" fill="none"/>
<circle cx="570.25" cy="347.53" r="2.55" stroke="#0a0aff" stroke-width="0.65" fill="none"/>
<circle cx="572.18" cy="357.35" r="2.55" stroke="#0a0aff" stroke-width="0.65" fill="none"/>
<circle cx="573.95" cy="366.96" r="2.55" stroke="#0a0aff" stroke-width="0.65" fill="none"/>
<circle cx="575.56" cy="376.39" r="2.55" stroke="#0a0aff" stroke-width="0.65" fill="none"/>
<circle cx="577.03" cy="385.69" r="2.55" stroke="#0a0aff" stroke-width="0.65" fill="none"/>
<circle cx="478.74" cy="399.65" r="2.55" stroke="#0a0aff" stroke-width="0.65" fill="none"/>
<circle cx="490.6" cy="385.93" r="2.55" stroke="#0a0aff" stroke-width="0.65" fill="none"/>
<circle cx="501.44" cy="373.46" r="2.55" stroke="#0a0aff" stroke-width="0.65" fill="none"/>
<circle cx="511.37" cy="362.11" r="2.55" stroke="#0a0aff" stroke-width="0.65" fill="none"/>
<circle cx="520.46" cy="351.79" r="2.55" stroke="#0a0aff" stroke-width="0.65" fill="none"/>
<circle cx="528.77" cy="342.35" r="2.55" stroke="#0a0aff" stroke-width="0.65" fill="none"/>
<circle cx="536.39" cy="333.7" r="2.55" stroke="#0a0aff" stroke-width="0.65" fill="none"/>
<circle cx="543.36" cy="325.94" r="2.55" stroke="#0a0aff" stroke-width="0.65" fill="none"/>
<circle cx="549.74" cy="319.04" r="2.55" stroke="#0a0aff" stroke-width="0.65" fill="none"/>
<circle cx="555.57" cy="313.41" r="2.55" stroke="#0a0aff" stroke-width="0.65" fill="none"/>
<circle cx="560.89" cy="309.14" r="2.55" stroke="#0a0aff" stroke-width="0.65" fill="none"/>
<circle cx="565.75" cy="306.49" r="2.55" stroke="#0a0aff" stroke-width="0.65" fill="none"/>
<circle cx="570.19" cy="305.76" r="2.55" stroke="#0a0aff" stroke-width="0.65" fill="none"/>
<circle cx="574.23" cy="306.74" r="2.55" stroke="#0a0aff" stroke-width="0.65" fill="none"/>
<circle cx="577.92" cy="309.81" r="2.55" stroke="#0a0aff" stroke-width="0.65" fill="none"/>
<circle cx="581.28" cy="314.57" r="2.55" stroke="#0a0aff" stroke-width="0.65" fill="none"/>
<circle cx="584.34" cy="320.77" r="2.55" stroke="#0a0aff" stroke-width="0.65" fill="none"/>
<circle cx="587.13" cy="328.28" r="2.55" stroke="#0a0aff" stroke-width="0.65" fill="none"/>
<circle cx="589.67" cy="336.61" r="2.55" stroke="#0a0aff" stroke-width="0.65" fill="none"/>
<circle cx="591.99" cy="345.59" r="2.55" stroke="#0a0aff" stroke-width="0.65" fill="none"/>
<circle cx="594.11" cy="354.83" r="2.55" stroke="#0a0aff" stroke-width="0.65" fill="none"/>
<circle cx="596.05" cy="364.65" r="2.55" stroke="#0a0aff" stroke-width="0.65" fill="none"/>
<circle cx="597.81" cy="374.26" r="2.55" stroke="#0a0aff" stroke-width="0.65" fill="none"/>
<circle cx="599.43" cy="383.69" r="2.55" stroke="#0a0aff" stroke-width="0.65" fill="none"/>
<circle cx="600.9" cy="392.99" r="2.55" stroke="#0a0aff" stroke-width="0.65" fill="none"/>
<circle cx="502.61" cy="406.95" r="2.55" stroke="#0a0aff" stroke-width="0.65" fill="none"/>
<circle cx="514.46" cy="393.23" r="2.55" stroke="#0a0aff" stroke-width="0.65" fill="none"/>
<circle cx="525.31" cy="380.76" r="2.55" stroke="#0a0aff" stroke-width="0.65" fill="none"/>
<circle cx="535.24" cy="369.41" r="2.55" stroke="#0a0aff" stroke-width="0.65" fill="none"/>
<circle cx="544.32" cy="359.09" r="2.55" stroke="#0a0aff" stroke-width="0.65" fill="none"/>
<circle cx="552.64" cy="349.65" r="2.55" stroke="#0a0aff" stroke-width="0.65" fill="none"/>
<circle cx="560.26" cy="341" r="2.55" stroke="#0a0aff" stroke-width="0.65" fill="none"/>
<circle cx="567.23" cy="333.24" r="2.55" stroke="#0a0aff" stroke-width="0.65" fill="none"/>
<circle cx="573.61" cy="326.34" r="2.55" stroke="#0a0aff" stroke-width="0.65" fill="none"/>
<circle cx="579.43" cy="320.71" r="2.55" stroke="#0a0aff" stroke-width="0.65" fill="none"/>
<circle cx="584.76" cy="316.44" r="2.55" stroke="#0a0aff" stroke-width="0.65" fill="none"/>
<circle cx="589.62" cy="313.79" r="2.55" stroke="#0a0aff" stroke-width="0.65" fill="none"/>
<circle cx="594.05" cy="313.06" r="2.55" stroke="#0a0aff" stroke-width="0.65" fill="none"/>
<circle cx="598.1" cy="314.04" r="2.55" stroke="#0a0aff" stroke-width="0.65" fill="none"/>
<circle cx="601.79" cy="317.11" r="2.55" stroke="#0a0aff" stroke-width="0.65" fill="none"/>
<circle cx="605.14" cy="321.87" r="2.55" stroke="#0a0aff" stroke-width="0.65" fill="none"/>
<circle cx="608.21" cy="328.07" r="2.55" stroke="#0a0aff" stroke-width="0.65" fill="none"/>
<circle cx="610.99" cy="335.58" r="2.55" stroke="#0a0aff" stroke-width="0.65" fill="none"/>
<circle cx="613.54" cy="343.91" r="2.55" stroke="#0a0aff" stroke-width="0.65" fill="none"/>
<circle cx="615.86" cy="352.89" r="2.55" stroke="#0a0aff" stroke-width="0.65" fill="none"/>
<circle cx="617.98" cy="362.13" r="2.55" stroke="#0a0aff" stroke-width="0.65" fill="none"/>
<circle cx="619.91" cy="371.95" r="2.55" stroke="#0a0aff" stroke-width="0.65" fill="none"/>
<circle cx="621.68" cy="381.56" r="2.55" stroke="#0a0aff" stroke-width="0.65" fill="none"/>
<circle cx="623.29" cy="390.99" r="2.55" stroke="#0a0aff" stroke-width="0.65" fill="none"/>
<circle cx="624.76" cy="400.29" r="2.55" stroke="#0a0aff" stroke-width="0.65" fill="none"/>
<polyline points="407.14,377.75 419,364.03 429.84,351.56 439.77,340.21 448.86,329.89 457.17,320.45 464.79,311.8 471.76,304.04 478.14,297.14 483.97,291.51 489.29,287.24 494.15,284.59 498.59,283.86 502.63,284.84 506.32,287.91 509.68,292.67 512.74,298.87 515.53,306.38 518.07,314.71 520.39,323.69 522.51,332.93 524.45,342.75 526.21,352.36 527.83,361.79 529.3,371.09" fill="none" stroke="#000" stroke-opacity="0.4" stroke-width="1.1" stroke-linejoin="round"/>
<polyline points="454.88,392.35 466.73,378.63 477.57,366.16 487.5,354.81 496.59,344.49 504.91,335.05 512.52,326.4 519.49,318.64 525.87,311.74 531.7,306.11 537.03,301.84 541.89,299.19 546.32,298.46 550.37,299.44 554.05,302.51 557.41,307.27 560.47,313.47 563.26,320.98 565.81,329.31 568.13,338.29 570.25,347.53 572.18,357.35 573.95,366.96 575.56,376.39 577.03,385.69" fill="none" stroke="#000" stroke-opacity="0.4" stroke-width="1.1" stroke-linejoin="round"/>
<polyline points="478.74,399.65 490.6,385.93 501.44,373.46 511.37,362.11 520.46,351.79 528.77,342.35 536.39,333.7 543.36,325.94 549.74,319.04 555.57,313.41 560.89,309.14 565.75,306.49 570.19,305.76 574.23,306.74 577.92,309.81 581.28,314.57 584.34,320.77 587.13,328.28 589.67,336.61 591.99,345.59 594.11,354.83 596.05,364.65 597.81,374.26 599.43,383.69 600.9,392.99" fill="none" stroke="#000" stroke-opacity="0.4" stroke-width="1.1" stroke-linejoin="round"/>
<polyline points="502.61,406.95 514.46,393.23 525.31,380.76 535.24,369.41 544.32,359.09 552.64,349.65 560.26,341 567.23,333.24 573.61,326.34 579.43,320.71 584.76,316.44 589.62,313.79 594.05,313.06 598.1,314.04 601.79,317.11 605.14,321.87 608.21,328.07 610.99,335.58 613.54,343.91 615.86,352.89 617.98,362.13 619.91,371.95 621.68,381.56 623.29,390.99 624.76,400.29" fill="none" stroke="#000" stroke-opacity="0.4" stroke-width="1.1" stroke-linejoin="round"/>
<polyline points="382.4,298.65 382.4,441.1 525.6,484.9 666.3,441.1" fill="none" stroke="#262626" stroke-width="1.3" stroke-linejoin="round"/>
<line x1="382.4" y1="429.25" x2="378.38" y2="428.02" stroke="#262626" stroke-width="1.1"/>
<text x="374.9" y="430.35" font-size="12.2" text-anchor="end" fill="#1a1a1a" stroke="#1a1a1a" stroke-width="0.06" textLength="15.46" lengthAdjust="spacingAndGlyphs">-10</text>
<line x1="382.4" y1="400.36" x2="378.38" y2="399.13" stroke="#262626" stroke-width="1.1"/>
<text x="374.9" y="401.46" font-size="12.2" text-anchor="end" fill="#1a1a1a" stroke="#1a1a1a" stroke-width="0.06" textLength="9.66" lengthAdjust="spacingAndGlyphs">-5</text>
<line x1="382.4" y1="371.46" x2="378.38" y2="370.24" stroke="#262626" stroke-width="1.1"/>
<text x="374.9" y="372.56" font-size="12.2" text-anchor="end" fill="#1a1a1a" stroke="#1a1a1a" stroke-width="0.06" textLength="5.8" lengthAdjust="spacingAndGlyphs">0</text>
<line x1="382.4" y1="342.57" x2="378.38" y2="341.34" stroke="#262626" stroke-width="1.1"/>
<text x="374.9" y="343.67" font-size="12.2" text-anchor="end" fill="#1a1a1a" stroke="#1a1a1a" stroke-width="0.06" textLength="5.8" lengthAdjust="spacingAndGlyphs">5</text>
<line x1="382.4" y1="313.68" x2="378.38" y2="312.45" stroke="#262626" stroke-width="1.1"/>
<text x="374.9" y="314.78" font-size="12.2" text-anchor="end" fill="#1a1a1a" stroke="#1a1a1a" stroke-width="0.06" textLength="11.6" lengthAdjust="spacingAndGlyphs">10</text>
<line x1="406.27" y1="448.4" x2="402.26" y2="449.65" stroke="#262626" stroke-width="1.1"/>
<text x="401.67" y="451.9" font-size="12" text-anchor="end" fill="#1a1a1a" stroke="#1a1a1a" stroke-width="0.06" transform="rotate(-73 401.67 451.9)" textLength="24.38" lengthAdjust="spacingAndGlyphs">ZOA</text>
<line x1="430.13" y1="455.7" x2="426.12" y2="456.95" stroke="#262626" stroke-width="1.1"/>
<text x="425.53" y="459.2" font-size="12" text-anchor="end" fill="#1a1a1a" stroke="#1a1a1a" stroke-width="0.06" transform="rotate(-73 425.53 459.2)" textLength="26.29" lengthAdjust="spacingAndGlyphs">OOA</text>
<line x1="454" y1="463" x2="449.99" y2="464.25" stroke="#262626" stroke-width="1.1"/>
<text x="449.4" y="466.5" font-size="12" text-anchor="end" fill="#1a1a1a" stroke="#1a1a1a" stroke-width="0.06" transform="rotate(-73 449.4 466.5)" textLength="17.42" lengthAdjust="spacingAndGlyphs">HO</text>
<line x1="477.87" y1="470.3" x2="473.86" y2="471.55" stroke="#262626" stroke-width="1.1"/>
<text x="473.27" y="473.8" font-size="12" text-anchor="end" fill="#1a1a1a" stroke="#1a1a1a" stroke-width="0.06" transform="rotate(-73 473.27 473.8)" textLength="24.86" lengthAdjust="spacingAndGlyphs">ECO</text>
<line x1="501.73" y1="477.6" x2="497.72" y2="478.85" stroke="#262626" stroke-width="1.1"/>
<text x="497.13" y="481.1" font-size="12" text-anchor="end" fill="#1a1a1a" stroke="#1a1a1a" stroke-width="0.06" transform="rotate(-73 497.13 481.1)" textLength="31.2" lengthAdjust="spacingAndGlyphs">SFOA</text>
<line x1="525.6" y1="484.9" x2="529.62" y2="486.13" stroke="#262626" stroke-width="1.1"/>
<text x="532.6" y="497.2" font-size="12.2" text-anchor="start" fill="#1a1a1a" stroke="#1a1a1a" stroke-width="0.06" textLength="5.8" lengthAdjust="spacingAndGlyphs">0</text>
<line x1="595.95" y1="463" x2="599.97" y2="464.23" stroke="#262626" stroke-width="1.1"/>
<text x="602.95" y="475.3" font-size="12.2" text-anchor="start" fill="#1a1a1a" stroke="#1a1a1a" stroke-width="0.06" textLength="11.6" lengthAdjust="spacingAndGlyphs">10</text>
<line x1="666.3" y1="441.1" x2="670.32" y2="442.33" stroke="#262626" stroke-width="1.1"/>
<text x="673.3" y="453.4" font-size="12.2" text-anchor="start" fill="#1a1a1a" stroke="#1a1a1a" stroke-width="0.06" textLength="11.6" lengthAdjust="spacingAndGlyphs">20</text>
<text x="352.4" y="370.2" font-size="12.6" text-anchor="middle" fill="#1a1a1a" stroke="#1a1a1a" stroke-width="0.06" transform="rotate(-90 352.4 370.2)" textLength="35.3" lengthAdjust="spacingAndGlyphs">P (W)</text>
<text x="605.9" y="501.3" font-size="12.6" text-anchor="middle" fill="#1a1a1a" stroke="#1a1a1a" stroke-width="0.06" textLength="32.8" lengthAdjust="spacingAndGlyphs">V (V)</text>
<text x="392" y="274" font-size="20.5" text-anchor="start" fill="#000" stroke="#000" stroke-width="0.06" textLength="24.9" lengthAdjust="spacingAndGlyphs">(d)</text>
<line x1="457" y1="430.9" x2="480.8" y2="430.9" stroke="#000" stroke-width="1.35"/>
<path d="M466.75 443.8H471.65M469.2 441.35V446.25M467.47 442.07L470.93 445.53M467.47 445.53L470.93 442.07" stroke="#ff0000" stroke-width="0.9" fill="none"/>
<circle cx="469.2" cy="456.6" r="2.55" stroke="#0a0aff" stroke-width="0.65" fill="none"/>
<text x="483.6" y="433.8" font-size="10.3" text-anchor="start" fill="#000" stroke="#000" stroke-width="0.06" textLength="42.3" lengthAdjust="spacingAndGlyphs">Measured</text>
<text x="483.6" y="446.6" font-size="10.3" text-anchor="start" fill="#000" stroke="#000" stroke-width="0.06" textLength="69.6" lengthAdjust="spacingAndGlyphs">Without-Secant</text>
<text x="483.6" y="459.4" font-size="10.3" text-anchor="start" fill="#000" stroke="#000" stroke-width="0.06" textLength="55" lengthAdjust="spacingAndGlyphs">With-Secant</text>
</svg>
</body>
</html>
